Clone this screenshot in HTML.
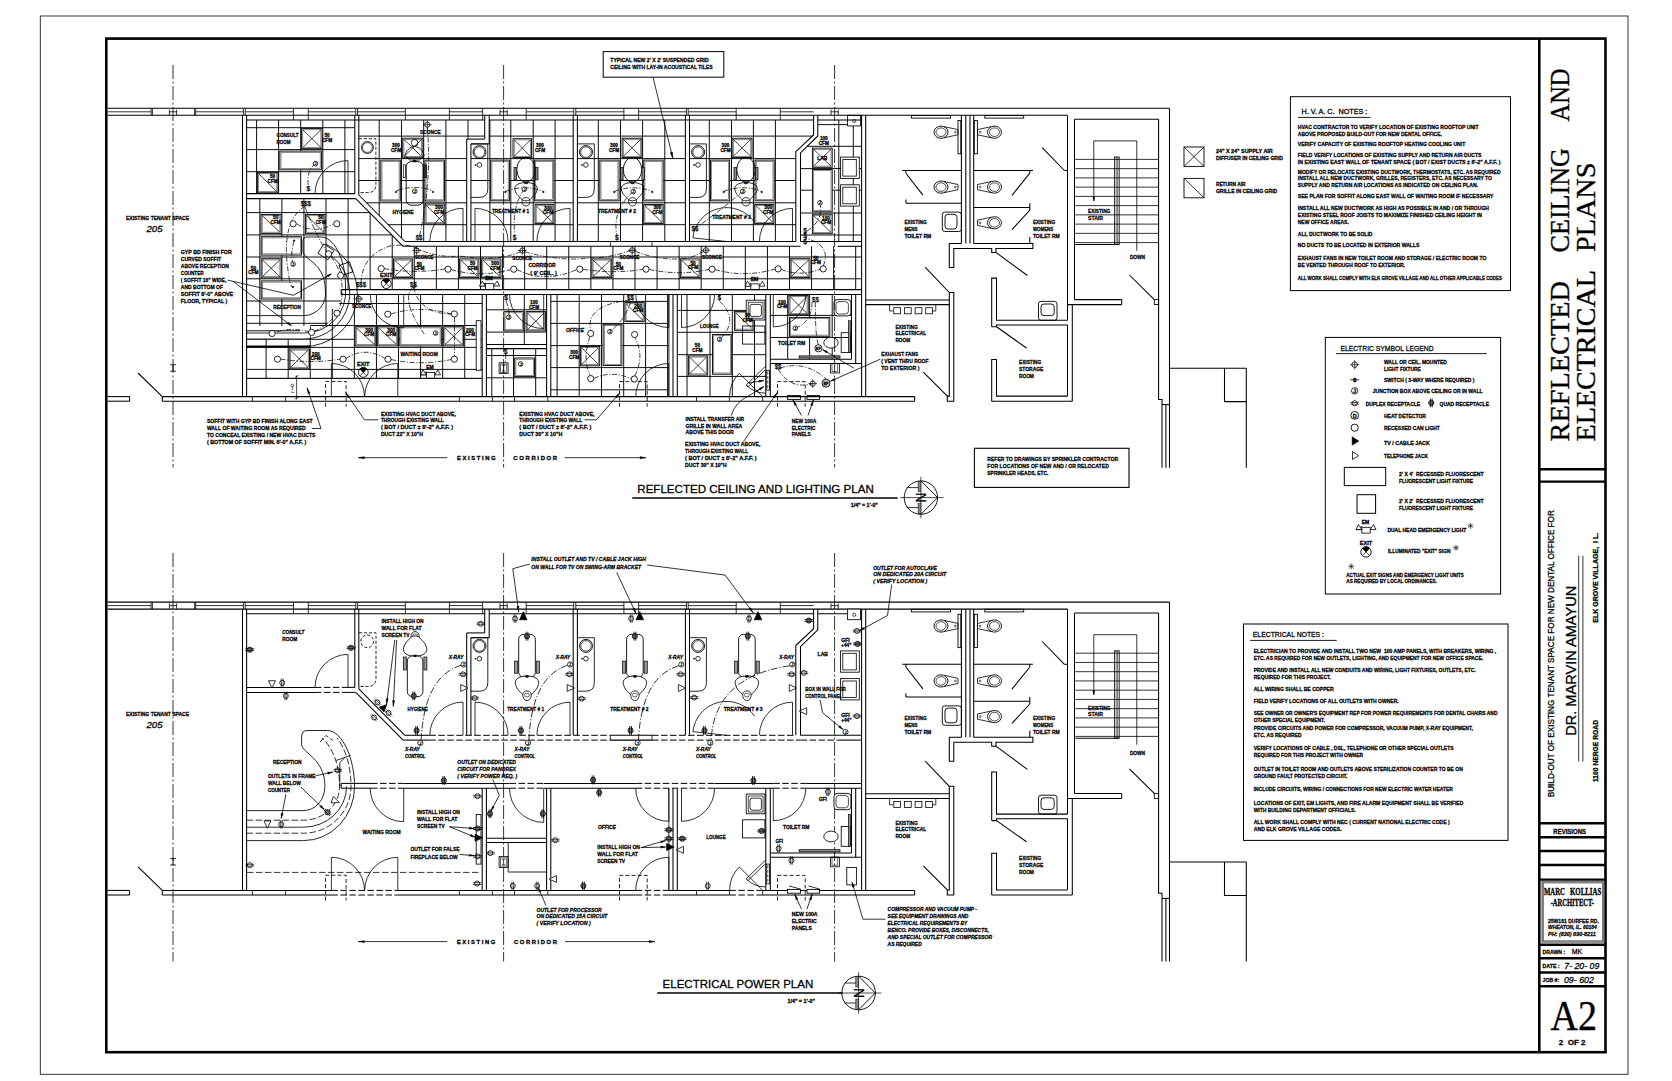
<!DOCTYPE html>
<html><head><meta charset="utf-8"><title>A2 Reflected Ceiling and Electrical Plans</title>
<style>
html,body{margin:0;padding:0;background:#fff;}
svg{display:block}
text{font-family:"Liberation Sans",sans-serif;font-weight:bold;fill:#000;stroke:#000;stroke-width:.28px}
text.r{font-family:"Liberation Serif",serif;font-weight:normal;stroke-width:.35px}
text.n{font-weight:normal}
text.b{font-weight:bold}
</style></head><body>
<svg width="1672" height="1081" viewBox="0 0 1672 1081">
<rect x="0" y="0" width="1672" height="1081" fill="#fff"/>
<rect x="40.3" y="16" width="1587.7" height="1058.3" fill="none" stroke="#222" stroke-width="0.9"/>
<rect x="106.3" y="38.6" width="1499.2" height="1013.6" fill="none" stroke="#000" stroke-width="2.6"/>
<line x1="1539.3" y1="38.6" x2="1539.3" y2="1052.2" stroke="#000" stroke-width="2.6"/>
<line x1="1539.3" y1="469.2" x2="1605.5" y2="469.2" stroke="#000" stroke-width="2.4"/>
<line x1="1539.3" y1="481.6" x2="1605.5" y2="481.6" stroke="#000" stroke-width="2.4"/>
<line x1="1539.3" y1="823.2" x2="1605.5" y2="823.2" stroke="#000" stroke-width="2.4"/>
<line x1="1539.3" y1="837.2" x2="1605.5" y2="837.2" stroke="#000" stroke-width="2.4"/>
<line x1="1539.3" y1="851" x2="1605.5" y2="851" stroke="#000" stroke-width="2.4"/>
<line x1="1539.3" y1="865" x2="1605.5" y2="865" stroke="#000" stroke-width="2.4"/>
<line x1="1539.3" y1="879.6" x2="1605.5" y2="879.6" stroke="#000" stroke-width="2.4"/>
<line x1="1539.3" y1="944.8" x2="1605.5" y2="944.8" stroke="#000" stroke-width="2.4"/>
<line x1="1539.3" y1="958.3" x2="1605.5" y2="958.3" stroke="#000" stroke-width="2.4"/>
<line x1="1539.3" y1="972.5" x2="1605.5" y2="972.5" stroke="#000" stroke-width="2.4"/>
<line x1="1539.3" y1="986.3" x2="1605.5" y2="986.3" stroke="#000" stroke-width="2.4"/>
<rect x="1542.2" y="881.8" width="61.4" height="60.2" fill="none" stroke="#777" stroke-width="1.6"/>
<rect x="1543.4" y="883" width="59" height="57.8" fill="none" stroke="#333" stroke-width="0.6"/>
<text class="r" x="1569" y="441.5" font-size="28.3" textLength="160.5" lengthAdjust="spacingAndGlyphs" transform="rotate(-90 1569 441.5)" xml:space="preserve">REFLECTED</text>
<text class="r" x="1569" y="252.5" font-size="28.3" textLength="104.5" lengthAdjust="spacingAndGlyphs" transform="rotate(-90 1569 252.5)" xml:space="preserve">CEILING</text>
<text class="r" x="1569" y="121.5" font-size="28.3" textLength="53" lengthAdjust="spacingAndGlyphs" transform="rotate(-90 1569 121.5)" xml:space="preserve">AND</text>
<text class="r" x="1595.2" y="441.5" font-size="28.3" textLength="171.5" lengthAdjust="spacingAndGlyphs" transform="rotate(-90 1595.2 441.5)" xml:space="preserve">ELECTRICAL</text>
<text class="r" x="1595.2" y="252" font-size="28.3" textLength="89.5" lengthAdjust="spacingAndGlyphs" transform="rotate(-90 1595.2 252)" xml:space="preserve">PLANS</text>
<text class="n" x="1553.8" y="797.2" font-size="8.2" textLength="287" lengthAdjust="spacingAndGlyphs" transform="rotate(-90 1553.8 797.2)" xml:space="preserve">BUILD-OUT OF EXISTING TENANT SPACE FOR NEW DENTAL OFFICE FOR</text>
<text class="n" x="1576.4" y="735.8" font-size="14.2" textLength="150" lengthAdjust="spacingAndGlyphs" transform="rotate(-90 1576.4 735.8)" xml:space="preserve">DR. MARVIN AMAYUN</text>
<line x1="1578.7" y1="761.5" x2="1578.7" y2="555.7" stroke="#000" stroke-width="0.8"/>
<line x1="1582.9" y1="761.5" x2="1582.9" y2="555.7" stroke="#000" stroke-width="0.8"/>
<text x="1597.7" y="782" font-size="7.4" textLength="62" lengthAdjust="spacingAndGlyphs" transform="rotate(-90 1597.7 782)" xml:space="preserve">1100 NERGE ROAD</text>
<text x="1597.7" y="622.8" font-size="7.4" textLength="90" lengthAdjust="spacingAndGlyphs" transform="rotate(-90 1597.7 622.8)" xml:space="preserve">ELK GROVE VILLAGE,  I L.</text>
<text x="1553.3" y="833.9" font-size="7.4" textLength="32.7" lengthAdjust="spacingAndGlyphs" xml:space="preserve">REVISIONS</text>
<text class="r b" x="1543.9" y="895.2" font-size="11" textLength="21" lengthAdjust="spacingAndGlyphs" xml:space="preserve">MARC</text>
<text class="r b" x="1570" y="895.2" font-size="11" textLength="31.3" lengthAdjust="spacingAndGlyphs" xml:space="preserve">KOLLIAS</text>
<text class="r b" x="1550.7" y="906.3" font-size="9.6" textLength="43.2" lengthAdjust="spacingAndGlyphs" xml:space="preserve">-ARCHITECT-</text>
<text x="1548" y="922.6" font-size="6.2" textLength="50.9" lengthAdjust="spacingAndGlyphs" xml:space="preserve">25W181 DURFEE RD.</text>
<text x="1548" y="929.4" font-size="6.2" font-style="italic" textLength="48.7" lengthAdjust="spacingAndGlyphs" xml:space="preserve">WHEATON, IL. 60184</text>
<text x="1548" y="936.3" font-size="6.2" font-style="italic" textLength="47.7" lengthAdjust="spacingAndGlyphs" xml:space="preserve">PH: (630) 690-8211</text>
<text x="1542.6" y="953.9" font-size="6.2" textLength="22.6" lengthAdjust="spacingAndGlyphs" xml:space="preserve">DRAWN :</text>
<text class="n" x="1571.7" y="954.4" font-size="8" textLength="10.5" lengthAdjust="spacingAndGlyphs" xml:space="preserve">MK</text>
<text x="1542.6" y="968" font-size="6.2" textLength="17" lengthAdjust="spacingAndGlyphs" xml:space="preserve">DATE :</text>
<text class="n" x="1564.3" y="968.6" font-size="9" font-style="italic" textLength="35" lengthAdjust="spacingAndGlyphs" xml:space="preserve">7- 20- 09</text>
<text x="1542.6" y="982.2" font-size="6.2" textLength="16.6" lengthAdjust="spacingAndGlyphs" xml:space="preserve">JOB #:</text>
<text class="n" x="1563.9" y="982.8" font-size="9" font-style="italic" textLength="30" lengthAdjust="spacingAndGlyphs" xml:space="preserve">09- 602</text>
<text class="r" x="1550.5" y="1030.4" font-size="42" textLength="46.5" lengthAdjust="spacingAndGlyphs" fill="#444" xml:space="preserve">A2</text>
<text x="1558.7" y="1045.2" font-size="8" textLength="26.9" lengthAdjust="spacingAndGlyphs" xml:space="preserve">2  OF 2</text>
<clipPath id="c1"><polygon points="246.6,119.9 354.8,119.9 354.8,193.6 246.6,193.6"/></clipPath><g clip-path="url(#c1)">
<line x1="256.6" y1="119.9" x2="256.6" y2="193.6" stroke="#000" stroke-width="0.95"/>
<line x1="278.6" y1="119.9" x2="278.6" y2="193.6" stroke="#000" stroke-width="0.95"/>
<line x1="300.7" y1="119.9" x2="300.7" y2="193.6" stroke="#000" stroke-width="0.95"/>
<line x1="322.8" y1="119.9" x2="322.8" y2="193.6" stroke="#000" stroke-width="0.95"/>
<line x1="344.9" y1="119.9" x2="344.9" y2="193.6" stroke="#000" stroke-width="0.95"/>
<line x1="246.6" y1="127.7" x2="354.8" y2="127.7" stroke="#000" stroke-width="0.95"/>
<line x1="246.6" y1="149.6" x2="354.8" y2="149.6" stroke="#000" stroke-width="0.95"/>
<line x1="246.6" y1="171.7" x2="354.8" y2="171.7" stroke="#000" stroke-width="0.95"/>
</g>
<clipPath id="c2"><polygon points="246.6,198.6 355.8,198.6 403.1,246.3 861.6,246.3 861.6,289.6 341.2,289.6 341.2,302 326,326 246.6,326"/></clipPath><g clip-path="url(#c2)">
<line x1="259.8" y1="198.6" x2="259.8" y2="326" stroke="#000" stroke-width="0.95"/>
<line x1="281.87" y1="198.6" x2="281.87" y2="326" stroke="#000" stroke-width="0.95"/>
<line x1="303.94" y1="198.6" x2="303.94" y2="326" stroke="#000" stroke-width="0.95"/>
<line x1="326.01" y1="198.6" x2="326.01" y2="326" stroke="#000" stroke-width="0.95"/>
<line x1="348.08" y1="198.6" x2="348.08" y2="326" stroke="#000" stroke-width="0.95"/>
<line x1="370.15" y1="198.6" x2="370.15" y2="326" stroke="#000" stroke-width="0.95"/>
<line x1="392.22" y1="198.6" x2="392.22" y2="326" stroke="#000" stroke-width="0.95"/>
<line x1="414.29" y1="198.6" x2="414.29" y2="326" stroke="#000" stroke-width="0.95"/>
<line x1="436.36" y1="198.6" x2="436.36" y2="326" stroke="#000" stroke-width="0.95"/>
<line x1="458.43" y1="198.6" x2="458.43" y2="326" stroke="#000" stroke-width="0.95"/>
<line x1="480.5" y1="198.6" x2="480.5" y2="326" stroke="#000" stroke-width="0.95"/>
<line x1="502.57" y1="198.6" x2="502.57" y2="326" stroke="#000" stroke-width="0.95"/>
<line x1="524.64" y1="198.6" x2="524.64" y2="326" stroke="#000" stroke-width="0.95"/>
<line x1="546.71" y1="198.6" x2="546.71" y2="326" stroke="#000" stroke-width="0.95"/>
<line x1="568.78" y1="198.6" x2="568.78" y2="326" stroke="#000" stroke-width="0.95"/>
<line x1="590.85" y1="198.6" x2="590.85" y2="326" stroke="#000" stroke-width="0.95"/>
<line x1="612.92" y1="198.6" x2="612.92" y2="326" stroke="#000" stroke-width="0.95"/>
<line x1="634.99" y1="198.6" x2="634.99" y2="326" stroke="#000" stroke-width="0.95"/>
<line x1="657.06" y1="198.6" x2="657.06" y2="326" stroke="#000" stroke-width="0.95"/>
<line x1="679.13" y1="198.6" x2="679.13" y2="326" stroke="#000" stroke-width="0.95"/>
<line x1="701.2" y1="198.6" x2="701.2" y2="326" stroke="#000" stroke-width="0.95"/>
<line x1="723.27" y1="198.6" x2="723.27" y2="326" stroke="#000" stroke-width="0.95"/>
<line x1="745.34" y1="198.6" x2="745.34" y2="326" stroke="#000" stroke-width="0.95"/>
<line x1="767.41" y1="198.6" x2="767.41" y2="326" stroke="#000" stroke-width="0.95"/>
<line x1="789.48" y1="198.6" x2="789.48" y2="326" stroke="#000" stroke-width="0.95"/>
<line x1="811.55" y1="198.6" x2="811.55" y2="326" stroke="#000" stroke-width="0.95"/>
<line x1="833.62" y1="198.6" x2="833.62" y2="326" stroke="#000" stroke-width="0.95"/>
<line x1="855.69" y1="198.6" x2="855.69" y2="326" stroke="#000" stroke-width="0.95"/>
<line x1="246.6" y1="212.6" x2="861.6" y2="212.6" stroke="#000" stroke-width="0.95"/>
<line x1="246.6" y1="234.9" x2="861.6" y2="234.9" stroke="#000" stroke-width="0.95"/>
<line x1="246.6" y1="257" x2="861.6" y2="257" stroke="#000" stroke-width="0.95"/>
<line x1="246.6" y1="278.8" x2="861.6" y2="278.8" stroke="#000" stroke-width="0.95"/>
<line x1="246.6" y1="301" x2="861.6" y2="301" stroke="#000" stroke-width="0.95"/>
<line x1="246.6" y1="323.3" x2="861.6" y2="323.3" stroke="#000" stroke-width="0.95"/>
</g>
<clipPath id="c3"><polygon points="246.6,339.3 310,339.3 310,326 341.2,302 341.2,294.4 482.2,294.4 482.2,378.4 246.6,378.4"/></clipPath><g clip-path="url(#c3)">
<line x1="266.1" y1="294.4" x2="266.1" y2="378.4" stroke="#000" stroke-width="0.95"/>
<line x1="288.17" y1="294.4" x2="288.17" y2="378.4" stroke="#000" stroke-width="0.95"/>
<line x1="310.24" y1="294.4" x2="310.24" y2="378.4" stroke="#000" stroke-width="0.95"/>
<line x1="332.31" y1="294.4" x2="332.31" y2="378.4" stroke="#000" stroke-width="0.95"/>
<line x1="354.38" y1="294.4" x2="354.38" y2="378.4" stroke="#000" stroke-width="0.95"/>
<line x1="376.45" y1="294.4" x2="376.45" y2="378.4" stroke="#000" stroke-width="0.95"/>
<line x1="398.52" y1="294.4" x2="398.52" y2="378.4" stroke="#000" stroke-width="0.95"/>
<line x1="420.59" y1="294.4" x2="420.59" y2="378.4" stroke="#000" stroke-width="0.95"/>
<line x1="442.66" y1="294.4" x2="442.66" y2="378.4" stroke="#000" stroke-width="0.95"/>
<line x1="464.73" y1="294.4" x2="464.73" y2="378.4" stroke="#000" stroke-width="0.95"/>
<line x1="246.6" y1="303.5" x2="482.2" y2="303.5" stroke="#000" stroke-width="0.95"/>
<line x1="246.6" y1="325.5" x2="482.2" y2="325.5" stroke="#000" stroke-width="0.95"/>
<line x1="246.6" y1="339.3" x2="482.2" y2="339.3" stroke="#000" stroke-width="0.95"/>
<line x1="246.6" y1="347.4" x2="482.2" y2="347.4" stroke="#000" stroke-width="0.95"/>
<line x1="246.6" y1="369.4" x2="482.2" y2="369.4" stroke="#000" stroke-width="0.95"/>
<line x1="246.6" y1="378.4" x2="482.2" y2="378.4" stroke="#000" stroke-width="0.95"/>
</g>
<line x1="246.6" y1="378.4" x2="482.2" y2="378.4" stroke="#000" stroke-width="0.95"/>
<line x1="246.6" y1="346.5" x2="310" y2="346.5" stroke="#000" stroke-width="1.8"/>
<clipPath id="c4"><polygon points="358.8,119.9 484.7,119.9 484.7,139.1 466.7,139.1 466.7,241.5 404.9,241.5 358.8,195"/></clipPath><g clip-path="url(#c4)">
<line x1="379.2" y1="119.9" x2="379.2" y2="241.5" stroke="#000" stroke-width="0.95"/>
<line x1="401.5" y1="119.9" x2="401.5" y2="241.5" stroke="#000" stroke-width="0.95"/>
<line x1="423.7" y1="119.9" x2="423.7" y2="241.5" stroke="#000" stroke-width="0.95"/>
<line x1="445.9" y1="119.9" x2="445.9" y2="241.5" stroke="#000" stroke-width="0.95"/>
<line x1="468" y1="119.9" x2="468" y2="241.5" stroke="#000" stroke-width="0.95"/>
<line x1="358.8" y1="136.1" x2="484.7" y2="136.1" stroke="#000" stroke-width="0.95"/>
<line x1="358.8" y1="158.6" x2="484.7" y2="158.6" stroke="#000" stroke-width="0.95"/>
<line x1="358.8" y1="180.5" x2="484.7" y2="180.5" stroke="#000" stroke-width="0.95"/>
<line x1="358.8" y1="202.8" x2="484.7" y2="202.8" stroke="#000" stroke-width="0.95"/>
<line x1="358.8" y1="224.7" x2="484.7" y2="224.7" stroke="#000" stroke-width="0.95"/>
</g>
<clipPath id="c5"><polygon points="489.2,119.9 573.2,119.9 573.2,241.5 470.9,241.5 470.9,143.9 489.2,143.9"/></clipPath><g clip-path="url(#c5)">
<line x1="489.9" y1="119.9" x2="489.9" y2="241.5" stroke="#000" stroke-width="0.95"/>
<line x1="510.8" y1="119.9" x2="510.8" y2="241.5" stroke="#000" stroke-width="0.95"/>
<line x1="533.2" y1="119.9" x2="533.2" y2="241.5" stroke="#000" stroke-width="0.95"/>
<line x1="555.1" y1="119.9" x2="555.1" y2="241.5" stroke="#000" stroke-width="0.95"/>
<line x1="470.9" y1="136.1" x2="573.2" y2="136.1" stroke="#000" stroke-width="0.95"/>
<line x1="470.9" y1="158.6" x2="573.2" y2="158.6" stroke="#000" stroke-width="0.95"/>
<line x1="470.9" y1="180.5" x2="573.2" y2="180.5" stroke="#000" stroke-width="0.95"/>
<line x1="470.9" y1="202.8" x2="573.2" y2="202.8" stroke="#000" stroke-width="0.95"/>
<line x1="470.9" y1="224.7" x2="573.2" y2="224.7" stroke="#000" stroke-width="0.95"/>
</g>
<clipPath id="c6"><polygon points="577.4,119.9 685.4,119.9 685.4,241.5 577.4,241.5"/></clipPath><g clip-path="url(#c6)">
<line x1="598.3" y1="119.9" x2="598.3" y2="241.5" stroke="#000" stroke-width="0.95"/>
<line x1="620.5" y1="119.9" x2="620.5" y2="241.5" stroke="#000" stroke-width="0.95"/>
<line x1="642.6" y1="119.9" x2="642.6" y2="241.5" stroke="#000" stroke-width="0.95"/>
<line x1="664.8" y1="119.9" x2="664.8" y2="241.5" stroke="#000" stroke-width="0.95"/>
<line x1="577.4" y1="136.1" x2="685.4" y2="136.1" stroke="#000" stroke-width="0.95"/>
<line x1="577.4" y1="158.6" x2="685.4" y2="158.6" stroke="#000" stroke-width="0.95"/>
<line x1="577.4" y1="180.5" x2="685.4" y2="180.5" stroke="#000" stroke-width="0.95"/>
<line x1="577.4" y1="202.8" x2="685.4" y2="202.8" stroke="#000" stroke-width="0.95"/>
<line x1="577.4" y1="224.7" x2="685.4" y2="224.7" stroke="#000" stroke-width="0.95"/>
</g>
<clipPath id="c7"><polygon points="689.5,119.9 813.6,119.9 813.6,134.9 795.8,151.7 795.8,241.5 689.5,241.5"/></clipPath><g clip-path="url(#c7)">
<line x1="709.3" y1="119.9" x2="709.3" y2="241.5" stroke="#000" stroke-width="0.95"/>
<line x1="731.5" y1="119.9" x2="731.5" y2="241.5" stroke="#000" stroke-width="0.95"/>
<line x1="753.4" y1="119.9" x2="753.4" y2="241.5" stroke="#000" stroke-width="0.95"/>
<line x1="775.4" y1="119.9" x2="775.4" y2="241.5" stroke="#000" stroke-width="0.95"/>
<line x1="689.5" y1="136.1" x2="813.6" y2="136.1" stroke="#000" stroke-width="0.95"/>
<line x1="689.5" y1="158.6" x2="813.6" y2="158.6" stroke="#000" stroke-width="0.95"/>
<line x1="689.5" y1="180.5" x2="813.6" y2="180.5" stroke="#000" stroke-width="0.95"/>
<line x1="689.5" y1="202.8" x2="813.6" y2="202.8" stroke="#000" stroke-width="0.95"/>
<line x1="689.5" y1="224.7" x2="813.6" y2="224.7" stroke="#000" stroke-width="0.95"/>
</g>
<clipPath id="c8"><polygon points="817.8,119.9 861.6,119.9 861.6,241.5 800.5,241.5 800.5,152.9 817.8,136"/></clipPath><g clip-path="url(#c8)">
<line x1="838.8" y1="119.9" x2="838.8" y2="241.5" stroke="#000" stroke-width="0.95"/>
<line x1="853.3" y1="119.9" x2="853.3" y2="241.5" stroke="#000" stroke-width="0.95"/>
<line x1="800.5" y1="124.6" x2="861.6" y2="124.6" stroke="#000" stroke-width="0.95"/>
<line x1="800.5" y1="146.3" x2="861.6" y2="146.3" stroke="#000" stroke-width="0.95"/>
<line x1="800.5" y1="168.6" x2="861.6" y2="168.6" stroke="#000" stroke-width="0.95"/>
<line x1="800.5" y1="190.2" x2="861.6" y2="190.2" stroke="#000" stroke-width="0.95"/>
<line x1="800.5" y1="213" x2="861.6" y2="213" stroke="#000" stroke-width="0.95"/>
<line x1="800.5" y1="235" x2="861.6" y2="235" stroke="#000" stroke-width="0.95"/>
</g>
<clipPath id="c9"><polygon points="486.4,294.4 546.6,294.4 546.6,344.4 486.4,344.4"/></clipPath><g clip-path="url(#c9)">
<line x1="524.3" y1="294.4" x2="524.3" y2="344.4" stroke="#000" stroke-width="0.95"/>
<line x1="486.4" y1="309.8" x2="546.6" y2="309.8" stroke="#000" stroke-width="0.95"/>
<line x1="486.4" y1="332.1" x2="546.6" y2="332.1" stroke="#000" stroke-width="0.95"/>
</g>
<clipPath id="c10"><polygon points="486.4,348.6 546.6,348.6 546.6,396.6 486.4,396.6"/></clipPath><g clip-path="url(#c10)">
<line x1="491.8" y1="348.6" x2="491.8" y2="396.6" stroke="#000" stroke-width="0.95"/>
<line x1="513.5" y1="348.6" x2="513.5" y2="396.6" stroke="#000" stroke-width="0.95"/>
<line x1="535.7" y1="348.6" x2="535.7" y2="396.6" stroke="#000" stroke-width="0.95"/>
<line x1="486.4" y1="355.5" x2="546.6" y2="355.5" stroke="#000" stroke-width="0.95"/>
<line x1="486.4" y1="377.8" x2="546.6" y2="377.8" stroke="#000" stroke-width="0.95"/>
</g>
<clipPath id="c11"><polygon points="550.8,294.4 668.9,294.4 668.9,396.6 550.8,396.6"/></clipPath><g clip-path="url(#c11)">
<line x1="557.1" y1="294.4" x2="557.1" y2="396.6" stroke="#000" stroke-width="0.95"/>
<line x1="579.2" y1="294.4" x2="579.2" y2="396.6" stroke="#000" stroke-width="0.95"/>
<line x1="601.5" y1="294.4" x2="601.5" y2="396.6" stroke="#000" stroke-width="0.95"/>
<line x1="623.7" y1="294.4" x2="623.7" y2="396.6" stroke="#000" stroke-width="0.95"/>
<line x1="645.6" y1="294.4" x2="645.6" y2="396.6" stroke="#000" stroke-width="0.95"/>
<line x1="667.6" y1="294.4" x2="667.6" y2="396.6" stroke="#000" stroke-width="0.95"/>
<line x1="550.8" y1="301.4" x2="668.9" y2="301.4" stroke="#000" stroke-width="0.95"/>
<line x1="550.8" y1="323.4" x2="668.9" y2="323.4" stroke="#000" stroke-width="0.95"/>
<line x1="550.8" y1="345.6" x2="668.9" y2="345.6" stroke="#000" stroke-width="0.95"/>
<line x1="550.8" y1="367.6" x2="668.9" y2="367.6" stroke="#000" stroke-width="0.95"/>
<line x1="550.8" y1="389.8" x2="668.9" y2="389.8" stroke="#000" stroke-width="0.95"/>
</g>
<clipPath id="c12"><polygon points="677.3,294.4 765.8,294.4 765.8,396.6 677.3,396.6"/></clipPath><g clip-path="url(#c12)">
<line x1="687" y1="294.4" x2="687" y2="396.6" stroke="#000" stroke-width="0.95"/>
<line x1="710" y1="294.4" x2="710" y2="396.6" stroke="#000" stroke-width="0.95"/>
<line x1="732.3" y1="294.4" x2="732.3" y2="396.6" stroke="#000" stroke-width="0.95"/>
<line x1="754.5" y1="294.4" x2="754.5" y2="396.6" stroke="#000" stroke-width="0.95"/>
<line x1="677.3" y1="310.4" x2="765.8" y2="310.4" stroke="#000" stroke-width="0.95"/>
<line x1="677.3" y1="332.3" x2="765.8" y2="332.3" stroke="#000" stroke-width="0.95"/>
<line x1="677.3" y1="354.7" x2="765.8" y2="354.7" stroke="#000" stroke-width="0.95"/>
<line x1="677.3" y1="376.4" x2="765.8" y2="376.4" stroke="#000" stroke-width="0.95"/>
</g>
<clipPath id="c13"><polygon points="770.3,294.4 851.5,294.4 851.5,359.2 770.3,359.2"/></clipPath><g clip-path="url(#c13)">
<line x1="787.7" y1="294.4" x2="787.7" y2="359.2" stroke="#000" stroke-width="0.95"/>
<line x1="809.6" y1="294.4" x2="809.6" y2="359.2" stroke="#000" stroke-width="0.95"/>
<line x1="832.2" y1="294.4" x2="832.2" y2="359.2" stroke="#000" stroke-width="0.95"/>
<line x1="770.3" y1="315.4" x2="851.5" y2="315.4" stroke="#000" stroke-width="0.95"/>
<line x1="770.3" y1="337.5" x2="851.5" y2="337.5" stroke="#000" stroke-width="0.95"/>
</g>
<path d="M 306 237 H 323 C 336 240 346 262 345.5 288 A 41 41 0 0 1 303.8 333 H246.6" fill="none" stroke="#000" stroke-width="0.85"/>
<path d="M 306 237 Q 303.2 237 303 241 V 251 C 303 260 325 262 325.3 290 A 22 22 0 0 1 304 315.6 H 246.6" fill="none" stroke="#000" stroke-width="0.85"/>
<path d="M325.4 252.38 A46 46 0 0 1 303.8 339 L246.6 339" fill="none" stroke="#000" stroke-width="0.85"/>
<path d="M325.6 244.03 A53.6 53.6 0 0 1 303.8 346.6 L246.6 346.6" fill="none" stroke="#000" stroke-width="0.85"/>
<g transform="rotate(33 327 252)">
<rect x="320" y="247" width="12" height="11" fill="none" stroke="#000" stroke-width="0.8"/>
</g>
<g transform="rotate(-20 346 270)">
<rect x="341" y="263.5" width="11" height="10.5" fill="none" stroke="#000" stroke-width="0.8"/>
</g>
<line x1="246.6" y1="330.8" x2="300" y2="330.8" stroke="#000" stroke-width="0.95"/>
<rect x="301.6" y="128.6" width="20.5" height="20.1" fill="#fff" stroke="#000" stroke-width="0.9"/>
<rect x="302.8" y="129.8" width="18.1" height="17.7" fill="none" stroke="#444" stroke-width="0.6"/>
<line x1="302.8" y1="129.8" x2="320.9" y2="147.5" stroke="#000" stroke-width="0.75"/>
<line x1="320.9" y1="129.8" x2="302.8" y2="147.5" stroke="#000" stroke-width="0.75"/>
<rect x="279.8" y="151.1" width="41.6" height="18.7" fill="#fff" stroke="#000" stroke-width="0.9"/>
<rect x="281" y="152.3" width="39.2" height="16.3" fill="none" stroke="#444" stroke-width="0.6"/>
<rect x="257.4" y="172.4" width="20.6" height="20.4" fill="#fff" stroke="#000" stroke-width="0.9"/>
<rect x="258.6" y="173.6" width="18.2" height="18" fill="none" stroke="#444" stroke-width="0.6"/>
<line x1="258.6" y1="173.6" x2="276.8" y2="191.6" stroke="#000" stroke-width="0.75"/>
<rect x="261" y="214.4" width="20.1" height="19" fill="#fff" stroke="#000" stroke-width="0.9"/>
<rect x="262.2" y="215.6" width="17.7" height="16.6" fill="none" stroke="#444" stroke-width="0.6"/>
<line x1="262.2" y1="215.6" x2="279.9" y2="232.2" stroke="#000" stroke-width="0.75"/>
<rect x="305.5" y="214.4" width="19.5" height="19" fill="#fff" stroke="#000" stroke-width="0.9"/>
<rect x="306.7" y="215.6" width="17.1" height="16.6" fill="none" stroke="#444" stroke-width="0.6"/>
<line x1="306.7" y1="215.6" x2="323.8" y2="232.2" stroke="#000" stroke-width="0.75"/>
<rect x="261.2" y="236.7" width="40.3" height="18.4" fill="#fff" stroke="#000" stroke-width="0.9"/>
<rect x="262.4" y="237.9" width="37.9" height="16" fill="none" stroke="#444" stroke-width="0.6"/>
<rect x="261.2" y="258.7" width="19.9" height="19.2" fill="#fff" stroke="#000" stroke-width="0.9"/>
<rect x="262.4" y="259.9" width="17.5" height="16.8" fill="none" stroke="#444" stroke-width="0.6"/>
<line x1="262.4" y1="259.9" x2="279.9" y2="276.7" stroke="#000" stroke-width="0.75"/>
<line x1="279.9" y1="259.9" x2="262.4" y2="276.7" stroke="#000" stroke-width="0.75"/>
<rect x="261.2" y="280.9" width="40.3" height="18.1" fill="#fff" stroke="#000" stroke-width="0.9"/>
<rect x="262.4" y="282.1" width="37.9" height="15.7" fill="none" stroke="#444" stroke-width="0.6"/>
<rect x="402.7" y="138.2" width="20.2" height="19.5" fill="#fff" stroke="#000" stroke-width="0.9"/>
<rect x="403.9" y="139.4" width="17.8" height="17.1" fill="none" stroke="#444" stroke-width="0.6"/>
<line x1="403.9" y1="139.4" x2="421.7" y2="156.5" stroke="#000" stroke-width="0.75"/>
<line x1="421.7" y1="139.4" x2="403.9" y2="156.5" stroke="#000" stroke-width="0.75"/>
<rect x="380.8" y="160.1" width="19.5" height="40.9" fill="#fff" stroke="#000" stroke-width="0.9"/>
<rect x="382" y="161.3" width="17.1" height="38.5" fill="none" stroke="#444" stroke-width="0.6"/>
<rect x="424.9" y="160.1" width="19.6" height="40.9" fill="#fff" stroke="#000" stroke-width="0.9"/>
<rect x="426.1" y="161.3" width="17.2" height="38.5" fill="none" stroke="#444" stroke-width="0.6"/>
<rect x="424.9" y="204" width="19.9" height="19.9" fill="#fff" stroke="#000" stroke-width="0.9"/>
<rect x="426.1" y="205.2" width="17.5" height="17.5" fill="none" stroke="#444" stroke-width="0.6"/>
<line x1="426.1" y1="205.2" x2="443.6" y2="222.7" stroke="#000" stroke-width="0.75"/>
<rect x="513" y="138.7" width="18.6" height="18.8" fill="#fff" stroke="#000" stroke-width="0.9"/>
<rect x="514.2" y="139.9" width="16.2" height="16.4" fill="none" stroke="#444" stroke-width="0.6"/>
<line x1="514.2" y1="139.9" x2="530.4" y2="156.3" stroke="#000" stroke-width="0.75"/>
<line x1="530.4" y1="139.9" x2="514.2" y2="156.3" stroke="#000" stroke-width="0.75"/>
<rect x="490.7" y="160.1" width="18.7" height="40.7" fill="#fff" stroke="#000" stroke-width="0.9"/>
<rect x="491.9" y="161.3" width="16.3" height="38.3" fill="none" stroke="#444" stroke-width="0.6"/>
<rect x="534.4" y="160.1" width="19.5" height="40.7" fill="#fff" stroke="#000" stroke-width="0.9"/>
<rect x="535.6" y="161.3" width="17.1" height="38.3" fill="none" stroke="#444" stroke-width="0.6"/>
<rect x="535" y="204.6" width="18.9" height="19" fill="#fff" stroke="#000" stroke-width="0.9"/>
<rect x="536.2" y="205.8" width="16.5" height="16.6" fill="none" stroke="#444" stroke-width="0.6"/>
<line x1="536.2" y1="205.8" x2="552.7" y2="222.4" stroke="#000" stroke-width="0.75"/>
<rect x="622.1" y="138.2" width="19.8" height="19.3" fill="#fff" stroke="#000" stroke-width="0.9"/>
<rect x="623.3" y="139.4" width="17.4" height="16.9" fill="none" stroke="#444" stroke-width="0.6"/>
<line x1="623.3" y1="139.4" x2="640.7" y2="156.3" stroke="#000" stroke-width="0.75"/>
<line x1="640.7" y1="139.4" x2="623.3" y2="156.3" stroke="#000" stroke-width="0.75"/>
<rect x="599.8" y="160.1" width="19.3" height="40.7" fill="#fff" stroke="#000" stroke-width="0.9"/>
<rect x="601" y="161.3" width="16.9" height="38.3" fill="none" stroke="#444" stroke-width="0.6"/>
<rect x="643.7" y="160.1" width="19.5" height="40.7" fill="#fff" stroke="#000" stroke-width="0.9"/>
<rect x="644.9" y="161.3" width="17.1" height="38.3" fill="none" stroke="#444" stroke-width="0.6"/>
<rect x="643.7" y="204.4" width="19.5" height="19.2" fill="#fff" stroke="#000" stroke-width="0.9"/>
<rect x="644.9" y="205.6" width="17.1" height="16.8" fill="none" stroke="#444" stroke-width="0.6"/>
<line x1="644.9" y1="205.6" x2="662" y2="222.4" stroke="#000" stroke-width="0.75"/>
<rect x="732.1" y="138.2" width="19.9" height="19.3" fill="#fff" stroke="#000" stroke-width="0.9"/>
<rect x="733.3" y="139.4" width="17.5" height="16.9" fill="none" stroke="#444" stroke-width="0.6"/>
<line x1="733.3" y1="139.4" x2="750.8" y2="156.3" stroke="#000" stroke-width="0.75"/>
<line x1="750.8" y1="139.4" x2="733.3" y2="156.3" stroke="#000" stroke-width="0.75"/>
<rect x="710.5" y="160.1" width="19.2" height="40.7" fill="#fff" stroke="#000" stroke-width="0.9"/>
<rect x="711.7" y="161.3" width="16.8" height="38.3" fill="none" stroke="#444" stroke-width="0.6"/>
<rect x="755" y="160.1" width="19.2" height="40.7" fill="#fff" stroke="#000" stroke-width="0.9"/>
<rect x="756.2" y="161.3" width="16.8" height="38.3" fill="none" stroke="#444" stroke-width="0.6"/>
<rect x="754.7" y="204.4" width="19.2" height="19.2" fill="#fff" stroke="#000" stroke-width="0.9"/>
<rect x="755.9" y="205.6" width="16.8" height="16.8" fill="none" stroke="#444" stroke-width="0.6"/>
<line x1="755.9" y1="205.6" x2="772.7" y2="222.4" stroke="#000" stroke-width="0.75"/>
<rect x="812.4" y="148.1" width="19.8" height="19.2" fill="#fff" stroke="#000" stroke-width="0.9"/>
<rect x="813.6" y="149.3" width="17.4" height="16.8" fill="none" stroke="#444" stroke-width="0.6"/>
<line x1="813.6" y1="149.3" x2="831" y2="166.1" stroke="#000" stroke-width="0.75"/>
<line x1="831" y1="149.3" x2="813.6" y2="166.1" stroke="#000" stroke-width="0.75"/>
<rect x="812.4" y="169.5" width="19.8" height="42.3" fill="#fff" stroke="#000" stroke-width="0.9"/>
<rect x="813.6" y="170.7" width="17.4" height="39.9" fill="none" stroke="#444" stroke-width="0.6"/>
<rect x="812.4" y="214.2" width="19.8" height="19.5" fill="#fff" stroke="#000" stroke-width="0.9"/>
<rect x="813.6" y="215.4" width="17.4" height="17.1" fill="none" stroke="#444" stroke-width="0.6"/>
<line x1="813.6" y1="215.4" x2="831" y2="232.5" stroke="#000" stroke-width="0.75"/>
<rect x="840.6" y="157.1" width="18.7" height="21.3" fill="#fff" stroke="#000" stroke-width="0.85"/>
<rect x="842.8" y="159.5" width="13.5" height="16.6" fill="none" stroke="#000" stroke-width="0.8"/>
<rect x="840.6" y="184.8" width="18.7" height="21.3" fill="#fff" stroke="#000" stroke-width="0.85"/>
<rect x="842.8" y="187.2" width="13.5" height="16.6" fill="none" stroke="#000" stroke-width="0.8"/>
<rect x="847.6" y="115.3" width="12.9" height="10.6" fill="#fff" stroke="#000" stroke-width="0.85"/>
<circle cx="854.2" cy="121" r="1.6" fill="none" stroke="#000" stroke-width="0.7"/>
<rect x="393.5" y="258.9" width="19.2" height="18.7" fill="#fff" stroke="#000" stroke-width="0.9"/>
<rect x="394.7" y="260.1" width="16.8" height="16.3" fill="none" stroke="#444" stroke-width="0.6"/>
<line x1="394.7" y1="260.1" x2="411.5" y2="276.4" stroke="#000" stroke-width="0.75"/>
<line x1="411.5" y1="260.1" x2="394.7" y2="276.4" stroke="#000" stroke-width="0.75"/>
<rect x="459.6" y="258.9" width="19.3" height="18.7" fill="#fff" stroke="#000" stroke-width="0.9"/>
<rect x="460.8" y="260.1" width="16.9" height="16.3" fill="none" stroke="#444" stroke-width="0.6"/>
<line x1="460.8" y1="260.1" x2="477.7" y2="276.4" stroke="#000" stroke-width="0.75"/>
<rect x="481.6" y="258.9" width="19.3" height="18.7" fill="#fff" stroke="#000" stroke-width="0.9"/>
<rect x="482.8" y="260.1" width="16.9" height="16.3" fill="none" stroke="#444" stroke-width="0.6"/>
<line x1="482.8" y1="260.1" x2="499.7" y2="276.4" stroke="#000" stroke-width="0.75"/>
<rect x="591.9" y="258.9" width="19.8" height="18.7" fill="#fff" stroke="#000" stroke-width="0.9"/>
<rect x="593.1" y="260.1" width="17.4" height="16.3" fill="none" stroke="#444" stroke-width="0.6"/>
<line x1="593.1" y1="260.1" x2="610.5" y2="276.4" stroke="#000" stroke-width="0.75"/>
<line x1="610.5" y1="260.1" x2="593.1" y2="276.4" stroke="#000" stroke-width="0.75"/>
<rect x="680.3" y="258.9" width="19.8" height="18.7" fill="#fff" stroke="#000" stroke-width="0.9"/>
<rect x="681.5" y="260.1" width="17.4" height="16.3" fill="none" stroke="#444" stroke-width="0.6"/>
<line x1="681.5" y1="260.1" x2="698.9" y2="276.4" stroke="#000" stroke-width="0.75"/>
<rect x="790.1" y="258.7" width="19.9" height="18.9" fill="#fff" stroke="#000" stroke-width="0.9"/>
<rect x="791.3" y="259.9" width="17.5" height="16.5" fill="none" stroke="#444" stroke-width="0.6"/>
<line x1="791.3" y1="259.9" x2="808.8" y2="276.4" stroke="#000" stroke-width="0.75"/>
<line x1="808.8" y1="259.9" x2="791.3" y2="276.4" stroke="#000" stroke-width="0.75"/>
<rect x="289.2" y="348.9" width="20.2" height="19.9" fill="#fff" stroke="#000" stroke-width="0.9"/>
<rect x="290.4" y="350.1" width="17.8" height="17.5" fill="none" stroke="#444" stroke-width="0.6"/>
<line x1="290.4" y1="350.1" x2="308.2" y2="367.6" stroke="#000" stroke-width="0.75"/>
<line x1="308.2" y1="350.1" x2="290.4" y2="367.6" stroke="#000" stroke-width="0.75"/>
<rect x="355.1" y="326.7" width="20.7" height="19.2" fill="#fff" stroke="#000" stroke-width="0.9"/>
<rect x="356.3" y="327.9" width="18.3" height="16.8" fill="none" stroke="#444" stroke-width="0.6"/>
<line x1="356.3" y1="327.9" x2="374.6" y2="344.7" stroke="#000" stroke-width="0.75"/>
<rect x="377.3" y="326.7" width="20.5" height="19.2" fill="#fff" stroke="#000" stroke-width="0.9"/>
<rect x="378.5" y="327.9" width="18.1" height="16.8" fill="none" stroke="#444" stroke-width="0.6"/>
<line x1="378.5" y1="327.9" x2="396.6" y2="344.7" stroke="#000" stroke-width="0.75"/>
<rect x="399.8" y="326.7" width="41.5" height="19.2" fill="#fff" stroke="#000" stroke-width="0.9"/>
<rect x="401" y="327.9" width="39.1" height="16.8" fill="none" stroke="#444" stroke-width="0.6"/>
<rect x="443.7" y="326.7" width="19.9" height="19.2" fill="#fff" stroke="#000" stroke-width="0.9"/>
<rect x="444.9" y="327.9" width="17.5" height="16.8" fill="none" stroke="#444" stroke-width="0.6"/>
<line x1="444.9" y1="327.9" x2="462.4" y2="344.7" stroke="#000" stroke-width="0.75"/>
<line x1="462.4" y1="327.9" x2="444.9" y2="344.7" stroke="#000" stroke-width="0.75"/>
<rect x="503.9" y="311.6" width="19.8" height="19.3" fill="#fff" stroke="#000" stroke-width="0.9"/>
<rect x="505.1" y="312.8" width="17.4" height="16.9" fill="none" stroke="#444" stroke-width="0.6"/>
<rect x="526.1" y="311.6" width="19.3" height="19.3" fill="#fff" stroke="#000" stroke-width="0.9"/>
<rect x="527.3" y="312.8" width="16.9" height="16.9" fill="none" stroke="#444" stroke-width="0.6"/>
<line x1="527.3" y1="312.8" x2="544.2" y2="329.7" stroke="#000" stroke-width="0.75"/>
<line x1="544.2" y1="312.8" x2="527.3" y2="329.7" stroke="#000" stroke-width="0.75"/>
<rect x="514.7" y="358" width="19.8" height="18.6" fill="#fff" stroke="#000" stroke-width="0.9"/>
<rect x="515.9" y="359.2" width="17.4" height="16.2" fill="none" stroke="#444" stroke-width="0.6"/>
<rect x="499.1" y="362.8" width="9" height="10.8" fill="#fff" stroke="#000" stroke-width="0.8"/>
<rect x="500.4" y="364.1" width="6.4" height="8.2" fill="none" stroke="#000" stroke-width="0.6"/>
<line x1="503.6" y1="365.5" x2="503.6" y2="371" stroke="#000" stroke-width="0.7"/>
<line x1="502" y1="365.5" x2="505.2" y2="365.5" stroke="#000" stroke-width="0.7"/>
<line x1="502" y1="371" x2="505.2" y2="371" stroke="#000" stroke-width="0.7"/>
<rect x="624.9" y="302.6" width="19.3" height="18.9" fill="#fff" stroke="#000" stroke-width="0.9"/>
<rect x="626.1" y="303.8" width="16.9" height="16.5" fill="none" stroke="#444" stroke-width="0.6"/>
<line x1="626.1" y1="303.8" x2="643" y2="320.3" stroke="#000" stroke-width="0.75"/>
<rect x="580.4" y="346.5" width="19.3" height="19.3" fill="#fff" stroke="#000" stroke-width="0.9"/>
<rect x="581.6" y="347.7" width="16.9" height="16.9" fill="none" stroke="#444" stroke-width="0.6"/>
<line x1="581.6" y1="347.7" x2="598.5" y2="364.6" stroke="#000" stroke-width="0.75"/>
<line x1="598.5" y1="347.7" x2="581.6" y2="364.6" stroke="#000" stroke-width="0.75"/>
<rect x="603.1" y="324.3" width="18.8" height="41.2" fill="#fff" stroke="#000" stroke-width="0.9"/>
<rect x="604.3" y="325.5" width="16.4" height="38.8" fill="none" stroke="#444" stroke-width="0.6"/>
<rect x="688.4" y="355.9" width="19.3" height="19.2" fill="#fff" stroke="#000" stroke-width="0.9"/>
<rect x="689.6" y="357.1" width="16.9" height="16.8" fill="none" stroke="#444" stroke-width="0.6"/>
<line x1="689.6" y1="357.1" x2="706.5" y2="373.9" stroke="#000" stroke-width="0.75"/>
<line x1="706.5" y1="357.1" x2="689.6" y2="373.9" stroke="#000" stroke-width="0.75"/>
<rect x="712.5" y="334.5" width="19.2" height="39.7" fill="#fff" stroke="#000" stroke-width="0.9"/>
<rect x="713.7" y="335.7" width="16.8" height="37.3" fill="none" stroke="#444" stroke-width="0.6"/>
<rect x="734.4" y="311.6" width="19.5" height="18.7" fill="#fff" stroke="#000" stroke-width="0.9"/>
<rect x="735.6" y="312.8" width="17.1" height="16.3" fill="none" stroke="#444" stroke-width="0.6"/>
<line x1="735.6" y1="312.8" x2="752.7" y2="329.1" stroke="#000" stroke-width="0.75"/>
<rect x="746.2" y="300.2" width="18.7" height="19.8" fill="#fff" stroke="#000" stroke-width="0.85"/>
<rect x="748.2" y="302.2" width="14.8" height="16" fill="none" stroke="#000" stroke-width="0.7"/>
<rect x="750" y="304.4" width="11.4" height="12" fill="none" stroke="#000" stroke-width="0.8" rx="2"/>
<rect x="742.6" y="326" width="22.3" height="18.1" fill="none" stroke="#000" stroke-width="0.85"/>
<rect x="788.9" y="295.4" width="19.3" height="19.3" fill="#fff" stroke="#000" stroke-width="0.9"/>
<rect x="790.1" y="296.6" width="16.9" height="16.9" fill="none" stroke="#444" stroke-width="0.6"/>
<line x1="790.1" y1="296.6" x2="807" y2="313.5" stroke="#000" stroke-width="0.75"/>
<line x1="807" y1="296.6" x2="790.1" y2="313.5" stroke="#000" stroke-width="0.75"/>
<rect x="789.5" y="317.4" width="40.3" height="18.9" fill="#fff" stroke="#000" stroke-width="0.9"/>
<rect x="790.7" y="318.6" width="37.9" height="16.5" fill="none" stroke="#444" stroke-width="0.6"/>
<rect x="476.2" y="320.7" width="4.8" height="49.6" fill="#fff" stroke="#000" stroke-width="0.85"/>
<path d="M358.8 138.7 H375.9 V184.5 Q375.9 192.6 367.5 192.6 H358.8" fill="none" stroke="#000" stroke-width="0.85" stroke-dasharray="3.2 1.8"/>
<circle cx="367.4" cy="147.5" r="6" fill="none" stroke="#000" stroke-width="0.85"/>
<circle cx="367.4" cy="147.5" r="4.9" fill="none" stroke="#000" stroke-width="0.7"/>
<path d="M470.9 143.9 H487.8 V189 Q487.8 197.4 479.4 197.4 H470.9" fill="none" stroke="#000" stroke-width="0.85"/>
<circle cx="479.5" cy="152.1" r="6.5" fill="none" stroke="#000" stroke-width="0.9"/>
<circle cx="479.5" cy="152.1" r="5.3" fill="none" stroke="#000" stroke-width="0.7"/>
<circle cx="479.4" cy="164.9" r="2.3" fill="none" stroke="#000" stroke-width="0.8"/>
<circle cx="475.5" cy="164.9" r="0.6" fill="#000" stroke="#000" stroke-width="0.5"/>
<path d="M577.4 143.9 H594.3 V189 Q594.3 197.4 585.9 197.4 H577.4" fill="none" stroke="#000" stroke-width="0.85"/>
<circle cx="586" cy="152.1" r="6.5" fill="none" stroke="#000" stroke-width="0.9"/>
<circle cx="586" cy="152.1" r="5.3" fill="none" stroke="#000" stroke-width="0.7"/>
<circle cx="585.9" cy="164.9" r="2.3" fill="none" stroke="#000" stroke-width="0.8"/>
<circle cx="582" cy="164.9" r="0.6" fill="#000" stroke="#000" stroke-width="0.5"/>
<path d="M689.5 143.9 H706.4 V189 Q706.4 197.4 698 197.4 H689.5" fill="none" stroke="#000" stroke-width="0.85"/>
<circle cx="698.1" cy="152.1" r="6.5" fill="none" stroke="#000" stroke-width="0.9"/>
<circle cx="698.1" cy="152.1" r="5.3" fill="none" stroke="#000" stroke-width="0.7"/>
<circle cx="698" cy="164.9" r="2.3" fill="none" stroke="#000" stroke-width="0.8"/>
<circle cx="694.1" cy="164.9" r="0.6" fill="#000" stroke="#000" stroke-width="0.5"/>
<ellipse cx="831" cy="342.7" rx="7.2" ry="5.4" fill="#fff" stroke="#000" stroke-width="0.85"/>
<rect x="841.2" y="332.7" width="9.1" height="19.8" fill="none" stroke="#000" stroke-width="0.85"/>
<rect x="834" y="299.6" width="16.9" height="16.3" fill="#fff" stroke="#000" stroke-width="0.9" rx="3"/>
<rect x="836" y="301.6" width="12.4" height="12.4" fill="none" stroke="#000" stroke-width="0.7" rx="3"/>
<rect x="799.2" y="355.9" width="40.8" height="2.1" fill="#999" stroke="#000" stroke-width="0.8"/>
<rect x="848.5" y="320.7" width="1.8" height="31.8" fill="#999" stroke="#000" stroke-width="0.7"/>
<circle cx="818.4" cy="348.3" r="3.6" fill="#fff" stroke="#000" stroke-width="0.85"/>
<text x="818.4" y="350" font-size="4" text-anchor="middle" xml:space="preserve">EF</text>
<rect x="766.2" y="370.3" width="3.3" height="19.8" fill="none" stroke="#000" stroke-width="0.8"/>
<line x1="767.8" y1="371.5" x2="767.8" y2="389.5" stroke="#000" stroke-width="0.7" stroke-dasharray="3 1.5"/>
<path d="M777.5 406.7 L777.5 381.6 L805.2 381.6 L805.2 406.7" fill="none" stroke="#000" stroke-width="0.85" stroke-dasharray="4 2.2"/>
<rect x="787.5" y="395.6" width="12.9" height="3.8" fill="#fff" stroke="#000" stroke-width="0.9"/>
<rect x="807" y="395.6" width="12.6" height="3.8" fill="#fff" stroke="#000" stroke-width="0.9"/>
<rect x="830.4" y="363.4" width="9" height="9.6" fill="none" stroke="#000" stroke-width="0.8"/>
<rect x="832" y="363.4" width="5.8" height="8" fill="none" stroke="#000" stroke-width="0.6"/>
<circle cx="826" cy="383.2" r="4" fill="#ccc" stroke="#000" stroke-width="0.85"/>
<text x="826" y="384.9" font-size="4" text-anchor="middle" xml:space="preserve">EF</text>
<circle cx="812.7" cy="383.6" r="2.6" fill="none" stroke="#000" stroke-width="0.8"/>
<line x1="808.4" y1="383.6" x2="817" y2="383.6" stroke="#000" stroke-width="0.7"/>
<line x1="812.7" y1="379.3" x2="812.7" y2="387.9" stroke="#000" stroke-width="0.7"/>
<path d="M325.6 406.7 L325.6 381.4 L346.1 381.4 L346.1 406.7" fill="none" stroke="#000" stroke-width="0.85" stroke-dasharray="4 2.2"/>
<path d="M619.5 406.7 L619.5 381.6 L647.2 381.6 L647.2 406.7" fill="none" stroke="#000" stroke-width="0.85" stroke-dasharray="4 2.2"/>
<line x1="296.6" y1="375.5" x2="296.6" y2="399.5" stroke="#000" stroke-width="0.7"/>
<line x1="294.6" y1="377.5" x2="298.6" y2="375.5" stroke="#000" stroke-width="0.6"/>
<line x1="294.6" y1="399" x2="298.6" y2="397" stroke="#000" stroke-width="0.6"/>
<circle cx="292.3" cy="385.5" r="1.3" fill="none" stroke="#000" stroke-width="0.6"/>
<line x1="292.3" y1="386.8" x2="292.3" y2="390.5" stroke="#000" stroke-width="0.6"/>
<line x1="290.8" y1="392" x2="294" y2="392.6" stroke="#000" stroke-width="0.6"/>
<line x1="107.6" y1="108.3" x2="1169.5" y2="108.3" stroke="#000" stroke-width="1.05"/>
<line x1="107.6" y1="115.3" x2="1067.5" y2="115.3" stroke="#000" stroke-width="1.05"/>
<line x1="107.6" y1="111.8" x2="151.1" y2="111.8" stroke="#000" stroke-width="0.8"/>
<line x1="195.7" y1="111.8" x2="243.4" y2="111.8" stroke="#000" stroke-width="0.8"/>
<line x1="245.2" y1="111.8" x2="293.5" y2="111.8" stroke="#000" stroke-width="0.8"/>
<line x1="308.3" y1="111.8" x2="355.8" y2="111.8" stroke="#000" stroke-width="0.8"/>
<line x1="357.6" y1="111.8" x2="405.4" y2="111.8" stroke="#000" stroke-width="0.8"/>
<line x1="449.4" y1="111.8" x2="482.6" y2="111.8" stroke="#000" stroke-width="0.8"/>
<line x1="526.2" y1="111.8" x2="573.7" y2="111.8" stroke="#000" stroke-width="0.8"/>
<line x1="575.8" y1="111.8" x2="623.9" y2="111.8" stroke="#000" stroke-width="0.8"/>
<line x1="638.6" y1="111.8" x2="686.4" y2="111.8" stroke="#000" stroke-width="0.8"/>
<line x1="688.2" y1="111.8" x2="736.2" y2="111.8" stroke="#000" stroke-width="0.8"/>
<line x1="780.3" y1="111.8" x2="813.6" y2="111.8" stroke="#000" stroke-width="0.8"/>
<line x1="151.1" y1="108.3" x2="151.1" y2="115.3" stroke="#000" stroke-width="0.8"/>
<line x1="152.4" y1="108.3" x2="152.4" y2="115.3" stroke="#000" stroke-width="0.8"/>
<line x1="195.7" y1="108.3" x2="195.7" y2="115.3" stroke="#000" stroke-width="0.8"/>
<line x1="194.6" y1="108.3" x2="194.6" y2="115.3" stroke="#000" stroke-width="0.8"/>
<line x1="243.4" y1="108.3" x2="243.4" y2="115.3" stroke="#000" stroke-width="0.8"/>
<line x1="245.2" y1="108.3" x2="245.2" y2="115.3" stroke="#000" stroke-width="0.8"/>
<line x1="355.8" y1="108.3" x2="355.8" y2="115.3" stroke="#000" stroke-width="0.8"/>
<line x1="357.6" y1="108.3" x2="357.6" y2="115.3" stroke="#000" stroke-width="0.8"/>
<line x1="573.7" y1="108.3" x2="573.7" y2="115.3" stroke="#000" stroke-width="0.8"/>
<line x1="575.8" y1="108.3" x2="575.8" y2="115.3" stroke="#000" stroke-width="0.8"/>
<line x1="686.4" y1="108.3" x2="686.4" y2="115.3" stroke="#000" stroke-width="0.8"/>
<line x1="688.2" y1="108.3" x2="688.2" y2="115.3" stroke="#000" stroke-width="0.8"/>
<line x1="293.5" y1="108.3" x2="293.5" y2="119.9" stroke="#000" stroke-width="0.8"/>
<line x1="308.3" y1="108.3" x2="308.3" y2="119.9" stroke="#000" stroke-width="0.8"/>
<line x1="405.4" y1="108.3" x2="405.4" y2="119.9" stroke="#000" stroke-width="0.8"/>
<line x1="449.4" y1="108.3" x2="449.4" y2="119.9" stroke="#000" stroke-width="0.8"/>
<line x1="482.6" y1="108.3" x2="482.6" y2="119.9" stroke="#000" stroke-width="0.8"/>
<line x1="526.2" y1="108.3" x2="526.2" y2="119.9" stroke="#000" stroke-width="0.8"/>
<line x1="623.9" y1="108.3" x2="623.9" y2="119.9" stroke="#000" stroke-width="0.8"/>
<line x1="638.6" y1="108.3" x2="638.6" y2="119.9" stroke="#000" stroke-width="0.8"/>
<line x1="736.2" y1="108.3" x2="736.2" y2="119.9" stroke="#000" stroke-width="0.8"/>
<line x1="780.3" y1="108.3" x2="780.3" y2="119.9" stroke="#000" stroke-width="0.8"/>
<line x1="169.4" y1="109.6" x2="169.4" y2="115" stroke="#000" stroke-width="0.8"/>
<line x1="176.6" y1="109.6" x2="176.6" y2="115" stroke="#000" stroke-width="0.8"/>
<line x1="169.4" y1="111.8" x2="176.6" y2="111.8" stroke="#000" stroke-width="0.8"/>
<line x1="500" y1="109.6" x2="500" y2="115" stroke="#000" stroke-width="0.8"/>
<line x1="507.2" y1="109.6" x2="507.2" y2="115" stroke="#000" stroke-width="0.8"/>
<line x1="500" y1="111.8" x2="507.2" y2="111.8" stroke="#000" stroke-width="0.8"/>
<line x1="831" y1="109.6" x2="831" y2="115" stroke="#000" stroke-width="0.8"/>
<line x1="838.2" y1="109.6" x2="838.2" y2="115" stroke="#000" stroke-width="0.8"/>
<line x1="831" y1="111.8" x2="838.2" y2="111.8" stroke="#000" stroke-width="0.8"/>
<line x1="246.6" y1="119.9" x2="484.7" y2="119.9" stroke="#000" stroke-width="1.05"/>
<line x1="489.2" y1="119.9" x2="813.6" y2="119.9" stroke="#000" stroke-width="1.05"/>
<line x1="817.8" y1="119.9" x2="861.6" y2="119.9" stroke="#000" stroke-width="1.05"/>
<line x1="242.5" y1="115.3" x2="242.5" y2="396.6" stroke="#000" stroke-width="1.05"/>
<line x1="246.6" y1="115.3" x2="246.6" y2="396.6" stroke="#000" stroke-width="1.05"/>
<line x1="354.8" y1="115.3" x2="354.8" y2="193.6" stroke="#000" stroke-width="1.05"/>
<line x1="358.8" y1="115.3" x2="358.8" y2="195" stroke="#000" stroke-width="1.05"/>
<line x1="246.6" y1="193.6" x2="354.8" y2="193.6" stroke="#000" stroke-width="1.05"/>
<line x1="246.6" y1="198.6" x2="355.8" y2="198.6" stroke="#000" stroke-width="1.05"/>
<line x1="358.8" y1="195" x2="404.9" y2="241.5" stroke="#000" stroke-width="1.05"/>
<line x1="355.8" y1="198.6" x2="403.1" y2="246.3" stroke="#000" stroke-width="1.05"/>
<line x1="404.9" y1="241.5" x2="795.8" y2="241.5" stroke="#000" stroke-width="1.05"/>
<line x1="403.1" y1="246.3" x2="800.5" y2="246.3" stroke="#000" stroke-width="1.05"/>
<line x1="800.5" y1="241.5" x2="861.6" y2="241.5" stroke="#000" stroke-width="1.05"/>
<line x1="837.6" y1="246.3" x2="861.6" y2="246.3" stroke="#000" stroke-width="1.05"/>
<line x1="610.4" y1="241.5" x2="610.4" y2="246.3" stroke="#000" stroke-width="0.8"/>
<line x1="652" y1="241.5" x2="652" y2="246.3" stroke="#000" stroke-width="0.8"/>
<line x1="466.7" y1="139.1" x2="466.7" y2="241.5" stroke="#000" stroke-width="1.05"/>
<line x1="470.9" y1="143.9" x2="470.9" y2="241.5" stroke="#000" stroke-width="1.05"/>
<line x1="484.7" y1="115.3" x2="484.7" y2="139.1" stroke="#000" stroke-width="1.05"/>
<line x1="489.2" y1="115.3" x2="489.2" y2="143.9" stroke="#000" stroke-width="1.05"/>
<line x1="466.7" y1="139.1" x2="484.7" y2="139.1" stroke="#000" stroke-width="1.05"/>
<line x1="470.9" y1="143.9" x2="489.2" y2="143.9" stroke="#000" stroke-width="1.05"/>
<line x1="573.2" y1="115.3" x2="573.2" y2="241.5" stroke="#000" stroke-width="1.05"/>
<line x1="577.4" y1="115.3" x2="577.4" y2="241.5" stroke="#000" stroke-width="1.05"/>
<line x1="685.4" y1="115.3" x2="685.4" y2="241.5" stroke="#000" stroke-width="1.05"/>
<line x1="689.5" y1="115.3" x2="689.5" y2="241.5" stroke="#000" stroke-width="1.05"/>
<path d="M813.6 115.3 L813.6 134.9 L795.8 151.7 L795.8 241.5" fill="none" stroke="#000" stroke-width="1.05"/>
<path d="M817.8 115.3 L817.8 136 L800.5 152.9 L800.5 241.5" fill="none" stroke="#000" stroke-width="1.05"/>
<line x1="861.6" y1="115.3" x2="861.6" y2="396.6" stroke="#000" stroke-width="1.05"/>
<line x1="865.7" y1="115.3" x2="865.7" y2="396.6" stroke="#000" stroke-width="1.05"/>
<line x1="341.2" y1="289.6" x2="861.6" y2="289.6" stroke="#000" stroke-width="1.05"/>
<line x1="341.2" y1="294.4" x2="861.6" y2="294.4" stroke="#000" stroke-width="1.05"/>
<line x1="341.2" y1="289.6" x2="341.2" y2="294.4" stroke="#000" stroke-width="1.05"/>
<line x1="482.2" y1="294.4" x2="482.2" y2="396.6" stroke="#000" stroke-width="1.05"/>
<line x1="486.4" y1="294.4" x2="486.4" y2="396.6" stroke="#000" stroke-width="1.05"/>
<line x1="546.6" y1="294.4" x2="546.6" y2="396.6" stroke="#000" stroke-width="1.05"/>
<line x1="550.8" y1="294.4" x2="550.8" y2="396.6" stroke="#000" stroke-width="1.05"/>
<line x1="673" y1="294.4" x2="673" y2="396.6" stroke="#000" stroke-width="1.05"/>
<line x1="677.3" y1="294.4" x2="677.3" y2="396.6" stroke="#000" stroke-width="1.05"/>
<line x1="765.8" y1="294.4" x2="765.8" y2="396.6" stroke="#000" stroke-width="1.05"/>
<line x1="770.3" y1="294.4" x2="770.3" y2="396.6" stroke="#000" stroke-width="1.05"/>
<line x1="668.9" y1="294.4" x2="668.9" y2="396.6" stroke="#000" stroke-width="0.8"/>
<line x1="486.4" y1="344.4" x2="546.6" y2="344.4" stroke="#000" stroke-width="1.05"/>
<line x1="486.4" y1="348.6" x2="546.6" y2="348.6" stroke="#000" stroke-width="1.05"/>
<line x1="770.3" y1="359.2" x2="851.5" y2="359.2" stroke="#000" stroke-width="1.05"/>
<line x1="770.3" y1="363.4" x2="861.6" y2="363.4" stroke="#000" stroke-width="1.05"/>
<line x1="851.5" y1="294.4" x2="851.5" y2="359.2" stroke="#000" stroke-width="1.05"/>
<line x1="855.7" y1="294.4" x2="855.7" y2="363.4" stroke="#000" stroke-width="1.05"/>
<line x1="107.6" y1="396.6" x2="129.6" y2="396.6" stroke="#000" stroke-width="1.05"/>
<line x1="107.6" y1="401.2" x2="129.6" y2="401.2" stroke="#000" stroke-width="1.05"/>
<line x1="129.6" y1="396.6" x2="129.6" y2="401.2" stroke="#000" stroke-width="1.05"/>
<line x1="162.3" y1="396.6" x2="914.6" y2="396.6" stroke="#000" stroke-width="1.05"/>
<line x1="162.3" y1="401.2" x2="914.6" y2="401.2" stroke="#000" stroke-width="1.05"/>
<line x1="162.3" y1="396.6" x2="162.3" y2="401.2" stroke="#000" stroke-width="1.05"/>
<line x1="914.6" y1="396.6" x2="914.6" y2="401.2" stroke="#000" stroke-width="1.05"/>
<line x1="252.4" y1="396.6" x2="252.4" y2="401.2" stroke="#000" stroke-width="0.8"/>
<line x1="285.6" y1="396.6" x2="285.6" y2="401.2" stroke="#000" stroke-width="0.8"/>
<line x1="459.4" y1="396.6" x2="459.4" y2="401.2" stroke="#000" stroke-width="0.8"/>
<line x1="492.4" y1="396.6" x2="492.4" y2="401.2" stroke="#000" stroke-width="0.8"/>
<line x1="514.5" y1="396.6" x2="514.5" y2="401.2" stroke="#000" stroke-width="0.8"/>
<line x1="547.8" y1="396.6" x2="547.8" y2="401.2" stroke="#000" stroke-width="0.8"/>
<line x1="696.5" y1="396.6" x2="696.5" y2="401.2" stroke="#000" stroke-width="0.8"/>
<line x1="138" y1="373" x2="162.3" y2="396.6" stroke="#000" stroke-width="1.05"/>
<line x1="170.2" y1="364.7" x2="176" y2="364.7" stroke="#000" stroke-width="0.8"/>
<line x1="170.2" y1="371.2" x2="176" y2="371.2" stroke="#000" stroke-width="0.8"/>
<line x1="173" y1="364.7" x2="173" y2="371.2" stroke="#000" stroke-width="0.9"/>
<line x1="348" y1="193.6" x2="348" y2="160.6" stroke="#000" stroke-width="0.8"/>
<path d="M348 160.6 A33 33 0 0 0 315 193.6" fill="none" stroke="#000" stroke-width="0.8"/>
<line x1="463" y1="241.5" x2="463" y2="208.3" stroke="#000" stroke-width="0.8"/>
<path d="M463 208.3 A33.2 33.2 0 0 0 429.8 241.5" fill="none" stroke="#000" stroke-width="0.8"/>
<line x1="475" y1="241.5" x2="475" y2="208.4" stroke="#000" stroke-width="0.8"/>
<path d="M475 208.4 A33.1 33.1 0 0 1 508.1 241.5" fill="none" stroke="#000" stroke-width="0.8"/>
<line x1="570" y1="241.5" x2="570" y2="208.4" stroke="#000" stroke-width="0.8"/>
<path d="M570 208.4 A33.1 33.1 0 0 0 536.9 241.5" fill="none" stroke="#000" stroke-width="0.8"/>
<line x1="792.5" y1="241.5" x2="792.5" y2="208.4" stroke="#000" stroke-width="0.8"/>
<path d="M792.5 208.4 A33.1 33.1 0 0 0 759.4 241.5" fill="none" stroke="#000" stroke-width="0.8"/>
<line x1="726.6" y1="241.5" x2="692.9" y2="237.9" stroke="#000" stroke-width="0.8"/>
<path d="M692.89 237.96 A33.9 33.9 0 0 1 754.7 222.54" fill="none" stroke="#000" stroke-width="0.8"/>
<line x1="403.7" y1="294.4" x2="403.7" y2="327.9" stroke="#000" stroke-width="0.8"/>
<path d="M403.7 327.9 A33.5 33.5 0 0 1 370.2 294.4" fill="none" stroke="#000" stroke-width="0.8"/>
<line x1="543.7" y1="294.4" x2="543.7" y2="328.6" stroke="#000" stroke-width="0.8"/>
<path d="M543.7 328.6 A34.2 34.2 0 0 1 509.5 294.4" fill="none" stroke="#000" stroke-width="0.8"/>
<line x1="668.8" y1="294.4" x2="668.8" y2="327.5" stroke="#000" stroke-width="0.8"/>
<path d="M668.8 327.5 A33.1 33.1 0 0 1 635.7 294.4" fill="none" stroke="#000" stroke-width="0.8"/>
<line x1="681.5" y1="294.4" x2="681.5" y2="327.5" stroke="#000" stroke-width="0.8"/>
<path d="M681.5 327.5 A33.1 33.1 0 0 0 714.6 294.4" fill="none" stroke="#000" stroke-width="0.8"/>
<line x1="773.3" y1="294.4" x2="773.3" y2="326.9" stroke="#000" stroke-width="0.8"/>
<path d="M773.3 326.9 A32.5 32.5 0 0 0 805.8 294.4" fill="none" stroke="#000" stroke-width="0.8"/>
<line x1="331.4" y1="396.6" x2="331.4" y2="363.5" stroke="#000" stroke-width="0.8"/>
<path d="M331.4 363.5 A33.1 33.1 0 0 1 364.5 396.6" fill="none" stroke="#000" stroke-width="0.8"/>
<line x1="397.8" y1="396.6" x2="397.8" y2="363.5" stroke="#000" stroke-width="0.8"/>
<path d="M397.8 363.5 A33.1 33.1 0 0 0 364.7 396.6" fill="none" stroke="#000" stroke-width="0.8"/>
<line x1="668.8" y1="396.6" x2="668.8" y2="363.5" stroke="#000" stroke-width="0.8"/>
<path d="M668.8 363.5 A33.1 33.1 0 0 0 635.7 396.6" fill="none" stroke="#000" stroke-width="0.8"/>
<line x1="762.7" y1="396.6" x2="739.3" y2="373.2" stroke="#000" stroke-width="0.8"/>
<path d="M729.6 396.6 A33.1 33.1 0 0 1 739.29 373.19" fill="none" stroke="#000" stroke-width="0.8"/>
<line x1="729.4" y1="396.6" x2="729.4" y2="401.2" stroke="#000" stroke-width="0.8"/>
<line x1="762.7" y1="396.6" x2="762.7" y2="401.2" stroke="#000" stroke-width="0.8"/>
<path d="M765.3 366.5 L746.2 385 L748 386.8 L765.3 369.8" fill="none" stroke="#000" stroke-width="0.8"/>
<path d="M746.49 385.31 A26.6 26.6 0 0 0 765.3 393.1" fill="none" stroke="#000" stroke-width="0.8"/>
<line x1="961.4" y1="115.3" x2="961.4" y2="243.5" stroke="#000" stroke-width="1.05"/>
<line x1="965.8" y1="115.3" x2="965.8" y2="243.5" stroke="#000" stroke-width="1.05"/>
<line x1="970" y1="115.3" x2="970" y2="243.5" stroke="#000" stroke-width="1.05"/>
<line x1="973.7" y1="115.3" x2="973.7" y2="243.5" stroke="#000" stroke-width="1.05"/>
<rect x="911.4" y="115.5" width="39.2" height="2.6" fill="none" stroke="#000" stroke-width="0.9"/>
<rect x="984.8" y="115.5" width="38.9" height="2.6" fill="none" stroke="#000" stroke-width="0.9"/>
<rect x="958" y="120.5" width="2.8" height="33.3" fill="none" stroke="#000" stroke-width="0.9"/>
<rect x="974.3" y="120.5" width="3.1" height="33.3" fill="none" stroke="#000" stroke-width="0.9"/>
<ellipse cx="941" cy="132.2" rx="7" ry="6.1" fill="none" stroke="#000" stroke-width="0.9"/>
<ellipse cx="941" cy="132.2" rx="5" ry="4.3" fill="none" stroke="#000" stroke-width="0.7"/>
<path d="M944 126.6 L958 129.6 L958 134.8 L944 137.8" fill="none" stroke="#000" stroke-width="0.8"/>
<circle cx="955.4" cy="132.2" r="0.9" fill="none" stroke="#000" stroke-width="0.6"/>
<ellipse cx="994.5" cy="132.2" rx="7" ry="6.1" fill="none" stroke="#000" stroke-width="0.9"/>
<ellipse cx="994.5" cy="132.2" rx="5" ry="4.3" fill="none" stroke="#000" stroke-width="0.7"/>
<path d="M991.5 126.6 L977.5 129.6 L977.5 134.8 L991.5 137.8" fill="none" stroke="#000" stroke-width="0.8"/>
<circle cx="980.1" cy="132.2" r="0.9" fill="none" stroke="#000" stroke-width="0.6"/>
<ellipse cx="941" cy="187.1" rx="7" ry="6.1" fill="none" stroke="#000" stroke-width="0.9"/>
<ellipse cx="941" cy="187.1" rx="5" ry="4.3" fill="none" stroke="#000" stroke-width="0.7"/>
<path d="M944 181.5 L958 184.5 L958 189.7 L944 192.7" fill="none" stroke="#000" stroke-width="0.8"/>
<circle cx="955.4" cy="187.1" r="0.9" fill="none" stroke="#000" stroke-width="0.6"/>
<ellipse cx="994.5" cy="187.1" rx="7" ry="6.1" fill="none" stroke="#000" stroke-width="0.9"/>
<ellipse cx="994.5" cy="187.1" rx="5" ry="4.3" fill="none" stroke="#000" stroke-width="0.7"/>
<path d="M991.5 181.5 L977.5 184.5 L977.5 189.7 L991.5 192.7" fill="none" stroke="#000" stroke-width="0.8"/>
<circle cx="980.1" cy="187.1" r="0.9" fill="none" stroke="#000" stroke-width="0.6"/>
<ellipse cx="994.5" cy="222.8" rx="7" ry="6.1" fill="none" stroke="#000" stroke-width="0.9"/>
<ellipse cx="994.5" cy="222.8" rx="5" ry="4.3" fill="none" stroke="#000" stroke-width="0.7"/>
<path d="M991.5 217.2 L977.5 220.2 L977.5 225.4 L991.5 228.4" fill="none" stroke="#000" stroke-width="0.8"/>
<circle cx="980.1" cy="222.8" r="0.9" fill="none" stroke="#000" stroke-width="0.6"/>
<line x1="902.2" y1="170.5" x2="961.4" y2="170.5" stroke="#000" stroke-width="1.05"/>
<line x1="905.9" y1="170.5" x2="905.9" y2="173.2" stroke="#000" stroke-width="1.05"/>
<line x1="905.9" y1="173.2" x2="922.9" y2="195.1" stroke="#000" stroke-width="1.05"/>
<line x1="905.9" y1="199.5" x2="905.9" y2="203.2" stroke="#000" stroke-width="1.05"/>
<line x1="905.9" y1="203.2" x2="961.4" y2="203.2" stroke="#000" stroke-width="1.05"/>
<line x1="973.7" y1="170.5" x2="1032.9" y2="170.5" stroke="#000" stroke-width="1.05"/>
<line x1="1029.8" y1="170.5" x2="1029.8" y2="173.2" stroke="#000" stroke-width="1.05"/>
<line x1="1029.8" y1="173.2" x2="1012" y2="195.4" stroke="#000" stroke-width="1.05"/>
<line x1="973.7" y1="207.4" x2="1029.8" y2="207.4" stroke="#000" stroke-width="1.05"/>
<line x1="1029.8" y1="203.2" x2="1029.8" y2="210.2" stroke="#000" stroke-width="1.05"/>
<line x1="1029.8" y1="210.2" x2="1012" y2="229.6" stroke="#000" stroke-width="1.05"/>
<line x1="1029.8" y1="237" x2="1029.8" y2="243.5" stroke="#000" stroke-width="1.05"/>
<rect x="942.3" y="212.1" width="19.1" height="19.4" fill="none" stroke="#000" stroke-width="0.9" rx="2.5"/>
<rect x="945" y="214.3" width="12" height="14.7" fill="none" stroke="#000" stroke-width="0.9" rx="3"/>
<path d="M961.4 243.5 L949.3 243.5 L949.3 267.5 L953.8 267.5 L953.8 248.5 L991.7 248.5 L991.7 252.4 L995.9 252.4 L995.9 248.5 L1032.9 248.5 L1032.9 243.5 L973.7 243.5" fill="none" stroke="#000" stroke-width="1.05"/>
<line x1="995.9" y1="252.4" x2="1027.4" y2="275.5" stroke="#000" stroke-width="1.05"/>
<line x1="1042.2" y1="147.7" x2="1064.4" y2="170.5" stroke="#000" stroke-width="1.05"/>
<line x1="1064.4" y1="170.5" x2="1067.5" y2="170.5" stroke="#000" stroke-width="1.05"/>
<line x1="925.1" y1="267.2" x2="949.3" y2="292.5" stroke="#000" stroke-width="1.05"/>
<line x1="865.7" y1="299.9" x2="949.3" y2="299.9" stroke="#000" stroke-width="1.05"/>
<line x1="865.7" y1="304.6" x2="949.3" y2="304.6" stroke="#000" stroke-width="1.05"/>
<path d="M949.3 292.5 L953.8 292.5 L953.8 401.2 L947.3 401.2 L947.3 396.1 L949.3 396.1 L949.3 292.5" fill="none" stroke="#000" stroke-width="1.05"/>
<line x1="923.3" y1="372.1" x2="947.3" y2="396.1" stroke="#000" stroke-width="1.05"/>
<path d="M889.6 304.6 L889.6 311 L893 311" fill="none" stroke="#000" stroke-width="0.8"/>
<path d="M935.8 304.6 L935.8 311 L932.6 311" fill="none" stroke="#000" stroke-width="0.8"/>
<rect x="893.8" y="307.7" width="6.8" height="6.1" fill="none" stroke="#000" stroke-width="0.8"/>
<rect x="904.4" y="307.7" width="6.8" height="6.1" fill="none" stroke="#000" stroke-width="0.8"/>
<rect x="915.1" y="307.7" width="6.8" height="6.1" fill="none" stroke="#000" stroke-width="0.8"/>
<rect x="925.7" y="307.7" width="6.8" height="6.1" fill="none" stroke="#000" stroke-width="0.8"/>
<path d="M991.7 326.8 L991.7 278.1 L996.5 278.1 L996.5 320.3 L1067.5 320.3" fill="none" stroke="#000" stroke-width="1.05"/>
<path d="M991.7 326.8 L996.5 326.8 L996.5 324.9 L1067.5 324.9" fill="none" stroke="#000" stroke-width="1.05"/>
<path d="M991.7 401.2 L991.7 359.5 L996.5 359.5 L996.5 396.1 L1067.5 396.1" fill="none" stroke="#000" stroke-width="1.05"/>
<line x1="991.7" y1="401.2" x2="1072.3" y2="401.2" stroke="#000" stroke-width="1.05"/>
<line x1="996.5" y1="326.8" x2="1026.5" y2="348" stroke="#000" stroke-width="1.05"/>
<rect x="1038.5" y="301.4" width="18.5" height="18.9" fill="none" stroke="#000" stroke-width="0.9" rx="2.5"/>
<rect x="1041" y="304" width="13.2" height="11.6" fill="none" stroke="#000" stroke-width="0.9" rx="3"/>
<line x1="1067.5" y1="115.3" x2="1067.5" y2="320.3" stroke="#000" stroke-width="1.05"/>
<line x1="1067.5" y1="324.9" x2="1067.5" y2="396.1" stroke="#000" stroke-width="1.05"/>
<line x1="1072.3" y1="304.6" x2="1072.3" y2="401.2" stroke="#000" stroke-width="1.05"/>
<line x1="1074.5" y1="119.2" x2="1074.5" y2="299.6" stroke="#000" stroke-width="1.05"/>
<line x1="1074.5" y1="119.2" x2="1158.6" y2="119.2" stroke="#000" stroke-width="1.05"/>
<line x1="1074.5" y1="299.6" x2="1121.7" y2="299.6" stroke="#000" stroke-width="1.05"/>
<line x1="1067.5" y1="304.6" x2="1121.7" y2="304.6" stroke="#000" stroke-width="1.05"/>
<line x1="1121.7" y1="299.6" x2="1121.7" y2="304.6" stroke="#000" stroke-width="1.05"/>
<path d="M1158.6 119.2 L1158.6 399.5 L1162 399.5 L1162 404.6" fill="none" stroke="#000" stroke-width="1.05"/>
<line x1="1169.5" y1="108.3" x2="1169.5" y2="467.8" stroke="#000" stroke-width="1.05"/>
<line x1="1162" y1="404.6" x2="1162" y2="467.8" stroke="#000" stroke-width="1.05"/>
<line x1="1165.9" y1="404.6" x2="1165.9" y2="467.8" stroke="#000" stroke-width="1.05"/>
<line x1="1162" y1="404.6" x2="1169.5" y2="404.6" stroke="#000" stroke-width="1.05"/>
<rect x="1154.3" y="299.6" width="4.3" height="5" fill="none" stroke="#000" stroke-width="0.9"/>
<line x1="1129.4" y1="275" x2="1154.3" y2="299.6" stroke="#000" stroke-width="1.05"/>
<line x1="1169.5" y1="368.2" x2="1246.3" y2="368.2" stroke="#000" stroke-width="1.05"/>
<line x1="1246.3" y1="368.2" x2="1246.3" y2="467.8" stroke="#000" stroke-width="1.05"/>
<path d="M1224.5 368.2 L1224.5 401.6 L1246.3 401.6" fill="none" stroke="#000" stroke-width="1.05"/>
<line x1="1075.2" y1="159.4" x2="1158.6" y2="159.4" stroke="#000" stroke-width="0.8"/>
<line x1="1075.2" y1="168.65" x2="1158.6" y2="168.65" stroke="#000" stroke-width="0.8"/>
<line x1="1075.2" y1="177.89" x2="1158.6" y2="177.89" stroke="#000" stroke-width="0.8"/>
<line x1="1075.2" y1="187.13" x2="1158.6" y2="187.13" stroke="#000" stroke-width="0.8"/>
<line x1="1075.2" y1="196.38" x2="1158.6" y2="196.38" stroke="#000" stroke-width="0.8"/>
<line x1="1075.2" y1="205.62" x2="1158.6" y2="205.62" stroke="#000" stroke-width="0.8"/>
<line x1="1075.2" y1="214.87" x2="1158.6" y2="214.87" stroke="#000" stroke-width="0.8"/>
<line x1="1075.2" y1="224.12" x2="1158.6" y2="224.12" stroke="#000" stroke-width="0.8"/>
<line x1="1075.2" y1="233.36" x2="1158.6" y2="233.36" stroke="#000" stroke-width="0.8"/>
<line x1="1075.2" y1="242.61" x2="1158.6" y2="242.61" stroke="#000" stroke-width="0.8"/>
<line x1="1075.2" y1="244.4" x2="1119.2" y2="244.4" stroke="#000" stroke-width="1.05"/>
<rect x="1114.6" y="157" width="4.6" height="87.4" fill="none" stroke="#000" stroke-width="0.8"/>
<line x1="1116.2" y1="157" x2="1116.2" y2="244.4" stroke="#000" stroke-width="0.6"/>
<line x1="1117.7" y1="157" x2="1117.7" y2="244.4" stroke="#000" stroke-width="0.6"/>
<path d="M1093.8 201 L1093.8 140.9 L1136.8 140.9 L1136.8 250.9" fill="none" stroke="#000" stroke-width="0.8"/>
<path d="M1093.8 201 L1092.9 197 L1094.7 197 Z" fill="#000" stroke="#000" stroke-width="0.5"/>
<line x1="107.6" y1="602.1" x2="1169.5" y2="602.1" stroke="#000" stroke-width="1.05"/>
<line x1="107.6" y1="609.1" x2="1067.5" y2="609.1" stroke="#000" stroke-width="1.05"/>
<line x1="107.6" y1="605.6" x2="151.1" y2="605.6" stroke="#000" stroke-width="0.8"/>
<line x1="195.7" y1="605.6" x2="243.4" y2="605.6" stroke="#000" stroke-width="0.8"/>
<line x1="245.2" y1="605.6" x2="293.5" y2="605.6" stroke="#000" stroke-width="0.8"/>
<line x1="308.3" y1="605.6" x2="355.8" y2="605.6" stroke="#000" stroke-width="0.8"/>
<line x1="357.6" y1="605.6" x2="405.4" y2="605.6" stroke="#000" stroke-width="0.8"/>
<line x1="449.4" y1="605.6" x2="482.6" y2="605.6" stroke="#000" stroke-width="0.8"/>
<line x1="526.2" y1="605.6" x2="573.7" y2="605.6" stroke="#000" stroke-width="0.8"/>
<line x1="575.8" y1="605.6" x2="623.9" y2="605.6" stroke="#000" stroke-width="0.8"/>
<line x1="638.6" y1="605.6" x2="686.4" y2="605.6" stroke="#000" stroke-width="0.8"/>
<line x1="688.2" y1="605.6" x2="736.2" y2="605.6" stroke="#000" stroke-width="0.8"/>
<line x1="780.3" y1="605.6" x2="813.6" y2="605.6" stroke="#000" stroke-width="0.8"/>
<line x1="151.1" y1="602.1" x2="151.1" y2="609.1" stroke="#000" stroke-width="0.8"/>
<line x1="152.4" y1="602.1" x2="152.4" y2="609.1" stroke="#000" stroke-width="0.8"/>
<line x1="195.7" y1="602.1" x2="195.7" y2="609.1" stroke="#000" stroke-width="0.8"/>
<line x1="194.6" y1="602.1" x2="194.6" y2="609.1" stroke="#000" stroke-width="0.8"/>
<line x1="243.4" y1="602.1" x2="243.4" y2="609.1" stroke="#000" stroke-width="0.8"/>
<line x1="245.2" y1="602.1" x2="245.2" y2="609.1" stroke="#000" stroke-width="0.8"/>
<line x1="355.8" y1="602.1" x2="355.8" y2="609.1" stroke="#000" stroke-width="0.8"/>
<line x1="357.6" y1="602.1" x2="357.6" y2="609.1" stroke="#000" stroke-width="0.8"/>
<line x1="573.7" y1="602.1" x2="573.7" y2="609.1" stroke="#000" stroke-width="0.8"/>
<line x1="575.8" y1="602.1" x2="575.8" y2="609.1" stroke="#000" stroke-width="0.8"/>
<line x1="686.4" y1="602.1" x2="686.4" y2="609.1" stroke="#000" stroke-width="0.8"/>
<line x1="688.2" y1="602.1" x2="688.2" y2="609.1" stroke="#000" stroke-width="0.8"/>
<line x1="293.5" y1="602.1" x2="293.5" y2="613.7" stroke="#000" stroke-width="0.8"/>
<line x1="308.3" y1="602.1" x2="308.3" y2="613.7" stroke="#000" stroke-width="0.8"/>
<line x1="405.4" y1="602.1" x2="405.4" y2="613.7" stroke="#000" stroke-width="0.8"/>
<line x1="449.4" y1="602.1" x2="449.4" y2="613.7" stroke="#000" stroke-width="0.8"/>
<line x1="482.6" y1="602.1" x2="482.6" y2="613.7" stroke="#000" stroke-width="0.8"/>
<line x1="526.2" y1="602.1" x2="526.2" y2="613.7" stroke="#000" stroke-width="0.8"/>
<line x1="623.9" y1="602.1" x2="623.9" y2="613.7" stroke="#000" stroke-width="0.8"/>
<line x1="638.6" y1="602.1" x2="638.6" y2="613.7" stroke="#000" stroke-width="0.8"/>
<line x1="736.2" y1="602.1" x2="736.2" y2="613.7" stroke="#000" stroke-width="0.8"/>
<line x1="780.3" y1="602.1" x2="780.3" y2="613.7" stroke="#000" stroke-width="0.8"/>
<line x1="169.4" y1="603.4" x2="169.4" y2="608.8" stroke="#000" stroke-width="0.8"/>
<line x1="176.6" y1="603.4" x2="176.6" y2="608.8" stroke="#000" stroke-width="0.8"/>
<line x1="169.4" y1="605.6" x2="176.6" y2="605.6" stroke="#000" stroke-width="0.8"/>
<line x1="500" y1="603.4" x2="500" y2="608.8" stroke="#000" stroke-width="0.8"/>
<line x1="507.2" y1="603.4" x2="507.2" y2="608.8" stroke="#000" stroke-width="0.8"/>
<line x1="500" y1="605.6" x2="507.2" y2="605.6" stroke="#000" stroke-width="0.8"/>
<line x1="831" y1="603.4" x2="831" y2="608.8" stroke="#000" stroke-width="0.8"/>
<line x1="838.2" y1="603.4" x2="838.2" y2="608.8" stroke="#000" stroke-width="0.8"/>
<line x1="831" y1="605.6" x2="838.2" y2="605.6" stroke="#000" stroke-width="0.8"/>
<line x1="246.6" y1="613.7" x2="484.7" y2="613.7" stroke="#000" stroke-width="1.05"/>
<line x1="489.2" y1="613.7" x2="813.6" y2="613.7" stroke="#000" stroke-width="1.05"/>
<line x1="817.8" y1="613.7" x2="861.6" y2="613.7" stroke="#000" stroke-width="1.05"/>
<line x1="242.5" y1="609.1" x2="242.5" y2="890.4" stroke="#000" stroke-width="1.05"/>
<line x1="246.6" y1="609.1" x2="246.6" y2="890.4" stroke="#000" stroke-width="1.05"/>
<line x1="354.8" y1="609.1" x2="354.8" y2="687.4" stroke="#000" stroke-width="1.05"/>
<line x1="358.8" y1="609.1" x2="358.8" y2="688.8" stroke="#000" stroke-width="1.05"/>
<line x1="246.6" y1="687.4" x2="314.9" y2="687.4" stroke="#000" stroke-width="1.05"/>
<line x1="314.9" y1="687.4" x2="348" y2="687.4" stroke="#000" stroke-width="1" stroke-dasharray="6.5 2.5"/>
<line x1="348" y1="687.4" x2="354.8" y2="687.4" stroke="#000" stroke-width="1.05"/>
<line x1="246.6" y1="692.4" x2="314.9" y2="692.4" stroke="#000" stroke-width="1.05"/>
<line x1="314.9" y1="692.4" x2="348" y2="692.4" stroke="#000" stroke-width="1" stroke-dasharray="6.5 2.5"/>
<line x1="348" y1="692.4" x2="355.8" y2="692.4" stroke="#000" stroke-width="1.05"/>
<line x1="358.8" y1="688.8" x2="404.9" y2="735.3" stroke="#000" stroke-width="1.05"/>
<line x1="355.8" y1="692.4" x2="403.1" y2="740.1" stroke="#000" stroke-width="1.05"/>
<line x1="404.9" y1="735.3" x2="429.3" y2="735.3" stroke="#000" stroke-width="1.05"/>
<line x1="429.3" y1="735.3" x2="610.4" y2="735.3" stroke="#000" stroke-width="1" stroke-dasharray="6.5 2.5"/>
<line x1="610.4" y1="735.3" x2="652" y2="735.3" stroke="#000" stroke-width="1.05"/>
<line x1="652" y1="735.3" x2="795.8" y2="735.3" stroke="#000" stroke-width="1" stroke-dasharray="6.5 2.5"/>
<line x1="403.1" y1="740.1" x2="429.3" y2="740.1" stroke="#000" stroke-width="1.05"/>
<line x1="429.3" y1="740.1" x2="610.4" y2="740.1" stroke="#000" stroke-width="1" stroke-dasharray="6.5 2.5"/>
<line x1="610.4" y1="740.1" x2="652" y2="740.1" stroke="#000" stroke-width="1.05"/>
<line x1="652" y1="740.1" x2="800.5" y2="740.1" stroke="#000" stroke-width="1" stroke-dasharray="6.5 2.5"/>
<line x1="800.5" y1="735.3" x2="861.6" y2="735.3" stroke="#000" stroke-width="1.05"/>
<line x1="837.6" y1="740.1" x2="861.6" y2="740.1" stroke="#000" stroke-width="1.05"/>
<line x1="800.5" y1="740.1" x2="837.6" y2="740.1" stroke="#000" stroke-width="1" stroke-dasharray="6.5 2.5"/>
<line x1="610.4" y1="735.3" x2="610.4" y2="740.1" stroke="#000" stroke-width="0.8"/>
<line x1="652" y1="735.3" x2="652" y2="740.1" stroke="#000" stroke-width="0.8"/>
<line x1="466.7" y1="632.9" x2="466.7" y2="735.3" stroke="#000" stroke-width="1.05"/>
<line x1="470.9" y1="637.7" x2="470.9" y2="735.3" stroke="#000" stroke-width="1.05"/>
<line x1="484.7" y1="609.1" x2="484.7" y2="632.9" stroke="#000" stroke-width="1.05"/>
<line x1="489.2" y1="609.1" x2="489.2" y2="637.7" stroke="#000" stroke-width="1.05"/>
<line x1="466.7" y1="632.9" x2="484.7" y2="632.9" stroke="#000" stroke-width="1.05"/>
<line x1="470.9" y1="637.7" x2="489.2" y2="637.7" stroke="#000" stroke-width="1.05"/>
<line x1="573.2" y1="609.1" x2="573.2" y2="735.3" stroke="#000" stroke-width="1.05"/>
<line x1="577.4" y1="609.1" x2="577.4" y2="735.3" stroke="#000" stroke-width="1.05"/>
<line x1="685.4" y1="609.1" x2="685.4" y2="735.3" stroke="#000" stroke-width="1.05"/>
<line x1="689.5" y1="609.1" x2="689.5" y2="735.3" stroke="#000" stroke-width="1.05"/>
<path d="M813.6 609.1 L813.6 628.7 L795.8 645.5 L795.8 735.3" fill="none" stroke="#000" stroke-width="1.05"/>
<path d="M817.8 609.1 L817.8 629.8 L800.5 646.7 L800.5 735.3" fill="none" stroke="#000" stroke-width="1.05"/>
<line x1="861.6" y1="609.1" x2="861.6" y2="890.4" stroke="#000" stroke-width="1.05"/>
<line x1="865.7" y1="609.1" x2="865.7" y2="890.4" stroke="#000" stroke-width="1.05"/>
<line x1="341.2" y1="783.4" x2="371" y2="783.4" stroke="#000" stroke-width="1.05"/>
<line x1="371" y1="783.4" x2="403.7" y2="783.4" stroke="#000" stroke-width="1" stroke-dasharray="6.5 2.5"/>
<line x1="403.7" y1="783.4" x2="509.5" y2="783.4" stroke="#000" stroke-width="1.05"/>
<line x1="509.5" y1="783.4" x2="543.7" y2="783.4" stroke="#000" stroke-width="1" stroke-dasharray="6.5 2.5"/>
<line x1="543.7" y1="783.4" x2="635.8" y2="783.4" stroke="#000" stroke-width="1.05"/>
<line x1="635.8" y1="783.4" x2="714.5" y2="783.4" stroke="#000" stroke-width="1" stroke-dasharray="6.5 2.5"/>
<line x1="714.5" y1="783.4" x2="773.3" y2="783.4" stroke="#000" stroke-width="1.05"/>
<line x1="773.3" y1="783.4" x2="807" y2="783.4" stroke="#000" stroke-width="1" stroke-dasharray="6.5 2.5"/>
<line x1="807" y1="783.4" x2="861.6" y2="783.4" stroke="#000" stroke-width="1.05"/>
<line x1="341.2" y1="788.2" x2="371" y2="788.2" stroke="#000" stroke-width="1.05"/>
<line x1="371" y1="788.2" x2="403.7" y2="788.2" stroke="#000" stroke-width="1" stroke-dasharray="6.5 2.5"/>
<line x1="403.7" y1="788.2" x2="509.5" y2="788.2" stroke="#000" stroke-width="1.05"/>
<line x1="509.5" y1="788.2" x2="543.7" y2="788.2" stroke="#000" stroke-width="1" stroke-dasharray="6.5 2.5"/>
<line x1="543.7" y1="788.2" x2="635.8" y2="788.2" stroke="#000" stroke-width="1.05"/>
<line x1="635.8" y1="788.2" x2="714.5" y2="788.2" stroke="#000" stroke-width="1" stroke-dasharray="6.5 2.5"/>
<line x1="714.5" y1="788.2" x2="773.3" y2="788.2" stroke="#000" stroke-width="1.05"/>
<line x1="773.3" y1="788.2" x2="807" y2="788.2" stroke="#000" stroke-width="1" stroke-dasharray="6.5 2.5"/>
<line x1="807" y1="788.2" x2="861.6" y2="788.2" stroke="#000" stroke-width="1.05"/>
<line x1="341.2" y1="783.4" x2="341.2" y2="788.2" stroke="#000" stroke-width="1.05"/>
<line x1="482.2" y1="788.2" x2="482.2" y2="890.4" stroke="#000" stroke-width="1.05"/>
<line x1="486.4" y1="788.2" x2="486.4" y2="890.4" stroke="#000" stroke-width="1.05"/>
<line x1="546.6" y1="788.2" x2="546.6" y2="890.4" stroke="#000" stroke-width="1.05"/>
<line x1="550.8" y1="788.2" x2="550.8" y2="890.4" stroke="#000" stroke-width="1.05"/>
<line x1="673" y1="788.2" x2="673" y2="890.4" stroke="#000" stroke-width="1.05"/>
<line x1="677.3" y1="788.2" x2="677.3" y2="890.4" stroke="#000" stroke-width="1.05"/>
<line x1="765.8" y1="788.2" x2="765.8" y2="890.4" stroke="#000" stroke-width="1.05"/>
<line x1="770.3" y1="788.2" x2="770.3" y2="890.4" stroke="#000" stroke-width="1.05"/>
<line x1="668.9" y1="788.2" x2="668.9" y2="890.4" stroke="#000" stroke-width="0.8"/>
<line x1="486.4" y1="838.2" x2="546.6" y2="838.2" stroke="#000" stroke-width="1.05"/>
<line x1="486.4" y1="842.4" x2="546.6" y2="842.4" stroke="#000" stroke-width="1.05"/>
<line x1="770.3" y1="853" x2="851.5" y2="853" stroke="#000" stroke-width="1.05"/>
<line x1="770.3" y1="857.2" x2="861.6" y2="857.2" stroke="#000" stroke-width="1.05"/>
<line x1="851.5" y1="788.2" x2="851.5" y2="853" stroke="#000" stroke-width="1.05"/>
<line x1="855.7" y1="788.2" x2="855.7" y2="857.2" stroke="#000" stroke-width="1.05"/>
<line x1="107.6" y1="890.4" x2="129.6" y2="890.4" stroke="#000" stroke-width="1.05"/>
<line x1="107.6" y1="895" x2="129.6" y2="895" stroke="#000" stroke-width="1.05"/>
<line x1="129.6" y1="890.4" x2="129.6" y2="895" stroke="#000" stroke-width="1.05"/>
<line x1="162.3" y1="890.4" x2="331.4" y2="890.4" stroke="#000" stroke-width="1.05"/>
<line x1="331.4" y1="890.4" x2="397.8" y2="890.4" stroke="#000" stroke-width="1" stroke-dasharray="6.5 2.5"/>
<line x1="397.8" y1="890.4" x2="635.8" y2="890.4" stroke="#000" stroke-width="1.05"/>
<line x1="635.8" y1="890.4" x2="668.8" y2="890.4" stroke="#000" stroke-width="1" stroke-dasharray="6.5 2.5"/>
<line x1="668.8" y1="890.4" x2="729.4" y2="890.4" stroke="#000" stroke-width="1.05"/>
<line x1="729.4" y1="890.4" x2="762.7" y2="890.4" stroke="#000" stroke-width="1" stroke-dasharray="6.5 2.5"/>
<line x1="762.7" y1="890.4" x2="914.6" y2="890.4" stroke="#000" stroke-width="1.05"/>
<line x1="162.3" y1="895" x2="331.4" y2="895" stroke="#000" stroke-width="1.05"/>
<line x1="331.4" y1="895" x2="397.8" y2="895" stroke="#000" stroke-width="1" stroke-dasharray="6.5 2.5"/>
<line x1="397.8" y1="895" x2="635.8" y2="895" stroke="#000" stroke-width="1.05"/>
<line x1="635.8" y1="895" x2="668.8" y2="895" stroke="#000" stroke-width="1" stroke-dasharray="6.5 2.5"/>
<line x1="668.8" y1="895" x2="729.4" y2="895" stroke="#000" stroke-width="1.05"/>
<line x1="729.4" y1="895" x2="762.7" y2="895" stroke="#000" stroke-width="1" stroke-dasharray="6.5 2.5"/>
<line x1="762.7" y1="895" x2="914.6" y2="895" stroke="#000" stroke-width="1.05"/>
<line x1="162.3" y1="890.4" x2="162.3" y2="895" stroke="#000" stroke-width="1.05"/>
<line x1="914.6" y1="890.4" x2="914.6" y2="895" stroke="#000" stroke-width="1.05"/>
<line x1="252.4" y1="890.4" x2="252.4" y2="895" stroke="#000" stroke-width="0.8"/>
<line x1="285.6" y1="890.4" x2="285.6" y2="895" stroke="#000" stroke-width="0.8"/>
<line x1="459.4" y1="890.4" x2="459.4" y2="895" stroke="#000" stroke-width="0.8"/>
<line x1="492.4" y1="890.4" x2="492.4" y2="895" stroke="#000" stroke-width="0.8"/>
<line x1="514.5" y1="890.4" x2="514.5" y2="895" stroke="#000" stroke-width="0.8"/>
<line x1="547.8" y1="890.4" x2="547.8" y2="895" stroke="#000" stroke-width="0.8"/>
<line x1="696.5" y1="890.4" x2="696.5" y2="895" stroke="#000" stroke-width="0.8"/>
<line x1="138" y1="866.8" x2="162.3" y2="890.4" stroke="#000" stroke-width="1.05"/>
<line x1="170.2" y1="858.5" x2="176" y2="858.5" stroke="#000" stroke-width="0.8"/>
<line x1="170.2" y1="865" x2="176" y2="865" stroke="#000" stroke-width="0.8"/>
<line x1="173" y1="858.5" x2="173" y2="865" stroke="#000" stroke-width="0.9"/>
<line x1="348" y1="687.4" x2="348" y2="654.4" stroke="#000" stroke-width="0.8"/>
<path d="M348 654.4 A33 33 0 0 0 315 687.4" fill="none" stroke="#000" stroke-width="0.8"/>
<line x1="463" y1="735.3" x2="463" y2="702.1" stroke="#000" stroke-width="0.8"/>
<path d="M463 702.1 A33.2 33.2 0 0 0 429.8 735.3" fill="none" stroke="#000" stroke-width="0.8"/>
<line x1="475" y1="735.3" x2="475" y2="702.2" stroke="#000" stroke-width="0.8"/>
<path d="M475 702.2 A33.1 33.1 0 0 1 508.1 735.3" fill="none" stroke="#000" stroke-width="0.8"/>
<line x1="570" y1="735.3" x2="570" y2="702.2" stroke="#000" stroke-width="0.8"/>
<path d="M570 702.2 A33.1 33.1 0 0 0 536.9 735.3" fill="none" stroke="#000" stroke-width="0.8"/>
<line x1="792.5" y1="735.3" x2="792.5" y2="702.2" stroke="#000" stroke-width="0.8"/>
<path d="M792.5 702.2 A33.1 33.1 0 0 0 759.4 735.3" fill="none" stroke="#000" stroke-width="0.8"/>
<line x1="726.6" y1="735.3" x2="692.9" y2="731.7" stroke="#000" stroke-width="0.8"/>
<path d="M692.89 731.76 A33.9 33.9 0 0 1 754.7 716.34" fill="none" stroke="#000" stroke-width="0.8"/>
<line x1="403.7" y1="788.2" x2="403.7" y2="821.7" stroke="#000" stroke-width="0.8"/>
<path d="M403.7 821.7 A33.5 33.5 0 0 1 370.2 788.2" fill="none" stroke="#000" stroke-width="0.8"/>
<line x1="543.7" y1="788.2" x2="543.7" y2="822.4" stroke="#000" stroke-width="0.8"/>
<path d="M543.7 822.4 A34.2 34.2 0 0 1 509.5 788.2" fill="none" stroke="#000" stroke-width="0.8"/>
<line x1="668.8" y1="788.2" x2="668.8" y2="821.3" stroke="#000" stroke-width="0.8"/>
<path d="M668.8 821.3 A33.1 33.1 0 0 1 635.7 788.2" fill="none" stroke="#000" stroke-width="0.8"/>
<line x1="681.5" y1="788.2" x2="681.5" y2="821.3" stroke="#000" stroke-width="0.8"/>
<path d="M681.5 821.3 A33.1 33.1 0 0 0 714.6 788.2" fill="none" stroke="#000" stroke-width="0.8"/>
<line x1="773.3" y1="788.2" x2="773.3" y2="820.7" stroke="#000" stroke-width="0.8"/>
<path d="M773.3 820.7 A32.5 32.5 0 0 0 805.8 788.2" fill="none" stroke="#000" stroke-width="0.8"/>
<line x1="331.4" y1="890.4" x2="331.4" y2="857.3" stroke="#000" stroke-width="0.8"/>
<path d="M331.4 857.3 A33.1 33.1 0 0 1 364.5 890.4" fill="none" stroke="#000" stroke-width="0.8"/>
<line x1="397.8" y1="890.4" x2="397.8" y2="857.3" stroke="#000" stroke-width="0.8"/>
<path d="M397.8 857.3 A33.1 33.1 0 0 0 364.7 890.4" fill="none" stroke="#000" stroke-width="0.8"/>
<line x1="668.8" y1="890.4" x2="668.8" y2="857.3" stroke="#000" stroke-width="0.8"/>
<path d="M668.8 857.3 A33.1 33.1 0 0 0 635.7 890.4" fill="none" stroke="#000" stroke-width="0.8"/>
<line x1="762.7" y1="890.4" x2="739.3" y2="867" stroke="#000" stroke-width="0.8"/>
<path d="M729.6 890.4 A33.1 33.1 0 0 1 739.29 866.99" fill="none" stroke="#000" stroke-width="0.8"/>
<line x1="729.4" y1="890.4" x2="729.4" y2="895" stroke="#000" stroke-width="0.8"/>
<line x1="762.7" y1="890.4" x2="762.7" y2="895" stroke="#000" stroke-width="0.8"/>
<path d="M765.3 860.3 L746.2 878.8 L748 880.6 L765.3 863.6" fill="none" stroke="#000" stroke-width="0.8"/>
<path d="M746.49 879.11 A26.6 26.6 0 0 0 765.3 886.9" fill="none" stroke="#000" stroke-width="0.8"/>
<line x1="961.4" y1="609.1" x2="961.4" y2="737.3" stroke="#000" stroke-width="1.05"/>
<line x1="965.8" y1="609.1" x2="965.8" y2="737.3" stroke="#000" stroke-width="1.05"/>
<line x1="970" y1="609.1" x2="970" y2="737.3" stroke="#000" stroke-width="1.05"/>
<line x1="973.7" y1="609.1" x2="973.7" y2="737.3" stroke="#000" stroke-width="1.05"/>
<rect x="911.4" y="609.3" width="39.2" height="2.6" fill="none" stroke="#000" stroke-width="0.9"/>
<rect x="984.8" y="609.3" width="38.9" height="2.6" fill="none" stroke="#000" stroke-width="0.9"/>
<rect x="958" y="614.3" width="2.8" height="33.3" fill="none" stroke="#000" stroke-width="0.9"/>
<rect x="974.3" y="614.3" width="3.1" height="33.3" fill="none" stroke="#000" stroke-width="0.9"/>
<ellipse cx="941" cy="626" rx="7" ry="6.1" fill="none" stroke="#000" stroke-width="0.9"/>
<ellipse cx="941" cy="626" rx="5" ry="4.3" fill="none" stroke="#000" stroke-width="0.7"/>
<path d="M944 620.4 L958 623.4 L958 628.6 L944 631.6" fill="none" stroke="#000" stroke-width="0.8"/>
<circle cx="955.4" cy="626" r="0.9" fill="none" stroke="#000" stroke-width="0.6"/>
<ellipse cx="994.5" cy="626" rx="7" ry="6.1" fill="none" stroke="#000" stroke-width="0.9"/>
<ellipse cx="994.5" cy="626" rx="5" ry="4.3" fill="none" stroke="#000" stroke-width="0.7"/>
<path d="M991.5 620.4 L977.5 623.4 L977.5 628.6 L991.5 631.6" fill="none" stroke="#000" stroke-width="0.8"/>
<circle cx="980.1" cy="626" r="0.9" fill="none" stroke="#000" stroke-width="0.6"/>
<ellipse cx="941" cy="680.9" rx="7" ry="6.1" fill="none" stroke="#000" stroke-width="0.9"/>
<ellipse cx="941" cy="680.9" rx="5" ry="4.3" fill="none" stroke="#000" stroke-width="0.7"/>
<path d="M944 675.3 L958 678.3 L958 683.5 L944 686.5" fill="none" stroke="#000" stroke-width="0.8"/>
<circle cx="955.4" cy="680.9" r="0.9" fill="none" stroke="#000" stroke-width="0.6"/>
<ellipse cx="994.5" cy="680.9" rx="7" ry="6.1" fill="none" stroke="#000" stroke-width="0.9"/>
<ellipse cx="994.5" cy="680.9" rx="5" ry="4.3" fill="none" stroke="#000" stroke-width="0.7"/>
<path d="M991.5 675.3 L977.5 678.3 L977.5 683.5 L991.5 686.5" fill="none" stroke="#000" stroke-width="0.8"/>
<circle cx="980.1" cy="680.9" r="0.9" fill="none" stroke="#000" stroke-width="0.6"/>
<ellipse cx="994.5" cy="716.6" rx="7" ry="6.1" fill="none" stroke="#000" stroke-width="0.9"/>
<ellipse cx="994.5" cy="716.6" rx="5" ry="4.3" fill="none" stroke="#000" stroke-width="0.7"/>
<path d="M991.5 711 L977.5 714 L977.5 719.2 L991.5 722.2" fill="none" stroke="#000" stroke-width="0.8"/>
<circle cx="980.1" cy="716.6" r="0.9" fill="none" stroke="#000" stroke-width="0.6"/>
<line x1="902.2" y1="664.3" x2="961.4" y2="664.3" stroke="#000" stroke-width="1.05"/>
<line x1="905.9" y1="664.3" x2="905.9" y2="667" stroke="#000" stroke-width="1.05"/>
<line x1="905.9" y1="667" x2="922.9" y2="688.9" stroke="#000" stroke-width="1.05"/>
<line x1="905.9" y1="693.3" x2="905.9" y2="697" stroke="#000" stroke-width="1.05"/>
<line x1="905.9" y1="697" x2="961.4" y2="697" stroke="#000" stroke-width="1.05"/>
<line x1="973.7" y1="664.3" x2="1032.9" y2="664.3" stroke="#000" stroke-width="1.05"/>
<line x1="1029.8" y1="664.3" x2="1029.8" y2="667" stroke="#000" stroke-width="1.05"/>
<line x1="1029.8" y1="667" x2="1012" y2="689.2" stroke="#000" stroke-width="1.05"/>
<line x1="973.7" y1="701.2" x2="1029.8" y2="701.2" stroke="#000" stroke-width="1.05"/>
<line x1="1029.8" y1="697" x2="1029.8" y2="704" stroke="#000" stroke-width="1.05"/>
<line x1="1029.8" y1="704" x2="1012" y2="723.4" stroke="#000" stroke-width="1.05"/>
<line x1="1029.8" y1="730.8" x2="1029.8" y2="737.3" stroke="#000" stroke-width="1.05"/>
<rect x="942.3" y="705.9" width="19.1" height="19.4" fill="none" stroke="#000" stroke-width="0.9" rx="2.5"/>
<rect x="945" y="708.1" width="12" height="14.7" fill="none" stroke="#000" stroke-width="0.9" rx="3"/>
<path d="M961.4 737.3 L949.3 737.3 L949.3 761.3 L953.8 761.3 L953.8 742.3 L991.7 742.3 L991.7 746.2 L995.9 746.2 L995.9 742.3 L1032.9 742.3 L1032.9 737.3 L973.7 737.3" fill="none" stroke="#000" stroke-width="1.05"/>
<line x1="995.9" y1="746.2" x2="1027.4" y2="769.3" stroke="#000" stroke-width="1.05"/>
<line x1="1042.2" y1="641.5" x2="1064.4" y2="664.3" stroke="#000" stroke-width="1.05"/>
<line x1="1064.4" y1="664.3" x2="1067.5" y2="664.3" stroke="#000" stroke-width="1.05"/>
<line x1="925.1" y1="761" x2="949.3" y2="786.3" stroke="#000" stroke-width="1.05"/>
<line x1="865.7" y1="793.7" x2="949.3" y2="793.7" stroke="#000" stroke-width="1.05"/>
<line x1="865.7" y1="798.4" x2="949.3" y2="798.4" stroke="#000" stroke-width="1.05"/>
<path d="M949.3 786.3 L953.8 786.3 L953.8 895 L947.3 895 L947.3 889.9 L949.3 889.9 L949.3 786.3" fill="none" stroke="#000" stroke-width="1.05"/>
<line x1="923.3" y1="865.9" x2="947.3" y2="889.9" stroke="#000" stroke-width="1.05"/>
<path d="M889.6 798.4 L889.6 804.8 L893 804.8" fill="none" stroke="#000" stroke-width="0.8"/>
<path d="M935.8 798.4 L935.8 804.8 L932.6 804.8" fill="none" stroke="#000" stroke-width="0.8"/>
<rect x="893.8" y="801.5" width="6.8" height="6.1" fill="none" stroke="#000" stroke-width="0.8"/>
<rect x="904.4" y="801.5" width="6.8" height="6.1" fill="none" stroke="#000" stroke-width="0.8"/>
<rect x="915.1" y="801.5" width="6.8" height="6.1" fill="none" stroke="#000" stroke-width="0.8"/>
<rect x="925.7" y="801.5" width="6.8" height="6.1" fill="none" stroke="#000" stroke-width="0.8"/>
<path d="M991.7 820.6 L991.7 771.9 L996.5 771.9 L996.5 814.1 L1067.5 814.1" fill="none" stroke="#000" stroke-width="1.05"/>
<path d="M991.7 820.6 L996.5 820.6 L996.5 818.7 L1067.5 818.7" fill="none" stroke="#000" stroke-width="1.05"/>
<path d="M991.7 895 L991.7 853.3 L996.5 853.3 L996.5 889.9 L1067.5 889.9" fill="none" stroke="#000" stroke-width="1.05"/>
<line x1="991.7" y1="895" x2="1072.3" y2="895" stroke="#000" stroke-width="1.05"/>
<line x1="996.5" y1="820.6" x2="1026.5" y2="841.8" stroke="#000" stroke-width="1.05"/>
<rect x="1038.5" y="795.2" width="18.5" height="18.9" fill="none" stroke="#000" stroke-width="0.9" rx="2.5"/>
<rect x="1041" y="797.8" width="13.2" height="11.6" fill="none" stroke="#000" stroke-width="0.9" rx="3"/>
<line x1="1067.5" y1="609.1" x2="1067.5" y2="814.1" stroke="#000" stroke-width="1.05"/>
<line x1="1067.5" y1="818.7" x2="1067.5" y2="889.9" stroke="#000" stroke-width="1.05"/>
<line x1="1072.3" y1="798.4" x2="1072.3" y2="895" stroke="#000" stroke-width="1.05"/>
<line x1="1074.5" y1="613" x2="1074.5" y2="793.4" stroke="#000" stroke-width="1.05"/>
<line x1="1074.5" y1="613" x2="1158.6" y2="613" stroke="#000" stroke-width="1.05"/>
<line x1="1074.5" y1="793.4" x2="1121.7" y2="793.4" stroke="#000" stroke-width="1.05"/>
<line x1="1067.5" y1="798.4" x2="1121.7" y2="798.4" stroke="#000" stroke-width="1.05"/>
<line x1="1121.7" y1="793.4" x2="1121.7" y2="798.4" stroke="#000" stroke-width="1.05"/>
<path d="M1158.6 613 L1158.6 893.3 L1162 893.3 L1162 898.4" fill="none" stroke="#000" stroke-width="1.05"/>
<line x1="1169.5" y1="602.1" x2="1169.5" y2="961.6" stroke="#000" stroke-width="1.05"/>
<line x1="1162" y1="898.4" x2="1162" y2="961.6" stroke="#000" stroke-width="1.05"/>
<line x1="1165.9" y1="898.4" x2="1165.9" y2="961.6" stroke="#000" stroke-width="1.05"/>
<line x1="1162" y1="898.4" x2="1169.5" y2="898.4" stroke="#000" stroke-width="1.05"/>
<rect x="1154.3" y="793.4" width="4.3" height="5" fill="none" stroke="#000" stroke-width="0.9"/>
<line x1="1129.4" y1="768.8" x2="1154.3" y2="793.4" stroke="#000" stroke-width="1.05"/>
<line x1="1169.5" y1="862" x2="1246.3" y2="862" stroke="#000" stroke-width="1.05"/>
<line x1="1246.3" y1="862" x2="1246.3" y2="961.6" stroke="#000" stroke-width="1.05"/>
<path d="M1224.5 862 L1224.5 895.4 L1246.3 895.4" fill="none" stroke="#000" stroke-width="1.05"/>
<line x1="1075.2" y1="653.2" x2="1158.6" y2="653.2" stroke="#000" stroke-width="0.8"/>
<line x1="1075.2" y1="662.45" x2="1158.6" y2="662.45" stroke="#000" stroke-width="0.8"/>
<line x1="1075.2" y1="671.69" x2="1158.6" y2="671.69" stroke="#000" stroke-width="0.8"/>
<line x1="1075.2" y1="680.93" x2="1158.6" y2="680.93" stroke="#000" stroke-width="0.8"/>
<line x1="1075.2" y1="690.18" x2="1158.6" y2="690.18" stroke="#000" stroke-width="0.8"/>
<line x1="1075.2" y1="699.42" x2="1158.6" y2="699.42" stroke="#000" stroke-width="0.8"/>
<line x1="1075.2" y1="708.67" x2="1158.6" y2="708.67" stroke="#000" stroke-width="0.8"/>
<line x1="1075.2" y1="717.91" x2="1158.6" y2="717.91" stroke="#000" stroke-width="0.8"/>
<line x1="1075.2" y1="727.16" x2="1158.6" y2="727.16" stroke="#000" stroke-width="0.8"/>
<line x1="1075.2" y1="736.4" x2="1158.6" y2="736.4" stroke="#000" stroke-width="0.8"/>
<line x1="1075.2" y1="738.2" x2="1119.2" y2="738.2" stroke="#000" stroke-width="1.05"/>
<rect x="1114.6" y="650.8" width="4.6" height="87.4" fill="none" stroke="#000" stroke-width="0.8"/>
<line x1="1116.2" y1="650.8" x2="1116.2" y2="738.2" stroke="#000" stroke-width="0.6"/>
<line x1="1117.7" y1="650.8" x2="1117.7" y2="738.2" stroke="#000" stroke-width="0.6"/>
<path d="M1093.8 694.8 L1093.8 634.7 L1136.8 634.7 L1136.8 744.7" fill="none" stroke="#000" stroke-width="0.8"/>
<path d="M1093.8 694.8 L1092.9 690.8 L1094.7 690.8 Z" fill="#000" stroke="#000" stroke-width="0.5"/>
<line x1="173" y1="65" x2="173" y2="467.5" stroke="#000" stroke-width="0.8" stroke-dasharray="14 2.5 2 2.5"/>
<line x1="173" y1="553" x2="173" y2="961.5" stroke="#000" stroke-width="0.8" stroke-dasharray="14 2.5 2 2.5"/>
<line x1="503.6" y1="65" x2="503.6" y2="467.5" stroke="#000" stroke-width="0.8" stroke-dasharray="14 2.5 2 2.5"/>
<line x1="503.6" y1="553" x2="503.6" y2="961.5" stroke="#000" stroke-width="0.8" stroke-dasharray="14 2.5 2 2.5"/>
<line x1="834.6" y1="65" x2="834.6" y2="467.5" stroke="#000" stroke-width="0.8" stroke-dasharray="14 2.5 2 2.5"/>
<line x1="834.6" y1="553" x2="834.6" y2="961.5" stroke="#000" stroke-width="0.8" stroke-dasharray="14 2.5 2 2.5"/>
<text x="126" y="220.2" font-size="5.9" textLength="63" lengthAdjust="spacingAndGlyphs" xml:space="preserve">EXISTING TENANT SPACE</text>
<text class="n" x="146.5" y="232.2" font-size="8.2" font-style="italic" textLength="16" lengthAdjust="spacingAndGlyphs" xml:space="preserve">205</text>
<text x="904.4" y="224.1" font-size="5.9" textLength="22.2" lengthAdjust="spacingAndGlyphs" xml:space="preserve">EXISTING</text>
<text x="904.4" y="230.9" font-size="5.9" textLength="13" lengthAdjust="spacingAndGlyphs" xml:space="preserve">MENS</text>
<text x="904.4" y="237.6" font-size="5.9" textLength="26.8" lengthAdjust="spacingAndGlyphs" xml:space="preserve">TOILET RM</text>
<text x="1032.9" y="224.1" font-size="5.9" textLength="22.2" lengthAdjust="spacingAndGlyphs" xml:space="preserve">EXISTING</text>
<text x="1032.9" y="230.9" font-size="5.9" textLength="20.3" lengthAdjust="spacingAndGlyphs" xml:space="preserve">WOMENS</text>
<text x="1032.9" y="237.6" font-size="5.9" textLength="26.8" lengthAdjust="spacingAndGlyphs" xml:space="preserve">TOILET RM</text>
<text x="1088.1" y="213.4" font-size="5.9" textLength="22.2" lengthAdjust="spacingAndGlyphs" xml:space="preserve">EXISTING</text>
<text x="1088.1" y="220" font-size="5.9" textLength="14.8" lengthAdjust="spacingAndGlyphs" xml:space="preserve">STAIR</text>
<text x="1129.9" y="259.2" font-size="5.9" textLength="15.2" lengthAdjust="spacingAndGlyphs" xml:space="preserve">DOWN</text>
<text x="895.4" y="328.5" font-size="5.9" textLength="22.2" lengthAdjust="spacingAndGlyphs" xml:space="preserve">EXISTING</text>
<text x="895.4" y="335.1" font-size="5.9" textLength="30.8" lengthAdjust="spacingAndGlyphs" xml:space="preserve">ELECTRICAL</text>
<text x="895.4" y="341.7" font-size="5.9" textLength="14.8" lengthAdjust="spacingAndGlyphs" xml:space="preserve">ROOM</text>
<text x="1019" y="363.7" font-size="5.9" textLength="22.2" lengthAdjust="spacingAndGlyphs" xml:space="preserve">EXISTING</text>
<text x="1019" y="370.6" font-size="5.9" textLength="24.4" lengthAdjust="spacingAndGlyphs" xml:space="preserve">STORAGE</text>
<text x="1019" y="377.6" font-size="5.9" textLength="14.8" lengthAdjust="spacingAndGlyphs" xml:space="preserve">ROOM</text>
<text x="126" y="716.4" font-size="5.9" textLength="63" lengthAdjust="spacingAndGlyphs" xml:space="preserve">EXISTING TENANT SPACE</text>
<text class="n" x="146.5" y="728.4" font-size="8.2" font-style="italic" textLength="16" lengthAdjust="spacingAndGlyphs" xml:space="preserve">205</text>
<text x="904.4" y="720.3" font-size="5.9" textLength="22.2" lengthAdjust="spacingAndGlyphs" xml:space="preserve">EXISTING</text>
<text x="904.4" y="727.1" font-size="5.9" textLength="13" lengthAdjust="spacingAndGlyphs" xml:space="preserve">MENS</text>
<text x="904.4" y="733.8" font-size="5.9" textLength="26.8" lengthAdjust="spacingAndGlyphs" xml:space="preserve">TOILET RM</text>
<text x="1032.9" y="720.3" font-size="5.9" textLength="22.2" lengthAdjust="spacingAndGlyphs" xml:space="preserve">EXISTING</text>
<text x="1032.9" y="727.1" font-size="5.9" textLength="20.3" lengthAdjust="spacingAndGlyphs" xml:space="preserve">WOMENS</text>
<text x="1032.9" y="733.8" font-size="5.9" textLength="26.8" lengthAdjust="spacingAndGlyphs" xml:space="preserve">TOILET RM</text>
<text x="1088.1" y="709.6" font-size="5.9" textLength="22.2" lengthAdjust="spacingAndGlyphs" xml:space="preserve">EXISTING</text>
<text x="1088.1" y="716.2" font-size="5.9" textLength="14.8" lengthAdjust="spacingAndGlyphs" xml:space="preserve">STAIR</text>
<text x="1129.9" y="755.4" font-size="5.9" textLength="15.2" lengthAdjust="spacingAndGlyphs" xml:space="preserve">DOWN</text>
<text x="895.4" y="824.7" font-size="5.9" textLength="22.2" lengthAdjust="spacingAndGlyphs" xml:space="preserve">EXISTING</text>
<text x="895.4" y="831.3" font-size="5.9" textLength="30.8" lengthAdjust="spacingAndGlyphs" xml:space="preserve">ELECTRICAL</text>
<text x="895.4" y="837.9" font-size="5.9" textLength="14.8" lengthAdjust="spacingAndGlyphs" xml:space="preserve">ROOM</text>
<text x="1019" y="859.9" font-size="5.9" textLength="22.2" lengthAdjust="spacingAndGlyphs" xml:space="preserve">EXISTING</text>
<text x="1019" y="866.8" font-size="5.9" textLength="24.4" lengthAdjust="spacingAndGlyphs" xml:space="preserve">STORAGE</text>
<text x="1019" y="873.8" font-size="5.9" textLength="14.8" lengthAdjust="spacingAndGlyphs" xml:space="preserve">ROOM</text>
<circle cx="414.6" cy="142.8" r="3.4" fill="none" stroke="#000" stroke-width="0.8"/>
<path d="M414.6 146.5 c-5 0.5 -8.5 4 -9.5 9 l4.5 4.5 h10 l4.5 -4.5 c-1 -5 -4.5 -8.5 -9.5 -9 z" fill="none" stroke="#000" stroke-width="0.85"/>
<rect x="406.2" y="161.6" width="16.8" height="43.6" fill="none" stroke="#000" stroke-width="0.9" rx="5"/>
<rect x="403.3" y="164.8" width="2.2" height="12.9" fill="none" stroke="#000" stroke-width="0.7"/>
<rect x="423.8" y="164.8" width="2.6" height="12.9" fill="#333" stroke="#000" stroke-width="0.7"/>
<ellipse cx="414.6" cy="161" rx="1.8" ry="1" fill="#000" stroke="#000" stroke-width="0.5"/>
<ellipse cx="526" cy="169.7" rx="9.2" ry="12.4" fill="none" stroke="#000" stroke-width="0.9"/>
<rect x="514" y="167.5" width="2.6" height="12.4" fill="#888" stroke="#000" stroke-width="0.7"/>
<rect x="535.4" y="167.5" width="2.6" height="12.4" fill="#888" stroke="#000" stroke-width="0.7"/>
<path d="M526 182.6 c-7 0 -12.5 2.5 -11 7.5 c1 5 5 6.5 6 8.5 c2 3 8 3 10 0 c1 -2 5 -3.5 6 -8.5 c1.5 -5 -4 -7.5 -11 -7.5 z" fill="none" stroke="#000" stroke-width="0.85"/>
<ellipse cx="526" cy="182.9" rx="1.8" ry="0.9" fill="#000" stroke="#000" stroke-width="0.5"/>
<path d="M526 197.7 c-4 0 -4.5 3 -3.5 6 c1 3 6 3 7 0 c1 -3 0.5 -6 -3.5 -6 z" fill="none" stroke="#000" stroke-width="0.8"/>
<ellipse cx="632.5" cy="169.7" rx="9.2" ry="12.4" fill="none" stroke="#000" stroke-width="0.9"/>
<rect x="620.5" y="167.5" width="2.6" height="12.4" fill="#888" stroke="#000" stroke-width="0.7"/>
<rect x="641.9" y="167.5" width="2.6" height="12.4" fill="#888" stroke="#000" stroke-width="0.7"/>
<path d="M632.5 182.6 c-7 0 -12.5 2.5 -11 7.5 c1 5 5 6.5 6 8.5 c2 3 8 3 10 0 c1 -2 5 -3.5 6 -8.5 c1.5 -5 -4 -7.5 -11 -7.5 z" fill="none" stroke="#000" stroke-width="0.85"/>
<ellipse cx="632.5" cy="182.9" rx="1.8" ry="0.9" fill="#000" stroke="#000" stroke-width="0.5"/>
<path d="M632.5 197.7 c-4 0 -4.5 3 -3.5 6 c1 3 6 3 7 0 c1 -3 0.5 -6 -3.5 -6 z" fill="none" stroke="#000" stroke-width="0.8"/>
<ellipse cx="746" cy="169.7" rx="9.2" ry="12.4" fill="none" stroke="#000" stroke-width="0.9"/>
<rect x="734" y="167.5" width="2.6" height="12.4" fill="#888" stroke="#000" stroke-width="0.7"/>
<rect x="755.4" y="167.5" width="2.6" height="12.4" fill="#888" stroke="#000" stroke-width="0.7"/>
<path d="M746 182.6 c-7 0 -12.5 2.5 -11 7.5 c1 5 5 6.5 6 8.5 c2 3 8 3 10 0 c1 -2 5 -3.5 6 -8.5 c1.5 -5 -4 -7.5 -11 -7.5 z" fill="none" stroke="#000" stroke-width="0.85"/>
<ellipse cx="746" cy="182.9" rx="1.8" ry="0.9" fill="#000" stroke="#000" stroke-width="0.5"/>
<path d="M746 197.7 c-4 0 -4.5 3 -3.5 6 c1 3 6 3 7 0 c1 -3 0.5 -6 -3.5 -6 z" fill="none" stroke="#000" stroke-width="0.8"/>
<path d="M315.5 163.6 Q306 170 308.4 187" fill="none" stroke="#000" stroke-width="0.75" stroke-dasharray="5 1.6 1.2 1.6"/>
<path d="M305 206 Q283 220 287 262 Q290 290 293 287" fill="none" stroke="#000" stroke-width="0.75" stroke-dasharray="5 1.6 1.2 1.6"/>
<path d="M294 241 Q290 255 293 264" fill="none" stroke="#000" stroke-width="0.75" stroke-dasharray="5 1.6 1.2 1.6"/>
<path d="M296.5 223.8 Q315 235 333.5 223.8" fill="none" stroke="#000" stroke-width="0.75" stroke-dasharray="5 1.6 1.2 1.6"/>
<path d="M305 207 Q318 240 328.6 253.9 Q338 265 340.6 275.5 Q345 300 337 313 Q328 326 311.6 332.4 Q290 326 272 333.5" fill="none" stroke="#000" stroke-width="0.75" stroke-dasharray="5 1.6 1.2 1.6"/>
<path d="M361 283 Q362 255 390 246 Q410 243 420 250 Q440 258 459 256 Q500 262 522 251 Q560 262 590 258 Q610 258 632 250 Q660 262 690 258 L705.9 250.3" fill="none" stroke="#000" stroke-width="0.75" stroke-dasharray="5 1.6 1.2 1.6"/>
<path d="M384 268.6 Q415 274 445 269 M451 269.5 Q480 278 510.5 269.6 M516.8 269.5 Q545 284 576.7 269.5 M583 269.3 Q615 274 643 269.3 M649 269.4 Q680 276 709 269.4 M715 269.6 Q745 278 775 269 M781 269.3 Q800 277 820 269.3" fill="none" stroke="#000" stroke-width="0.75" stroke-dasharray="5 1.6 1.2 1.6"/>
<path d="M823.2 266 Q832 245 805 238" fill="none" stroke="#000" stroke-width="0.75" stroke-dasharray="5 1.6 1.2 1.6"/>
<path d="M413.4 287 Q420 315 454.3 314 M413 287 Q400 300 425 335" fill="none" stroke="#000" stroke-width="0.75" stroke-dasharray="5 1.6 1.2 1.6"/>
<path d="M390.9 314 Q420 305 451.2 314 M454.6 317 L454.4 356 M280.6 359 Q310 364 340 359.2 M346 358.5 Q365 346 385 358.5 M391 359.5 Q420 366 451.2 359.5" fill="none" stroke="#000" stroke-width="0.75" stroke-dasharray="5 1.6 1.2 1.6"/>
<path d="M396 191 Q414.7 184 433 191" fill="none" stroke="#000" stroke-width="0.75" stroke-dasharray="5 1.6 1.2 1.6"/>
<path d="M427.3 128 Q432 180 419.5 236" fill="none" stroke="#000" stroke-width="0.75" stroke-dasharray="5 1.6 1.2 1.6"/>
<path d="M505.4 191.5 Q524.4 184 543.4 191.5" fill="none" stroke="#000" stroke-width="0.75" stroke-dasharray="5 1.6 1.2 1.6"/>
<circle cx="505.4" cy="192" r="0.8" fill="#000" stroke="#000" stroke-width="0.5"/>
<circle cx="543.4" cy="192" r="0.8" fill="#000" stroke="#000" stroke-width="0.5"/>
<path d="M614.3 191.5 Q633.3 184 652.3 191.5" fill="none" stroke="#000" stroke-width="0.75" stroke-dasharray="5 1.6 1.2 1.6"/>
<circle cx="614.3" cy="192" r="0.8" fill="#000" stroke="#000" stroke-width="0.5"/>
<circle cx="652.3" cy="192" r="0.8" fill="#000" stroke="#000" stroke-width="0.5"/>
<path d="M723.7 191.5 Q742.7 184 761.7 191.5" fill="none" stroke="#000" stroke-width="0.75" stroke-dasharray="5 1.6 1.2 1.6"/>
<circle cx="723.7" cy="192" r="0.8" fill="#000" stroke="#000" stroke-width="0.5"/>
<circle cx="761.7" cy="192" r="0.8" fill="#000" stroke="#000" stroke-width="0.5"/>
<circle cx="396" cy="192" r="0.8" fill="#000" stroke="#000" stroke-width="0.5"/>
<circle cx="433" cy="192" r="0.8" fill="#000" stroke="#000" stroke-width="0.5"/>
<path d="M524.4 189.2 Q512 205 514.7 235" fill="none" stroke="#000" stroke-width="0.75" stroke-dasharray="5 1.6 1.2 1.6"/>
<path d="M633.3 191.6 Q612 210 616.8 235" fill="none" stroke="#000" stroke-width="0.75" stroke-dasharray="5 1.6 1.2 1.6"/>
<path d="M742.7 191.4 Q715 215 694 229" fill="none" stroke="#000" stroke-width="0.75" stroke-dasharray="5 1.6 1.2 1.6"/>
<path d="M820 202.8 Q824 220 807 231" fill="none" stroke="#000" stroke-width="0.75" stroke-dasharray="5 1.6 1.2 1.6"/>
<path d="M630.4 300 Q585 305 590.7 330.5 M590 336.6 Q582 360 590.3 375.6 M593.8 378.4 Q612 370 631.2 378.8 M634.8 376 Q645 355 634.8 337.6 M631 301 Q625 320 609.9 331.7" fill="none" stroke="#000" stroke-width="0.75" stroke-dasharray="5 1.6 1.2 1.6"/>
<path d="M719.4 301 Q740 320 719.6 339.3" fill="none" stroke="#000" stroke-width="0.75" stroke-dasharray="5 1.6 1.2 1.6"/>
<path d="M506 301 Q510 312 508.7 317.3" fill="none" stroke="#000" stroke-width="0.75" stroke-dasharray="5 1.6 1.2 1.6"/>
<path d="M505.7 354 L505.7 362" fill="none" stroke="#000" stroke-width="0.75" stroke-dasharray="5 1.6 1.2 1.6"/>
<path d="M815.4 302 Q815 335 818.4 345 M812 302 Q812 322 795.3 328.2" fill="none" stroke="#000" stroke-width="0.75" stroke-dasharray="5 1.6 1.2 1.6"/>
<path d="M778.1 369 Q790 390 812.7 383.6 M780 368 Q805 360 826 379" fill="none" stroke="#000" stroke-width="0.75" stroke-dasharray="5 1.6 1.2 1.6"/>
<circle cx="293.1" cy="223.8" r="3.1" fill="#fff" stroke="#000" stroke-width="0.85"/>
<circle cx="336.8" cy="223.8" r="3.1" fill="#fff" stroke="#000" stroke-width="0.85"/>
<circle cx="328.6" cy="253.9" r="3.1" fill="#fff" stroke="#000" stroke-width="0.85"/>
<circle cx="340.6" cy="275.5" r="3.1" fill="#fff" stroke="#000" stroke-width="0.85"/>
<circle cx="337" cy="313.2" r="3.1" fill="#fff" stroke="#000" stroke-width="0.85"/>
<circle cx="311.6" cy="332.4" r="3.1" fill="#fff" stroke="#000" stroke-width="0.85"/>
<circle cx="272.1" cy="333.5" r="3.1" fill="#fff" stroke="#000" stroke-width="0.85"/>
<circle cx="381.2" cy="268.6" r="3.1" fill="#fff" stroke="#000" stroke-width="0.85"/>
<circle cx="448" cy="269.2" r="3.1" fill="#fff" stroke="#000" stroke-width="0.85"/>
<circle cx="513.7" cy="269.2" r="3.1" fill="#fff" stroke="#000" stroke-width="0.85"/>
<circle cx="579.8" cy="269.2" r="3.1" fill="#fff" stroke="#000" stroke-width="0.85"/>
<circle cx="646" cy="269.2" r="3.1" fill="#fff" stroke="#000" stroke-width="0.85"/>
<circle cx="712.1" cy="269.2" r="3.1" fill="#fff" stroke="#000" stroke-width="0.85"/>
<circle cx="778.1" cy="268.9" r="3.1" fill="#fff" stroke="#000" stroke-width="0.85"/>
<circle cx="823.2" cy="268.9" r="3.1" fill="#fff" stroke="#000" stroke-width="0.85"/>
<circle cx="387.8" cy="314.2" r="3.1" fill="#fff" stroke="#000" stroke-width="0.85"/>
<circle cx="454.3" cy="314" r="3.1" fill="#fff" stroke="#000" stroke-width="0.85"/>
<circle cx="277.5" cy="359.2" r="3.1" fill="#fff" stroke="#000" stroke-width="0.85"/>
<circle cx="343" cy="359.2" r="3.1" fill="#fff" stroke="#000" stroke-width="0.85"/>
<circle cx="388" cy="359.2" r="3.1" fill="#fff" stroke="#000" stroke-width="0.85"/>
<circle cx="454.3" cy="359.2" r="3.1" fill="#fff" stroke="#000" stroke-width="0.85"/>
<circle cx="590.7" cy="333.5" r="3.1" fill="#fff" stroke="#000" stroke-width="0.85"/>
<circle cx="634.6" cy="334.5" r="3.1" fill="#fff" stroke="#000" stroke-width="0.85"/>
<circle cx="590.7" cy="378.6" r="3.1" fill="#fff" stroke="#000" stroke-width="0.85"/>
<circle cx="634.3" cy="379" r="3.1" fill="#fff" stroke="#000" stroke-width="0.85"/>
<circle cx="315.5" cy="163.6" r="2.3" fill="#fff" stroke="#000" stroke-width="0.8"/>
<text class="n" x="315.5" y="165.2" font-size="4" text-anchor="middle" xml:space="preserve">J</text>
<circle cx="293.1" cy="264.1" r="2.3" fill="#fff" stroke="#000" stroke-width="0.8"/>
<text class="n" x="293.1" y="265.7" font-size="4" text-anchor="middle" xml:space="preserve">J</text>
<circle cx="435.6" cy="333" r="2.3" fill="#fff" stroke="#000" stroke-width="0.8"/>
<text class="n" x="435.6" y="334.6" font-size="4" text-anchor="middle" xml:space="preserve">J</text>
<circle cx="508.7" cy="317.3" r="2.3" fill="#fff" stroke="#000" stroke-width="0.8"/>
<text class="n" x="508.7" y="318.9" font-size="4" text-anchor="middle" xml:space="preserve">J</text>
<circle cx="520.7" cy="364" r="2.3" fill="#fff" stroke="#000" stroke-width="0.8"/>
<text class="n" x="520.7" y="365.6" font-size="4" text-anchor="middle" xml:space="preserve">J</text>
<circle cx="609.9" cy="331.7" r="2.3" fill="#fff" stroke="#000" stroke-width="0.8"/>
<text class="n" x="609.9" y="333.3" font-size="4" text-anchor="middle" xml:space="preserve">J</text>
<circle cx="719.6" cy="339.3" r="2.3" fill="#fff" stroke="#000" stroke-width="0.8"/>
<text class="n" x="719.6" y="340.9" font-size="4" text-anchor="middle" xml:space="preserve">J</text>
<circle cx="795.3" cy="328.2" r="2.3" fill="#fff" stroke="#000" stroke-width="0.8"/>
<text class="n" x="795.3" y="329.8" font-size="4" text-anchor="middle" xml:space="preserve">J</text>
<circle cx="820" cy="202.8" r="2.3" fill="#fff" stroke="#000" stroke-width="0.8"/>
<text class="n" x="820" y="204.4" font-size="4" text-anchor="middle" xml:space="preserve">J</text>
<circle cx="414.7" cy="191.2" r="2.3" fill="#fff" stroke="#000" stroke-width="0.8"/>
<text class="n" x="414.7" y="192.8" font-size="4" text-anchor="middle" xml:space="preserve">J</text>
<circle cx="524.4" cy="189.2" r="2.3" fill="#fff" stroke="#000" stroke-width="0.8"/>
<text class="n" x="524.4" y="190.8" font-size="4" text-anchor="middle" xml:space="preserve">J</text>
<circle cx="633.3" cy="191.6" r="2.3" fill="#fff" stroke="#000" stroke-width="0.8"/>
<text class="n" x="633.3" y="193.2" font-size="4" text-anchor="middle" xml:space="preserve">J</text>
<circle cx="742.7" cy="191.4" r="2.3" fill="#fff" stroke="#000" stroke-width="0.8"/>
<text class="n" x="742.7" y="193" font-size="4" text-anchor="middle" xml:space="preserve">J</text>
<circle cx="294.1" cy="240.6" r="0.8" fill="#000" stroke="#000" stroke-width="0.5"/>
<circle cx="293.1" cy="287" r="0.8" fill="#000" stroke="#000" stroke-width="0.5"/>
<circle cx="427.3" cy="124.7" r="2.6" fill="none" stroke="#000" stroke-width="0.8"/>
<line x1="423" y1="124.7" x2="431.6" y2="124.7" stroke="#000" stroke-width="0.7"/>
<line x1="427.3" y1="120.4" x2="427.3" y2="129" stroke="#000" stroke-width="0.7"/>
<circle cx="416.7" cy="250.5" r="2.6" fill="none" stroke="#000" stroke-width="0.8"/>
<line x1="412.4" y1="250.5" x2="421" y2="250.5" stroke="#000" stroke-width="0.7"/>
<line x1="416.7" y1="246.2" x2="416.7" y2="254.8" stroke="#000" stroke-width="0.7"/>
<circle cx="522.3" cy="250.5" r="2.6" fill="none" stroke="#000" stroke-width="0.8"/>
<line x1="518" y1="250.5" x2="526.6" y2="250.5" stroke="#000" stroke-width="0.7"/>
<line x1="522.3" y1="246.2" x2="522.3" y2="254.8" stroke="#000" stroke-width="0.7"/>
<circle cx="632.2" cy="250.3" r="2.6" fill="none" stroke="#000" stroke-width="0.8"/>
<line x1="627.9" y1="250.3" x2="636.5" y2="250.3" stroke="#000" stroke-width="0.7"/>
<line x1="632.2" y1="246" x2="632.2" y2="254.6" stroke="#000" stroke-width="0.7"/>
<circle cx="705.9" cy="250.3" r="2.6" fill="none" stroke="#000" stroke-width="0.8"/>
<line x1="701.6" y1="250.3" x2="710.2" y2="250.3" stroke="#000" stroke-width="0.7"/>
<line x1="705.9" y1="246" x2="705.9" y2="254.6" stroke="#000" stroke-width="0.7"/>
<circle cx="358.8" cy="298.8" r="2.6" fill="none" stroke="#000" stroke-width="0.8"/>
<line x1="354.5" y1="298.8" x2="363.1" y2="298.8" stroke="#000" stroke-width="0.7"/>
<line x1="358.8" y1="294.5" x2="358.8" y2="303.1" stroke="#000" stroke-width="0.7"/>
<text x="420.1" y="133.7" font-size="5.4" textLength="20.5" lengthAdjust="spacingAndGlyphs" xml:space="preserve">SCONCE</text>
<text x="414.9" y="258.6" font-size="5.4" textLength="18.6" lengthAdjust="spacingAndGlyphs" xml:space="preserve">SCONCE</text>
<text x="512.3" y="259.5" font-size="5.4" textLength="19.8" lengthAdjust="spacingAndGlyphs" xml:space="preserve">SCONCE</text>
<text x="619.5" y="259.2" font-size="5.4" textLength="19.9" lengthAdjust="spacingAndGlyphs" xml:space="preserve">SCONCE</text>
<text x="701.9" y="259.2" font-size="5.4" textLength="19.9" lengthAdjust="spacingAndGlyphs" xml:space="preserve">SCONCE</text>
<text x="352" y="307.8" font-size="5.4" textLength="19.3" lengthAdjust="spacingAndGlyphs" xml:space="preserve">SCONCE</text>
<text x="386.3" y="276.9" font-size="5.6" text-anchor="middle" xml:space="preserve">EXIT</text>
<circle cx="386.3" cy="283.6" r="4.9" fill="none" stroke="#000" stroke-width="0.9"/>
<line x1="382.84" y1="280.14" x2="389.76" y2="287.06" stroke="#000" stroke-width="0.7"/>
<line x1="389.76" y1="280.14" x2="382.84" y2="287.06" stroke="#000" stroke-width="0.7"/>
<path d="M386.3 283.6 L382.84 280.14 A4.9 4.9 0 0 1 389.76 280.14 Z" fill="#000" stroke="#000" stroke-width="0.3"/>
<text x="363.3" y="365.7" font-size="5.6" text-anchor="middle" xml:space="preserve">EXIT</text>
<circle cx="363.3" cy="372.4" r="4.9" fill="none" stroke="#000" stroke-width="0.9"/>
<line x1="359.84" y1="368.94" x2="366.76" y2="375.86" stroke="#000" stroke-width="0.7"/>
<line x1="366.76" y1="368.94" x2="359.84" y2="375.86" stroke="#000" stroke-width="0.7"/>
<path d="M363.3 372.4 L359.84 368.94 A4.9 4.9 0 0 1 366.76 368.94 Z" fill="#000" stroke="#000" stroke-width="0.3"/>
<rect x="485.4" y="283.7" width="8.4" height="5.8" fill="none" stroke="#000" stroke-width="0.8"/>
<path d="M485.4 283 L479.6 286 L485.4 286 Z" fill="#fff" stroke="#000" stroke-width="0.8"/>
<path d="M479.6 286 L482.1 281 L485.4 286 Z" fill="#fff" stroke="#000" stroke-width="0.8"/>
<path d="M499.6 286 L497.1 281 L493.8 286 Z" fill="#fff" stroke="#000" stroke-width="0.8"/>
<text x="489" y="280.3" font-size="5" text-anchor="middle" xml:space="preserve">EM</text>
<rect x="750.8" y="283.9" width="8.4" height="5.8" fill="none" stroke="#000" stroke-width="0.8"/>
<path d="M750.8 283.2 L745 286.2 L750.8 286.2 Z" fill="#fff" stroke="#000" stroke-width="0.8"/>
<path d="M745 286.2 L747.5 281.2 L750.8 286.2 Z" fill="#fff" stroke="#000" stroke-width="0.8"/>
<path d="M765 286.2 L762.5 281.2 L759.2 286.2 Z" fill="#fff" stroke="#000" stroke-width="0.8"/>
<text x="754.4" y="280.5" font-size="5" text-anchor="middle" xml:space="preserve">EM</text>
<rect x="426.3" y="372.5" width="8.4" height="5.8" fill="none" stroke="#000" stroke-width="0.8"/>
<path d="M426.3 371.8 L420.5 374.8 L426.3 374.8 Z" fill="#fff" stroke="#000" stroke-width="0.8"/>
<path d="M420.5 374.8 L423 369.8 L426.3 374.8 Z" fill="#fff" stroke="#000" stroke-width="0.8"/>
<path d="M440.5 374.8 L438 369.8 L434.7 374.8 Z" fill="#fff" stroke="#000" stroke-width="0.8"/>
<text x="429.9" y="369.1" font-size="5" text-anchor="middle" xml:space="preserve">EM</text>
<text class="n" x="308.4" y="191.3" font-size="6.6" text-anchor="middle" xml:space="preserve">$</text>
<text class="n" x="419.1" y="239.6" font-size="6.6" text-anchor="middle" textLength="6.8" lengthAdjust="spacingAndGlyphs" xml:space="preserve">$$</text>
<text class="n" x="514.7" y="239.6" font-size="6.6" text-anchor="middle" xml:space="preserve">$</text>
<text class="n" x="616.8" y="239.6" font-size="6.6" text-anchor="middle" xml:space="preserve">$</text>
<text class="n" x="695" y="231.3" font-size="6.6" text-anchor="middle" textLength="6.8" lengthAdjust="spacingAndGlyphs" xml:space="preserve">$$</text>
<text class="n" x="805.2" y="233.1" font-size="6.6" text-anchor="middle" xml:space="preserve">$</text>
<text class="n" x="805.2" y="238.3" font-size="6.6" text-anchor="middle" xml:space="preserve">$</text>
<text class="n" x="805.2" y="243.5" font-size="6.6" text-anchor="middle" xml:space="preserve">$</text>
<text class="n" x="305.8" y="205.9" font-size="6.6" text-anchor="middle" textLength="10.2" lengthAdjust="spacingAndGlyphs" xml:space="preserve">$$$</text>
<text class="n" x="361" y="286.8" font-size="6.6" text-anchor="middle" textLength="10.2" lengthAdjust="spacingAndGlyphs" xml:space="preserve">$$$</text>
<text class="n" x="413.4" y="287.1" font-size="6.6" text-anchor="middle" textLength="6.8" lengthAdjust="spacingAndGlyphs" xml:space="preserve">$$</text>
<text class="n" x="506" y="300.3" font-size="6.6" text-anchor="middle" xml:space="preserve">$</text>
<text class="n" x="505.7" y="354.3" font-size="6.6" text-anchor="middle" xml:space="preserve">$</text>
<text class="n" x="630.4" y="300.3" font-size="6.6" text-anchor="middle" textLength="6.8" lengthAdjust="spacingAndGlyphs" xml:space="preserve">$$</text>
<text class="n" x="719.4" y="300.3" font-size="6.6" text-anchor="middle" xml:space="preserve">$</text>
<text class="n" x="815.4" y="301.8" font-size="8" text-anchor="middle" textLength="6.8" lengthAdjust="spacingAndGlyphs" xml:space="preserve">$$</text>
<text class="n" x="778.1" y="369.3" font-size="6.6" text-anchor="middle" textLength="6.8" lengthAdjust="spacingAndGlyphs" xml:space="preserve">$$</text>
<text x="327" y="137" font-size="4.7" text-anchor="middle" xml:space="preserve">50</text>
<text x="327" y="141.7" font-size="4.7" text-anchor="middle" xml:space="preserve">CFM</text>
<text x="272.6" y="178.2" font-size="4.7" text-anchor="middle" xml:space="preserve">50</text>
<text x="272.6" y="182.9" font-size="4.7" text-anchor="middle" xml:space="preserve">CFM</text>
<text x="275.7" y="219.2" font-size="4.7" text-anchor="middle" xml:space="preserve">50</text>
<text x="275.7" y="223.9" font-size="4.7" text-anchor="middle" xml:space="preserve">CFM</text>
<text x="320.8" y="219.2" font-size="4.7" text-anchor="middle" xml:space="preserve">50</text>
<text x="320.8" y="223.9" font-size="4.7" text-anchor="middle" xml:space="preserve">CFM</text>
<text x="253.4" y="269.5" font-size="4.7" text-anchor="middle" xml:space="preserve">50</text>
<text x="253.4" y="274.2" font-size="4.7" text-anchor="middle" xml:space="preserve">CFM</text>
<text x="396" y="146.9" font-size="4.7" text-anchor="middle" xml:space="preserve">300</text>
<text x="396" y="151.6" font-size="4.7" text-anchor="middle" xml:space="preserve">CFM</text>
<text x="439" y="209.4" font-size="4.7" text-anchor="middle" xml:space="preserve">300</text>
<text x="439" y="214.1" font-size="4.7" text-anchor="middle" xml:space="preserve">CFM</text>
<text x="540" y="147.1" font-size="4.7" text-anchor="middle" xml:space="preserve">300</text>
<text x="540" y="151.8" font-size="4.7" text-anchor="middle" xml:space="preserve">CFM</text>
<text x="548" y="209.5" font-size="4.7" text-anchor="middle" xml:space="preserve">300</text>
<text x="548" y="214.2" font-size="4.7" text-anchor="middle" xml:space="preserve">CFM</text>
<text x="614" y="147" font-size="4.7" text-anchor="middle" xml:space="preserve">300</text>
<text x="614" y="151.7" font-size="4.7" text-anchor="middle" xml:space="preserve">CFM</text>
<text x="657.3" y="209.4" font-size="4.7" text-anchor="middle" xml:space="preserve">300</text>
<text x="657.3" y="214.1" font-size="4.7" text-anchor="middle" xml:space="preserve">CFM</text>
<text x="725.5" y="147" font-size="4.7" text-anchor="middle" xml:space="preserve">300</text>
<text x="725.5" y="151.7" font-size="4.7" text-anchor="middle" xml:space="preserve">CFM</text>
<text x="768.2" y="209.4" font-size="4.7" text-anchor="middle" xml:space="preserve">300</text>
<text x="768.2" y="214.1" font-size="4.7" text-anchor="middle" xml:space="preserve">CFM</text>
<text x="823.8" y="140.3" font-size="4.7" text-anchor="middle" xml:space="preserve">100</text>
<text x="823.8" y="145" font-size="4.7" text-anchor="middle" xml:space="preserve">CFM</text>
<text x="826" y="219.6" font-size="4.7" text-anchor="middle" xml:space="preserve">100</text>
<text x="826" y="224.3" font-size="4.7" text-anchor="middle" xml:space="preserve">CFM</text>
<text x="419.3" y="265.5" font-size="4.7" text-anchor="middle" xml:space="preserve">50</text>
<text x="419.3" y="270.2" font-size="4.7" text-anchor="middle" xml:space="preserve">CFM</text>
<text x="472.6" y="264.9" font-size="4.7" text-anchor="middle" xml:space="preserve">50</text>
<text x="472.6" y="269.6" font-size="4.7" text-anchor="middle" xml:space="preserve">CFM</text>
<text x="495" y="264.9" font-size="4.7" text-anchor="middle" xml:space="preserve">300</text>
<text x="495" y="269.6" font-size="4.7" text-anchor="middle" xml:space="preserve">CFM</text>
<text x="618.3" y="265.5" font-size="4.7" text-anchor="middle" xml:space="preserve">50</text>
<text x="618.3" y="270.2" font-size="4.7" text-anchor="middle" xml:space="preserve">CFM</text>
<text x="693" y="264.6" font-size="4.7" text-anchor="middle" xml:space="preserve">50</text>
<text x="693" y="269.3" font-size="4.7" text-anchor="middle" xml:space="preserve">CFM</text>
<text x="815.8" y="259.5" font-size="4.7" text-anchor="middle" xml:space="preserve">50</text>
<text x="815.8" y="264.2" font-size="4.7" text-anchor="middle" xml:space="preserve">CFM</text>
<text x="315.7" y="355.5" font-size="4.7" text-anchor="middle" xml:space="preserve">200</text>
<text x="315.7" y="360.2" font-size="4.7" text-anchor="middle" xml:space="preserve">CFM</text>
<text x="369.2" y="331.5" font-size="4.7" text-anchor="middle" xml:space="preserve">300</text>
<text x="369.2" y="336.2" font-size="4.7" text-anchor="middle" xml:space="preserve">CFM</text>
<text x="391.2" y="331.5" font-size="4.7" text-anchor="middle" xml:space="preserve">300</text>
<text x="391.2" y="336.2" font-size="4.7" text-anchor="middle" xml:space="preserve">CFM</text>
<text x="470" y="331.5" font-size="4.7" text-anchor="middle" xml:space="preserve">200</text>
<text x="470" y="336.2" font-size="4.7" text-anchor="middle" xml:space="preserve">CFM</text>
<text x="534" y="304.2" font-size="4.7" text-anchor="middle" xml:space="preserve">100</text>
<text x="534" y="308.9" font-size="4.7" text-anchor="middle" xml:space="preserve">CFM</text>
<text x="638.2" y="307.5" font-size="4.7" text-anchor="middle" xml:space="preserve">200</text>
<text x="638.2" y="312.2" font-size="4.7" text-anchor="middle" xml:space="preserve">CFM</text>
<text x="574.2" y="354" font-size="4.7" text-anchor="middle" xml:space="preserve">300</text>
<text x="574.2" y="358.7" font-size="4.7" text-anchor="middle" xml:space="preserve">CFM</text>
<text x="697.4" y="347.1" font-size="4.7" text-anchor="middle" xml:space="preserve">50</text>
<text x="697.4" y="351.8" font-size="4.7" text-anchor="middle" xml:space="preserve">CFM</text>
<text x="747.6" y="317" font-size="4.7" text-anchor="middle" xml:space="preserve">50</text>
<text x="747.6" y="321.7" font-size="4.7" text-anchor="middle" xml:space="preserve">CFM</text>
<text x="782" y="303.5" font-size="4.7" text-anchor="middle" xml:space="preserve">100</text>
<text x="782" y="308.2" font-size="4.7" text-anchor="middle" xml:space="preserve">CFM</text>
<text x="276.6" y="137.2" font-size="5.8" textLength="22" lengthAdjust="spacingAndGlyphs" xml:space="preserve">CONSULT</text>
<text x="276.6" y="144" font-size="5.8" textLength="14" lengthAdjust="spacingAndGlyphs" xml:space="preserve">ROOM</text>
<text x="392.4" y="213.6" font-size="5.8" textLength="21.3" lengthAdjust="spacingAndGlyphs" xml:space="preserve">HYGIENE</text>
<text x="491.9" y="213" font-size="5.8" textLength="37.3" lengthAdjust="spacingAndGlyphs" xml:space="preserve">TREATMENT # 1</text>
<text x="598" y="213" font-size="5.8" textLength="37.9" lengthAdjust="spacingAndGlyphs" xml:space="preserve">TREATMENT # 2</text>
<text x="712.3" y="218.5" font-size="5.8" textLength="38.5" lengthAdjust="spacingAndGlyphs" xml:space="preserve">TREATMENT # 3</text>
<text x="817.2" y="159.6" font-size="5.8" textLength="10.2" lengthAdjust="spacingAndGlyphs" xml:space="preserve">LAB</text>
<text x="273.3" y="308.6" font-size="5.8" textLength="27.6" lengthAdjust="spacingAndGlyphs" xml:space="preserve">RECEPTION</text>
<text x="528.5" y="267.3" font-size="5.8" textLength="27.1" lengthAdjust="spacingAndGlyphs" xml:space="preserve">CORRIDOR</text>
<text x="530.3" y="275.2" font-size="5.8" textLength="26.5" lengthAdjust="spacingAndGlyphs" xml:space="preserve">( 9' CEIL. )</text>
<text x="400.4" y="355.5" font-size="5.8" textLength="37.3" lengthAdjust="spacingAndGlyphs" xml:space="preserve">WAITING ROOM</text>
<text x="566" y="331.5" font-size="5.8" font-style="italic" textLength="18" lengthAdjust="spacingAndGlyphs" xml:space="preserve">OFFICE</text>
<text x="700.1" y="328.2" font-size="5.8" textLength="18.6" lengthAdjust="spacingAndGlyphs" xml:space="preserve">LOUNGE</text>
<text x="778.1" y="345.3" font-size="5.8" textLength="27.1" lengthAdjust="spacingAndGlyphs" xml:space="preserve">TOILET RM</text>
<text x="180.8" y="254.1" font-size="5.8" textLength="50.9" lengthAdjust="spacingAndGlyphs" xml:space="preserve">GYP BD FINISH FOR</text>
<text x="180.8" y="260.7" font-size="5.8" textLength="40.3" lengthAdjust="spacingAndGlyphs" xml:space="preserve">CURVED SOFFIT</text>
<text x="180.8" y="267.6" font-size="5.8" textLength="48.1" lengthAdjust="spacingAndGlyphs" xml:space="preserve">ABOVE RECEPTION</text>
<text x="180.8" y="274.6" font-size="5.8" textLength="22.8" lengthAdjust="spacingAndGlyphs" xml:space="preserve">COUNTER</text>
<text x="180.8" y="282.4" font-size="5.8" textLength="45.5" lengthAdjust="spacingAndGlyphs" xml:space="preserve">( SOFFIT 16" WIDE,</text>
<text x="180.8" y="289.2" font-size="5.8" textLength="42.2" lengthAdjust="spacingAndGlyphs" xml:space="preserve">AND BOTTOM OF</text>
<text x="180.8" y="296.2" font-size="5.8" textLength="52.4" lengthAdjust="spacingAndGlyphs" xml:space="preserve">SOFFIT 8'-0" ABOVE</text>
<text x="180.8" y="303.3" font-size="5.8" textLength="46.4" lengthAdjust="spacingAndGlyphs" xml:space="preserve">FLOOR, TYPICAL )</text>
<path d="M227.6 280.1 L293.3 295.3 L331.2 274" fill="none" stroke="#000" stroke-width="0.8"/>
<line x1="325" y1="277.5" x2="331.2" y2="274" stroke="#000" stroke-width="0.8"/>
<path d="M331.2 274 L328.26 276.92 L327.18 275.01 Z" fill="#000" stroke="#000" stroke-width="0.3"/>
<line x1="233.2" y1="281.4" x2="291.4" y2="325.8" stroke="#000" stroke-width="0.8"/>
<path d="M291.4 325.8 L286.76 323.64 L288.09 321.89 Z" fill="#000" stroke="#000" stroke-width="0.3"/>
<text x="206.9" y="423.3" font-size="5.8" textLength="105.8" lengthAdjust="spacingAndGlyphs" xml:space="preserve">SOFFIT WITH GYP BD FINISH ALONG EAST</text>
<text x="206.9" y="430.3" font-size="5.8" textLength="98.8" lengthAdjust="spacingAndGlyphs" xml:space="preserve">WALL OF WAITING ROOM AS REQUIRED</text>
<text x="206.9" y="437.2" font-size="5.8" textLength="108.6" lengthAdjust="spacingAndGlyphs" xml:space="preserve">TO CONCEAL EXISTING / NEW HVAC DUCTS</text>
<text x="206.9" y="444.2" font-size="5.8" textLength="99.3" lengthAdjust="spacingAndGlyphs" xml:space="preserve">( BOTTOM OF SOFFIT MIN. 8'-0" A.F.F. )</text>
<line x1="311.8" y1="428.5" x2="321" y2="428.5" stroke="#000" stroke-width="0.8"/>
<line x1="321" y1="428.5" x2="307.1" y2="387.8" stroke="#000" stroke-width="0.8"/>
<path d="M307.1 387.8 L310.08 393.12 L308 393.83 Z" fill="#000" stroke="#000" stroke-width="0.3"/>
<text x="380.9" y="415.5" font-size="5.8" textLength="74.9" lengthAdjust="spacingAndGlyphs" xml:space="preserve">EXISTING HVAC DUCT ABOVE,</text>
<text x="380.9" y="422.4" font-size="5.8" textLength="62.9" lengthAdjust="spacingAndGlyphs" xml:space="preserve">THROUGH EXISTING WALL</text>
<text x="380.9" y="429.4" font-size="5.8" textLength="72.1" lengthAdjust="spacingAndGlyphs" xml:space="preserve">( BOT / DUCT ± 8'-2" A.F.F. )</text>
<text x="380.9" y="436.2" font-size="5.8" textLength="42" lengthAdjust="spacingAndGlyphs" xml:space="preserve">DUCT 22" X 10"H</text>
<text x="519.3" y="415.5" font-size="5.8" textLength="75.2" lengthAdjust="spacingAndGlyphs" xml:space="preserve">EXISTING HVAC DUCT ABOVE,</text>
<text x="519.3" y="422.4" font-size="5.8" textLength="62.9" lengthAdjust="spacingAndGlyphs" xml:space="preserve">THROUGH EXISTING WALL</text>
<text x="519.3" y="429.4" font-size="5.8" textLength="72.1" lengthAdjust="spacingAndGlyphs" xml:space="preserve">( BOT / DUCT ± 8'-2" A.F.F. )</text>
<text x="519.3" y="436.2" font-size="5.8" textLength="42.9" lengthAdjust="spacingAndGlyphs" xml:space="preserve">DUCT 30" X 10"H</text>
<line x1="378.3" y1="419.8" x2="364.5" y2="419.8" stroke="#000" stroke-width="0.8"/>
<line x1="364.5" y1="419.8" x2="345.6" y2="392.4" stroke="#000" stroke-width="0.8"/>
<path d="M345.6 392.4 L349.91 396.71 L348.1 397.96 Z" fill="#000" stroke="#000" stroke-width="0.3"/>
<line x1="584.4" y1="419.8" x2="596.4" y2="419.8" stroke="#000" stroke-width="0.8"/>
<line x1="596.4" y1="419.8" x2="619.9" y2="392.8" stroke="#000" stroke-width="0.8"/>
<path d="M619.9 392.8 L616.79 398.05 L615.13 396.6 Z" fill="#000" stroke="#000" stroke-width="0.3"/>
<text x="685.5" y="421.1" font-size="5.8" textLength="58.7" lengthAdjust="spacingAndGlyphs" xml:space="preserve">INSTALL TRANSFER AIR</text>
<text x="685.5" y="427.5" font-size="5.8" textLength="56.8" lengthAdjust="spacingAndGlyphs" xml:space="preserve">GRILLE IN WALL AREA</text>
<text x="685.5" y="434.4" font-size="5.8" textLength="48.1" lengthAdjust="spacingAndGlyphs" xml:space="preserve">ABOVE THIS DOOR</text>
<path d="M731.2 415.5 Q735 402 750 395 L762 388" fill="none" stroke="#000" stroke-width="0.8"/>
<line x1="756" y1="391.5" x2="764" y2="386.5" stroke="#000" stroke-width="0.8"/>
<path d="M764 386.5 L760.34 390.08 L759.18 388.22 Z" fill="#000" stroke="#000" stroke-width="0.3"/>
<line x1="748" y1="383" x2="764" y2="380.5" stroke="#000" stroke-width="0.8"/>
<path d="M764 380.5 L759.23 382.36 L758.89 380.19 Z" fill="#000" stroke="#000" stroke-width="0.3"/>
<text x="685.1" y="446.4" font-size="5.8" textLength="75.2" lengthAdjust="spacingAndGlyphs" xml:space="preserve">EXISTING HVAC DUCT ABOVE,</text>
<text x="685.1" y="453.3" font-size="5.8" textLength="63" lengthAdjust="spacingAndGlyphs" xml:space="preserve">THROUGH EXISTING WALL</text>
<text x="685.1" y="460.4" font-size="5.8" textLength="71.5" lengthAdjust="spacingAndGlyphs" xml:space="preserve">( BOT / DUCT ± 8'-2" A.F.F. )</text>
<text x="685.1" y="467.1" font-size="5.8" textLength="41.6" lengthAdjust="spacingAndGlyphs" xml:space="preserve">DUCT 30" X 10"H</text>
<line x1="743.5" y1="441.5" x2="777.4" y2="392.4" stroke="#000" stroke-width="0.8"/>
<path d="M777.4 392.4 L774.9 397.96 L773.09 396.71 Z" fill="#000" stroke="#000" stroke-width="0.3"/>
<text x="791.7" y="422.9" font-size="5.8" textLength="24.6" lengthAdjust="spacingAndGlyphs" xml:space="preserve">NEW 100A</text>
<text x="791.7" y="429.8" font-size="5.8" textLength="23.7" lengthAdjust="spacingAndGlyphs" xml:space="preserve">ELECTRIC</text>
<text x="791.7" y="436.4" font-size="5.8" textLength="19" lengthAdjust="spacingAndGlyphs" xml:space="preserve">PANELS</text>
<line x1="801.5" y1="415.5" x2="792.8" y2="399.8" stroke="#000" stroke-width="0.8"/>
<path d="M792.8 399.8 L796.67 404.51 L794.75 405.58 Z" fill="#000" stroke="#000" stroke-width="0.3"/>
<line x1="808" y1="415.5" x2="813.5" y2="399.8" stroke="#000" stroke-width="0.8"/>
<path d="M813.5 399.8 L812.55 405.83 L810.48 405.1 Z" fill="#000" stroke="#000" stroke-width="0.3"/>
<text x="881.3" y="356.1" font-size="5.8" textLength="36.9" lengthAdjust="spacingAndGlyphs" xml:space="preserve">EXHAUST FANS</text>
<text x="881.3" y="363" font-size="5.8" textLength="47.2" lengthAdjust="spacingAndGlyphs" xml:space="preserve">( VENT THRU ROOF</text>
<text x="881.3" y="369.6" font-size="5.8" textLength="38.1" lengthAdjust="spacingAndGlyphs" xml:space="preserve">TO EXTERIOR )</text>
<line x1="880.3" y1="359.2" x2="830.4" y2="381.2" stroke="#000" stroke-width="0.8"/>
<path d="M830.4 381.2 L834.53 378.18 L835.42 380.19 Z" fill="#000" stroke="#000" stroke-width="0.3"/>
<line x1="853.9" y1="368.2" x2="822.6" y2="349.6" stroke="#000" stroke-width="0.8"/>
<path d="M822.6 349.6 L827.46 351.21 L826.34 353.1 Z" fill="#000" stroke="#000" stroke-width="0.3"/>
<line x1="447.4" y1="457.7" x2="358.3" y2="457.7" stroke="#000" stroke-width="0.8"/>
<path d="M358.3 457.7 L364.3 456.6 L364.3 458.8 Z" fill="#000" stroke="#000" stroke-width="0.3"/>
<text x="456.9" y="459.7" font-size="5.4" textLength="38.7" lengthAdjust="spacingAndGlyphs" xml:space="preserve">E X I S T I N G</text>
<text x="513.2" y="459.7" font-size="5.4" textLength="44" lengthAdjust="spacingAndGlyphs" xml:space="preserve">C O R R I D O R</text>
<line x1="564.7" y1="457.7" x2="646" y2="457.7" stroke="#000" stroke-width="0.8"/>
<path d="M646 457.7 L640 458.8 L640 456.6 Z" fill="#000" stroke="#000" stroke-width="0.3"/>
<text class="n" x="637.3" y="492.5" font-size="11.4" textLength="236.5" lengthAdjust="spacingAndGlyphs" xml:space="preserve">REFLECTED CEILING AND LIGHTING PLAN</text>
<line x1="632.2" y1="498" x2="897.6" y2="498" stroke="#000" stroke-width="1.3"/>
<text x="850.8" y="506.8" font-size="5" textLength="27" lengthAdjust="spacingAndGlyphs" xml:space="preserve">1/4" = 1'-0"</text>
<circle cx="920.9" cy="497.6" r="16.7" fill="none" stroke="#000" stroke-width="0.9"/>
<line x1="900.2" y1="497.6" x2="943.6" y2="497.6" stroke="#000" stroke-width="0.7"/>
<line x1="920.9" y1="476.9" x2="920.9" y2="518.3" stroke="#000" stroke-width="0.7"/>
<rect x="918.1" y="481.4" width="2.8" height="10.2" fill="#888" stroke="#000" stroke-width="0.5"/>
<rect x="918.1" y="503.6" width="2.8" height="10.2" fill="#888" stroke="#000" stroke-width="0.5"/>
<path d="M920.9 480.9 L937.6 497.6 L920.9 514.3" fill="none" stroke="#000" stroke-width="0.9"/>
<line x1="906.7" y1="487.6" x2="918.1" y2="487.6" stroke="#000" stroke-width="0.8"/>
<line x1="906.7" y1="507.6" x2="918.1" y2="507.6" stroke="#000" stroke-width="0.8"/>
<text class="n" x="916.3" y="492.6" font-size="14" transform="rotate(90 916.3 492.6)" xml:space="preserve">N</text>
<path d="M246.6 840.6 H303.6 A51 54.2 0 0 0 354.6 786.4 C354.6 760 343 731 327.5 730.5 H307 Q301.6 730.5 301.6 737 V744.4 C301.6 753 324.9 758 324.9 786.4 A21.3 24.2 0 0 1 303.6 810.6 H246.6" fill="none" stroke="#000" stroke-width="0.85"/>
<path d="M246.6 827.2 H303.6 A43 40.8 0 0 0 346.6 786.4" fill="none" stroke="#000" stroke-width="0.85"/>
<path d="M246.6 820.2 H303.6 A36 33.8 0 0 0 339.6 786.4 C339.6 765 333 748 322 738" fill="none" stroke="#000" stroke-width="0.8" stroke-dasharray="6.5 2.5"/>
<path d="M246.6 833.2 H303.6 A47.5 46.8 0 0 0 351 786.4 C351 765 345 748 337 738" fill="none" stroke="#000" stroke-width="0.8" stroke-dasharray="6.5 2.5"/>
<path d="M336 760.5 L350.5 755.5" fill="none" stroke="#000" stroke-width="0.8"/>
<path d="M339.8 786.4 L339.8 762.5 L344.5 758" fill="none" stroke="#000" stroke-width="0.85"/>
<path d="M320 742 L326 735.5 L333 740.5" fill="none" stroke="#000" stroke-width="0.8" stroke-dasharray="5 2"/>
<path d="M358.9 632.8 H376 V678.5 Q376 686.5 367.6 686.5 H358.9" fill="none" stroke="#000" stroke-width="0.85" stroke-dasharray="3.2 1.8"/>
<circle cx="367.2" cy="641.3" r="6.3" fill="none" stroke="#000" stroke-width="0.85" stroke-dasharray="3 1.8"/>
<path d="M470.9 637.7 H487.8 V682.8 Q487.8 691.2 479.4 691.2 H470.9" fill="none" stroke="#000" stroke-width="0.85"/>
<circle cx="479.5" cy="645.9" r="6.5" fill="none" stroke="#000" stroke-width="0.9"/>
<circle cx="479.5" cy="645.9" r="5.3" fill="none" stroke="#000" stroke-width="0.7"/>
<circle cx="479.4" cy="658.7" r="2.3" fill="none" stroke="#000" stroke-width="0.8"/>
<circle cx="475.5" cy="658.7" r="0.6" fill="#000" stroke="#000" stroke-width="0.5"/>
<path d="M577.4 637.7 H594.3 V682.8 Q594.3 691.2 585.9 691.2 H577.4" fill="none" stroke="#000" stroke-width="0.85"/>
<circle cx="586" cy="645.9" r="6.5" fill="none" stroke="#000" stroke-width="0.9"/>
<circle cx="586" cy="645.9" r="5.3" fill="none" stroke="#000" stroke-width="0.7"/>
<circle cx="585.9" cy="658.7" r="2.3" fill="none" stroke="#000" stroke-width="0.8"/>
<circle cx="582" cy="658.7" r="0.6" fill="#000" stroke="#000" stroke-width="0.5"/>
<path d="M689.5 637.7 H706.4 V682.8 Q706.4 691.2 698 691.2 H689.5" fill="none" stroke="#000" stroke-width="0.85"/>
<circle cx="698.1" cy="645.9" r="6.5" fill="none" stroke="#000" stroke-width="0.9"/>
<circle cx="698.1" cy="645.9" r="5.3" fill="none" stroke="#000" stroke-width="0.7"/>
<circle cx="698" cy="658.7" r="2.3" fill="none" stroke="#000" stroke-width="0.8"/>
<circle cx="694.1" cy="658.7" r="0.6" fill="#000" stroke="#000" stroke-width="0.5"/>
<rect x="840.6" y="650.9" width="18.7" height="21.3" fill="#fff" stroke="#000" stroke-width="0.85"/>
<rect x="842.8" y="653.3" width="13.5" height="16.6" fill="none" stroke="#000" stroke-width="0.8"/>
<rect x="840.6" y="678.6" width="18.7" height="21.3" fill="#fff" stroke="#000" stroke-width="0.85"/>
<rect x="842.8" y="681" width="13.5" height="16.6" fill="none" stroke="#000" stroke-width="0.8"/>
<rect x="847.6" y="609.1" width="12.9" height="10.6" fill="#fff" stroke="#000" stroke-width="0.85"/>
<circle cx="854.2" cy="614.8" r="1.6" fill="none" stroke="#000" stroke-width="0.7"/>
<rect x="476.2" y="814.5" width="4.8" height="49.6" fill="#fff" stroke="#000" stroke-width="0.85"/>
<rect x="499.1" y="856.6" width="9" height="10.8" fill="#fff" stroke="#000" stroke-width="0.8"/>
<rect x="500.4" y="857.9" width="6.4" height="8.2" fill="none" stroke="#000" stroke-width="0.6"/>
<line x1="503.6" y1="859.3" x2="503.6" y2="864.8" stroke="#000" stroke-width="0.7"/>
<line x1="502" y1="859.3" x2="505.2" y2="859.3" stroke="#000" stroke-width="0.7"/>
<line x1="502" y1="864.8" x2="505.2" y2="864.8" stroke="#000" stroke-width="0.7"/>
<path d="M508.2 842.4 L508.2 872 L546.6 872" fill="none" stroke="#000" stroke-width="0.85"/>
<rect x="746.2" y="794" width="18.7" height="19.8" fill="#fff" stroke="#000" stroke-width="0.85"/>
<rect x="748.2" y="796" width="14.8" height="16" fill="none" stroke="#000" stroke-width="0.7"/>
<rect x="750" y="798.2" width="11.4" height="12" fill="none" stroke="#000" stroke-width="0.8" rx="2"/>
<rect x="742.6" y="819.8" width="22.3" height="18.1" fill="none" stroke="#000" stroke-width="0.85"/>
<ellipse cx="831" cy="836.5" rx="7.2" ry="5.4" fill="#fff" stroke="#000" stroke-width="0.85"/>
<rect x="841.2" y="826.5" width="9.1" height="19.8" fill="none" stroke="#000" stroke-width="0.85"/>
<rect x="834" y="793.4" width="16.9" height="16.3" fill="#fff" stroke="#000" stroke-width="0.9" rx="3"/>
<rect x="836" y="795.4" width="12.4" height="12.4" fill="none" stroke="#000" stroke-width="0.7" rx="3"/>
<rect x="799.2" y="849.7" width="40.8" height="2.1" fill="#999" stroke="#000" stroke-width="0.8"/>
<rect x="848.5" y="814.5" width="1.8" height="31.8" fill="#999" stroke="#000" stroke-width="0.7"/>
<rect x="766.2" y="864.1" width="3.3" height="19.8" fill="none" stroke="#000" stroke-width="0.8"/>
<line x1="767.8" y1="865.3" x2="767.8" y2="883.3" stroke="#000" stroke-width="0.7" stroke-dasharray="3 1.5"/>
<path d="M777.5 900.5 L777.5 875.4 L805.2 875.4 L805.2 900.5" fill="none" stroke="#000" stroke-width="0.85" stroke-dasharray="4 2.2"/>
<rect x="787.5" y="889.4" width="12.9" height="3.8" fill="#fff" stroke="#000" stroke-width="0.9"/>
<rect x="807" y="889.4" width="12.6" height="3.8" fill="#fff" stroke="#000" stroke-width="0.9"/>
<line x1="789" y1="886" x2="800.4" y2="889" stroke="#000" stroke-width="0.8"/>
<line x1="808.5" y1="886" x2="819.6" y2="889" stroke="#000" stroke-width="0.8"/>
<rect x="830.4" y="857.2" width="9" height="9.6" fill="none" stroke="#000" stroke-width="0.8"/>
<rect x="832" y="857.2" width="5.8" height="8" fill="none" stroke="#000" stroke-width="0.6"/>
<rect x="846.8" y="867.4" width="9.6" height="17.5" fill="none" stroke="#000" stroke-width="0.85"/>
<path d="M325.6 900.5 L325.6 875.2 L346.1 875.2 L346.1 900.5" fill="none" stroke="#000" stroke-width="0.85" stroke-dasharray="4 2.2"/>
<path d="M619.5 900.5 L619.5 875.4 L647.2 875.4 L647.2 900.5" fill="none" stroke="#000" stroke-width="0.85" stroke-dasharray="4 2.2"/>
<line x1="247" y1="872.4" x2="480.8" y2="872.4" stroke="#000" stroke-width="0.8" stroke-dasharray="6.5 2.5"/>
<path d="M415.1 641.2 c4 0 5 -3.5 3.6 -7 c-1.2 -3.5 -6 -3.5 -7.2 0 c-1.4 3.5 -0.4 7 3.6 7 z" fill="#fff" stroke="#000" stroke-width="0.8"/>
<rect x="412.9" y="634" width="4.4" height="3.5" fill="none" stroke="#000" stroke-width="0.6" rx="1"/>
<path d="M415.1 656.2 c7 0 13 -3 11.5 -8.5 c-1 -5 -5 -7.5 -6.5 -9.5 c-2 -3 -8 -3 -10 0 c-1.5 2 -5.5 4.5 -6.5 9.5 c-1.5 5.5 4.5 8.5 11.5 8.5 z" fill="#fff" stroke="#000" stroke-width="0.85"/>
<rect x="407.3" y="656" width="15.6" height="40.6" fill="#fff" stroke="#000" stroke-width="0.9" rx="5"/>
<ellipse cx="415.1" cy="655.8" rx="1.8" ry="0.9" fill="#000" stroke="#000" stroke-width="0.5"/>
<rect x="403.3" y="657" width="3" height="13" fill="#999" stroke="#000" stroke-width="0.7"/>
<rect x="423.9" y="657" width="3" height="13" fill="#999" stroke="#000" stroke-width="0.7"/>
<rect x="518.7" y="634.3" width="16.6" height="43" fill="#fff" stroke="#000" stroke-width="0.9" rx="5"/>
<rect x="514.6" y="661.1" width="3.2" height="12.1" fill="#999" stroke="#000" stroke-width="0.7"/>
<rect x="536.2" y="661.1" width="3.2" height="12.1" fill="#999" stroke="#000" stroke-width="0.7"/>
<path d="M527 675.9 c-7 0 -13 3 -11.5 8.5 c1 5 5 7.5 6.5 9.5 c2 3 8 3 10 0 c1.5 -2 5.5 -4.5 6.5 -9.5 c1.5 -5.5 -4.5 -8.5 -11.5 -8.5 z" fill="#fff" stroke="#000" stroke-width="0.85"/>
<ellipse cx="527" cy="676.5" rx="1.8" ry="0.9" fill="#000" stroke="#000" stroke-width="0.5"/>
<path d="M527 690.9 c-4 0 -5 3.5 -3.6 7 c1.2 3.5 6 3.5 7.2 0 c1.4 -3.5 0.4 -7 -3.6 -7 z" fill="#fff" stroke="#000" stroke-width="0.8"/>
<rect x="524.8" y="693.3" width="4.4" height="3.5" fill="none" stroke="#000" stroke-width="0.6" rx="1"/>
<rect x="626.6" y="634.3" width="16.6" height="43" fill="#fff" stroke="#000" stroke-width="0.9" rx="5"/>
<rect x="622.5" y="661.1" width="3.2" height="12.1" fill="#999" stroke="#000" stroke-width="0.7"/>
<rect x="644.1" y="661.1" width="3.2" height="12.1" fill="#999" stroke="#000" stroke-width="0.7"/>
<path d="M634.9 675.9 c-7 0 -13 3 -11.5 8.5 c1 5 5 7.5 6.5 9.5 c2 3 8 3 10 0 c1.5 -2 5.5 -4.5 6.5 -9.5 c1.5 -5.5 -4.5 -8.5 -11.5 -8.5 z" fill="#fff" stroke="#000" stroke-width="0.85"/>
<ellipse cx="634.9" cy="676.5" rx="1.8" ry="0.9" fill="#000" stroke="#000" stroke-width="0.5"/>
<path d="M634.9 690.9 c-4 0 -5 3.5 -3.6 7 c1.2 3.5 6 3.5 7.2 0 c1.4 -3.5 0.4 -7 -3.6 -7 z" fill="#fff" stroke="#000" stroke-width="0.8"/>
<rect x="632.7" y="693.3" width="4.4" height="3.5" fill="none" stroke="#000" stroke-width="0.6" rx="1"/>
<rect x="738.6" y="634.3" width="16.6" height="43" fill="#fff" stroke="#000" stroke-width="0.9" rx="5"/>
<rect x="734.5" y="661.1" width="3.2" height="12.1" fill="#999" stroke="#000" stroke-width="0.7"/>
<rect x="756.1" y="661.1" width="3.2" height="12.1" fill="#999" stroke="#000" stroke-width="0.7"/>
<path d="M746.9 675.9 c-7 0 -13 3 -11.5 8.5 c1 5 5 7.5 6.5 9.5 c2 3 8 3 10 0 c1.5 -2 5.5 -4.5 6.5 -9.5 c1.5 -5.5 -4.5 -8.5 -11.5 -8.5 z" fill="#fff" stroke="#000" stroke-width="0.85"/>
<ellipse cx="746.9" cy="676.5" rx="1.8" ry="0.9" fill="#000" stroke="#000" stroke-width="0.5"/>
<path d="M746.9 690.9 c-4 0 -5 3.5 -3.6 7 c1.2 3.5 6 3.5 7.2 0 c1.4 -3.5 0.4 -7 -3.6 -7 z" fill="#fff" stroke="#000" stroke-width="0.8"/>
<rect x="744.7" y="693.3" width="4.4" height="3.5" fill="none" stroke="#000" stroke-width="0.6" rx="1"/>
<path d="M461.1 665.3 Q424.3 676.3 421.1 740.3" fill="none" stroke="#000" stroke-width="0.8" stroke-dasharray="7 1.8 1.4 1.8"/>
<path d="M567.6 665.3 Q532 676.3 528.8 740.3" fill="none" stroke="#000" stroke-width="0.8" stroke-dasharray="7 1.8 1.4 1.8"/>
<path d="M678.8 665.8 Q641.6 676.8 638.4 740.3" fill="none" stroke="#000" stroke-width="0.8" stroke-dasharray="7 1.8 1.4 1.8"/>
<path d="M789.7 665.8 Q714.3 676.8 711.1 740.3" fill="none" stroke="#000" stroke-width="0.8" stroke-dasharray="7 1.8 1.4 1.8"/>
<circle cx="249.8" cy="649.7" r="2.6" fill="#888" stroke="#000" stroke-width="0.8"/>
<line x1="245.3" y1="648.8" x2="254.3" y2="648.8" stroke="#000" stroke-width="0.8"/>
<line x1="245.3" y1="650.6" x2="254.3" y2="650.6" stroke="#000" stroke-width="0.8"/>
<circle cx="351" cy="647.8" r="2.6" fill="#888" stroke="#000" stroke-width="0.8"/>
<line x1="346.5" y1="646.9" x2="355.5" y2="646.9" stroke="#000" stroke-width="0.8"/>
<line x1="346.5" y1="648.7" x2="355.5" y2="648.7" stroke="#000" stroke-width="0.8"/>
<path d="M272 688.1 L268.55 680.71 L275.45 680.71 Z" fill="#fff" stroke="#000" stroke-width="0.8"/>
<circle cx="282.2" cy="682.8" r="2.5" fill="none" stroke="#000" stroke-width="0.8"/>
<line x1="283.1" y1="678.5" x2="283.1" y2="687.1" stroke="#000" stroke-width="0.7"/>
<line x1="281.3" y1="678.5" x2="281.3" y2="687.1" stroke="#000" stroke-width="0.7"/>
<circle cx="285.9" cy="695.9" r="2.5" fill="none" stroke="#000" stroke-width="0.8"/>
<line x1="286.8" y1="691.6" x2="286.8" y2="700.2" stroke="#000" stroke-width="0.7"/>
<line x1="285" y1="691.6" x2="285" y2="700.2" stroke="#000" stroke-width="0.7"/>
<circle cx="377.4" cy="702.4" r="2.5" fill="none" stroke="#000" stroke-width="0.8"/>
<line x1="375" y1="698.72" x2="381.08" y2="704.8" stroke="#000" stroke-width="0.7"/>
<line x1="373.72" y1="700" x2="379.8" y2="706.08" stroke="#000" stroke-width="0.7"/>
<circle cx="388.5" cy="712.9" r="2.5" fill="none" stroke="#000" stroke-width="0.8"/>
<line x1="386.1" y1="709.22" x2="392.18" y2="715.3" stroke="#000" stroke-width="0.7"/>
<line x1="384.82" y1="710.5" x2="390.9" y2="716.58" stroke="#000" stroke-width="0.7"/>
<path d="M386.61 704.59 L383.97 711.83 L379.37 707.23 Z" fill="#000" stroke="#000" stroke-width="0.8"/>
<circle cx="374.1" cy="717.5" r="2.5" fill="none" stroke="#000" stroke-width="0.8"/>
<line x1="371.7" y1="713.82" x2="377.78" y2="719.9" stroke="#000" stroke-width="0.7"/>
<line x1="370.42" y1="715.1" x2="376.5" y2="721.18" stroke="#000" stroke-width="0.7"/>
<circle cx="337.7" cy="770.3" r="2.5" fill="none" stroke="#000" stroke-width="0.8"/>
<line x1="333.4" y1="769.4" x2="342" y2="769.4" stroke="#000" stroke-width="0.7"/>
<line x1="333.4" y1="771.2" x2="342" y2="771.2" stroke="#000" stroke-width="0.7"/>
<circle cx="327.5" cy="812.3" r="2.6" fill="#888" stroke="#000" stroke-width="0.8"/>
<line x1="324.95" y1="808.48" x2="331.32" y2="814.85" stroke="#000" stroke-width="0.8"/>
<line x1="323.68" y1="809.75" x2="330.05" y2="816.12" stroke="#000" stroke-width="0.8"/>
<circle cx="281.2" cy="824.3" r="2.5" fill="none" stroke="#000" stroke-width="0.8"/>
<line x1="282.1" y1="820" x2="282.1" y2="828.6" stroke="#000" stroke-width="0.7"/>
<line x1="280.3" y1="820" x2="280.3" y2="828.6" stroke="#000" stroke-width="0.7"/>
<path d="M267.4 828.3 L263.95 820.91 L270.85 820.91 Z" fill="#fff" stroke="#000" stroke-width="0.8"/>
<path d="M339.13 802.34 L331 803.05 L333.36 796.57 Z" fill="#fff" stroke="#000" stroke-width="0.8"/>
<circle cx="249.8" cy="865.2" r="2.5" fill="none" stroke="#000" stroke-width="0.8"/>
<line x1="245.5" y1="864.3" x2="254.1" y2="864.3" stroke="#000" stroke-width="0.7"/>
<line x1="245.5" y1="866.1" x2="254.1" y2="866.1" stroke="#000" stroke-width="0.7"/>
<path d="M523.3 611.73 L527.03 619.73 L519.57 619.73 Z" fill="#000" stroke="#000" stroke-width="0.8"/>
<circle cx="515" cy="618.6" r="2.5" fill="none" stroke="#000" stroke-width="0.8"/>
<line x1="515.9" y1="614.3" x2="515.9" y2="622.9" stroke="#000" stroke-width="0.7"/>
<line x1="514.1" y1="614.3" x2="514.1" y2="622.9" stroke="#000" stroke-width="0.7"/>
<path d="M639.8 611.73 L643.53 619.73 L636.07 619.73 Z" fill="#000" stroke="#000" stroke-width="0.8"/>
<circle cx="631.2" cy="618.6" r="2.5" fill="none" stroke="#000" stroke-width="0.8"/>
<line x1="632.1" y1="614.3" x2="632.1" y2="622.9" stroke="#000" stroke-width="0.7"/>
<line x1="630.3" y1="614.3" x2="630.3" y2="622.9" stroke="#000" stroke-width="0.7"/>
<path d="M758 611.73 L761.73 619.73 L754.27 619.73 Z" fill="#000" stroke="#000" stroke-width="0.8"/>
<circle cx="749.1" cy="618.6" r="2.5" fill="none" stroke="#000" stroke-width="0.8"/>
<line x1="750" y1="614.3" x2="750" y2="622.9" stroke="#000" stroke-width="0.7"/>
<line x1="748.2" y1="614.3" x2="748.2" y2="622.9" stroke="#000" stroke-width="0.7"/>
<circle cx="480.8" cy="623.8" r="2.5" fill="none" stroke="#000" stroke-width="0.8"/>
<line x1="476.5" y1="622.9" x2="485.1" y2="622.9" stroke="#000" stroke-width="0.7"/>
<line x1="476.5" y1="624.7" x2="485.1" y2="624.7" stroke="#000" stroke-width="0.7"/>
<circle cx="413.8" cy="695.9" r="2.6" fill="#888" stroke="#000" stroke-width="0.8"/>
<line x1="414.7" y1="691.4" x2="414.7" y2="700.4" stroke="#000" stroke-width="0.8"/>
<line x1="412.9" y1="691.4" x2="412.9" y2="700.4" stroke="#000" stroke-width="0.8"/>
<circle cx="527" cy="636.2" r="2.6" fill="#888" stroke="#000" stroke-width="0.8"/>
<line x1="527.9" y1="631.7" x2="527.9" y2="640.7" stroke="#000" stroke-width="0.8"/>
<line x1="526.1" y1="631.7" x2="526.1" y2="640.7" stroke="#000" stroke-width="0.8"/>
<circle cx="634.9" cy="636.2" r="2.6" fill="#888" stroke="#000" stroke-width="0.8"/>
<line x1="635.8" y1="631.7" x2="635.8" y2="640.7" stroke="#000" stroke-width="0.8"/>
<line x1="634" y1="631.7" x2="634" y2="640.7" stroke="#000" stroke-width="0.8"/>
<circle cx="747.8" cy="636.2" r="2.6" fill="#888" stroke="#000" stroke-width="0.8"/>
<line x1="748.7" y1="631.7" x2="748.7" y2="640.7" stroke="#000" stroke-width="0.8"/>
<line x1="746.9" y1="631.7" x2="746.9" y2="640.7" stroke="#000" stroke-width="0.8"/>
<circle cx="808.9" cy="620.5" r="2.6" fill="#888" stroke="#000" stroke-width="0.8"/>
<line x1="804.4" y1="619.6" x2="813.4" y2="619.6" stroke="#000" stroke-width="0.8"/>
<line x1="804.4" y1="621.4" x2="813.4" y2="621.4" stroke="#000" stroke-width="0.8"/>
<text x="448.8" y="658.9" font-size="5.2" font-style="italic" textLength="14.6" lengthAdjust="spacingAndGlyphs" xml:space="preserve">X-RAY</text>
<circle cx="463.6" cy="664.5" r="2.6" fill="#fff" stroke="#000" stroke-width="0.8"/>
<text class="n" x="463.6" y="666.2" font-size="4.2" text-anchor="middle" xml:space="preserve">J</text>
<circle cx="463" cy="674.3" r="2.5" fill="none" stroke="#000" stroke-width="0.8"/>
<line x1="458.7" y1="673.4" x2="467.3" y2="673.4" stroke="#000" stroke-width="0.7"/>
<line x1="458.7" y1="675.2" x2="467.3" y2="675.2" stroke="#000" stroke-width="0.7"/>
<path d="M468.1 688 L460.71 691.45 L460.71 684.55 Z" fill="#fff" stroke="#000" stroke-width="0.8"/>
<text x="555.7" y="658.9" font-size="5.2" font-style="italic" textLength="14.6" lengthAdjust="spacingAndGlyphs" xml:space="preserve">X-RAY</text>
<circle cx="570.1" cy="664.5" r="2.6" fill="#fff" stroke="#000" stroke-width="0.8"/>
<text class="n" x="570.1" y="666.2" font-size="4.2" text-anchor="middle" xml:space="preserve">J</text>
<circle cx="569.5" cy="674.3" r="2.5" fill="none" stroke="#000" stroke-width="0.8"/>
<line x1="565.2" y1="673.4" x2="573.8" y2="673.4" stroke="#000" stroke-width="0.7"/>
<line x1="565.2" y1="675.2" x2="573.8" y2="675.2" stroke="#000" stroke-width="0.7"/>
<path d="M574.6 688 L567.21 691.45 L567.21 684.55 Z" fill="#fff" stroke="#000" stroke-width="0.8"/>
<text x="668.3" y="658.9" font-size="5.2" font-style="italic" textLength="14.6" lengthAdjust="spacingAndGlyphs" xml:space="preserve">X-RAY</text>
<circle cx="681.3" cy="664.5" r="2.6" fill="#fff" stroke="#000" stroke-width="0.8"/>
<text class="n" x="681.3" y="666.2" font-size="4.2" text-anchor="middle" xml:space="preserve">J</text>
<circle cx="680.7" cy="674.3" r="2.5" fill="none" stroke="#000" stroke-width="0.8"/>
<line x1="676.4" y1="673.4" x2="685" y2="673.4" stroke="#000" stroke-width="0.7"/>
<line x1="676.4" y1="675.2" x2="685" y2="675.2" stroke="#000" stroke-width="0.7"/>
<path d="M685.8 688 L678.41 691.45 L678.41 684.55 Z" fill="#fff" stroke="#000" stroke-width="0.8"/>
<text x="779.3" y="658.9" font-size="5.2" font-style="italic" textLength="14.6" lengthAdjust="spacingAndGlyphs" xml:space="preserve">X-RAY</text>
<circle cx="792.2" cy="664.5" r="2.6" fill="#fff" stroke="#000" stroke-width="0.8"/>
<text class="n" x="792.2" y="666.2" font-size="4.2" text-anchor="middle" xml:space="preserve">J</text>
<circle cx="791.6" cy="674.3" r="2.5" fill="none" stroke="#000" stroke-width="0.8"/>
<line x1="787.3" y1="673.4" x2="795.9" y2="673.4" stroke="#000" stroke-width="0.7"/>
<line x1="787.3" y1="675.2" x2="795.9" y2="675.2" stroke="#000" stroke-width="0.7"/>
<path d="M796.7 688 L789.31 691.45 L789.31 684.55 Z" fill="#fff" stroke="#000" stroke-width="0.8"/>
<circle cx="803.9" cy="672.8" r="2.5" fill="none" stroke="#000" stroke-width="0.8"/>
<line x1="799.6" y1="671.9" x2="808.2" y2="671.9" stroke="#000" stroke-width="0.7"/>
<line x1="799.6" y1="673.7" x2="808.2" y2="673.7" stroke="#000" stroke-width="0.7"/>
<path d="M799.3 711.1 L806.69 707.65 L806.69 714.55 Z" fill="#fff" stroke="#000" stroke-width="0.8"/>
<circle cx="474.7" cy="698.1" r="2.5" fill="none" stroke="#000" stroke-width="0.8"/>
<line x1="470.4" y1="697.2" x2="479" y2="697.2" stroke="#000" stroke-width="0.7"/>
<line x1="470.4" y1="699" x2="479" y2="699" stroke="#000" stroke-width="0.7"/>
<circle cx="581.6" cy="698.7" r="2.5" fill="none" stroke="#000" stroke-width="0.8"/>
<line x1="577.3" y1="697.8" x2="585.9" y2="697.8" stroke="#000" stroke-width="0.7"/>
<line x1="577.3" y1="699.6" x2="585.9" y2="699.6" stroke="#000" stroke-width="0.7"/>
<circle cx="694.2" cy="697.6" r="2.5" fill="none" stroke="#000" stroke-width="0.8"/>
<line x1="689.9" y1="696.7" x2="698.5" y2="696.7" stroke="#000" stroke-width="0.7"/>
<line x1="689.9" y1="698.5" x2="698.5" y2="698.5" stroke="#000" stroke-width="0.7"/>
<circle cx="416.6" cy="730.5" r="2.6" fill="#888" stroke="#000" stroke-width="0.8"/>
<line x1="417.5" y1="726" x2="417.5" y2="735" stroke="#000" stroke-width="0.8"/>
<line x1="415.7" y1="726" x2="415.7" y2="735" stroke="#000" stroke-width="0.8"/>
<circle cx="520.9" cy="730.5" r="2.6" fill="#888" stroke="#000" stroke-width="0.8"/>
<line x1="521.8" y1="726" x2="521.8" y2="735" stroke="#000" stroke-width="0.8"/>
<line x1="520" y1="726" x2="520" y2="735" stroke="#000" stroke-width="0.8"/>
<circle cx="630.6" cy="730.5" r="2.6" fill="#888" stroke="#000" stroke-width="0.8"/>
<line x1="631.5" y1="726" x2="631.5" y2="735" stroke="#000" stroke-width="0.8"/>
<line x1="629.7" y1="726" x2="629.7" y2="735" stroke="#000" stroke-width="0.8"/>
<circle cx="704.4" cy="730.5" r="2.6" fill="#888" stroke="#000" stroke-width="0.8"/>
<line x1="705.3" y1="726" x2="705.3" y2="735" stroke="#000" stroke-width="0.8"/>
<line x1="703.5" y1="726" x2="703.5" y2="735" stroke="#000" stroke-width="0.8"/>
<circle cx="420.3" cy="742.9" r="2.6" fill="#fff" stroke="#000" stroke-width="0.8"/>
<text class="n" x="420.3" y="744.6" font-size="4.2" text-anchor="middle" xml:space="preserve">J</text>
<text x="405" y="751.4" font-size="5.2" font-style="italic" textLength="14.8" lengthAdjust="spacingAndGlyphs" xml:space="preserve">X-RAY</text>
<text x="405" y="757.7" font-size="5.2" font-style="italic" textLength="20.3" lengthAdjust="spacingAndGlyphs" xml:space="preserve">CONTROL</text>
<circle cx="528" cy="742.9" r="2.6" fill="#fff" stroke="#000" stroke-width="0.8"/>
<text class="n" x="528" y="744.6" font-size="4.2" text-anchor="middle" xml:space="preserve">J</text>
<text x="514.6" y="751.4" font-size="5.2" font-style="italic" textLength="14.8" lengthAdjust="spacingAndGlyphs" xml:space="preserve">X-RAY</text>
<text x="514.6" y="757.7" font-size="5.2" font-style="italic" textLength="20.3" lengthAdjust="spacingAndGlyphs" xml:space="preserve">CONTROL</text>
<circle cx="637.6" cy="742.9" r="2.6" fill="#fff" stroke="#000" stroke-width="0.8"/>
<text class="n" x="637.6" y="744.6" font-size="4.2" text-anchor="middle" xml:space="preserve">J</text>
<text x="622.8" y="751.4" font-size="5.2" font-style="italic" textLength="14.8" lengthAdjust="spacingAndGlyphs" xml:space="preserve">X-RAY</text>
<text x="622.8" y="757.7" font-size="5.2" font-style="italic" textLength="20.3" lengthAdjust="spacingAndGlyphs" xml:space="preserve">CONTROL</text>
<circle cx="710.3" cy="742.9" r="2.6" fill="#fff" stroke="#000" stroke-width="0.8"/>
<text class="n" x="710.3" y="744.6" font-size="4.2" text-anchor="middle" xml:space="preserve">J</text>
<text x="696" y="751.4" font-size="5.2" font-style="italic" textLength="14.8" lengthAdjust="spacingAndGlyphs" xml:space="preserve">X-RAY</text>
<text x="696" y="757.7" font-size="5.2" font-style="italic" textLength="20.3" lengthAdjust="spacingAndGlyphs" xml:space="preserve">CONTROL</text>
<circle cx="443.8" cy="780.5" r="2.6" fill="#888" stroke="#000" stroke-width="0.8"/>
<line x1="444.7" y1="776" x2="444.7" y2="785" stroke="#000" stroke-width="0.8"/>
<line x1="442.9" y1="776" x2="442.9" y2="785" stroke="#000" stroke-width="0.8"/>
<circle cx="593.1" cy="779.9" r="2.6" fill="#888" stroke="#000" stroke-width="0.8"/>
<line x1="594" y1="775.4" x2="594" y2="784.4" stroke="#000" stroke-width="0.8"/>
<line x1="592.2" y1="775.4" x2="592.2" y2="784.4" stroke="#000" stroke-width="0.8"/>
<circle cx="599.2" cy="792.5" r="2.6" fill="#888" stroke="#000" stroke-width="0.8"/>
<line x1="600.1" y1="788" x2="600.1" y2="797" stroke="#000" stroke-width="0.8"/>
<line x1="598.3" y1="788" x2="598.3" y2="797" stroke="#000" stroke-width="0.8"/>
<circle cx="490" cy="813.7" r="2.6" fill="#888" stroke="#000" stroke-width="0.8"/>
<line x1="490.9" y1="809.2" x2="490.9" y2="818.2" stroke="#000" stroke-width="0.8"/>
<line x1="489.1" y1="809.2" x2="489.1" y2="818.2" stroke="#000" stroke-width="0.8"/>
<circle cx="542.8" cy="813.7" r="2.6" fill="#888" stroke="#000" stroke-width="0.8"/>
<line x1="543.7" y1="809.2" x2="543.7" y2="818.2" stroke="#000" stroke-width="0.8"/>
<line x1="541.9" y1="809.2" x2="541.9" y2="818.2" stroke="#000" stroke-width="0.8"/>
<circle cx="753.4" cy="780.5" r="2.6" fill="#888" stroke="#000" stroke-width="0.8"/>
<line x1="754.3" y1="776" x2="754.3" y2="785" stroke="#000" stroke-width="0.8"/>
<line x1="752.5" y1="776" x2="752.5" y2="785" stroke="#000" stroke-width="0.8"/>
<circle cx="477.5" cy="796.2" r="2.5" fill="none" stroke="#000" stroke-width="0.8"/>
<line x1="473.2" y1="795.3" x2="481.8" y2="795.3" stroke="#000" stroke-width="0.7"/>
<line x1="473.2" y1="797.1" x2="481.8" y2="797.1" stroke="#000" stroke-width="0.7"/>
<circle cx="477.5" cy="828.5" r="2.6" fill="#888" stroke="#000" stroke-width="0.8"/>
<line x1="473" y1="827.6" x2="482" y2="827.6" stroke="#000" stroke-width="0.8"/>
<line x1="473" y1="829.4" x2="482" y2="829.4" stroke="#000" stroke-width="0.8"/>
<path d="M482.5 837.8 L475.11 841.25 L475.11 834.35 Z" fill="#000" stroke="#000" stroke-width="0.8"/>
<circle cx="477.5" cy="856.3" r="2.5" fill="none" stroke="#000" stroke-width="0.8"/>
<line x1="473.2" y1="855.4" x2="481.8" y2="855.4" stroke="#000" stroke-width="0.7"/>
<line x1="473.2" y1="857.2" x2="481.8" y2="857.2" stroke="#000" stroke-width="0.7"/>
<circle cx="490.4" cy="853.1" r="2.5" fill="none" stroke="#000" stroke-width="0.8"/>
<line x1="486.1" y1="852.2" x2="494.7" y2="852.2" stroke="#000" stroke-width="0.7"/>
<line x1="486.1" y1="854" x2="494.7" y2="854" stroke="#000" stroke-width="0.7"/>
<circle cx="555.3" cy="840.2" r="2.5" fill="none" stroke="#000" stroke-width="0.8"/>
<line x1="551" y1="839.3" x2="559.6" y2="839.3" stroke="#000" stroke-width="0.7"/>
<line x1="551" y1="841.1" x2="559.6" y2="841.1" stroke="#000" stroke-width="0.7"/>
<circle cx="477.1" cy="883.6" r="2.5" fill="none" stroke="#000" stroke-width="0.8"/>
<line x1="472.8" y1="882.7" x2="481.4" y2="882.7" stroke="#000" stroke-width="0.7"/>
<line x1="472.8" y1="884.5" x2="481.4" y2="884.5" stroke="#000" stroke-width="0.7"/>
<circle cx="512.8" cy="885.9" r="2.5" fill="none" stroke="#000" stroke-width="0.8"/>
<line x1="513.7" y1="881.6" x2="513.7" y2="890.2" stroke="#000" stroke-width="0.7"/>
<line x1="511.9" y1="881.6" x2="511.9" y2="890.2" stroke="#000" stroke-width="0.7"/>
<circle cx="537.2" cy="885.9" r="2.5" fill="none" stroke="#000" stroke-width="0.8"/>
<line x1="538.1" y1="881.6" x2="538.1" y2="890.2" stroke="#000" stroke-width="0.7"/>
<line x1="536.3" y1="881.6" x2="536.3" y2="890.2" stroke="#000" stroke-width="0.7"/>
<circle cx="583.4" cy="885.9" r="2.6" fill="#888" stroke="#000" stroke-width="0.8"/>
<line x1="584.3" y1="881.4" x2="584.3" y2="890.4" stroke="#000" stroke-width="0.8"/>
<line x1="582.5" y1="881.4" x2="582.5" y2="890.4" stroke="#000" stroke-width="0.8"/>
<circle cx="707.7" cy="885.9" r="2.5" fill="none" stroke="#000" stroke-width="0.8"/>
<line x1="708.6" y1="881.6" x2="708.6" y2="890.2" stroke="#000" stroke-width="0.7"/>
<line x1="706.8" y1="881.6" x2="706.8" y2="890.2" stroke="#000" stroke-width="0.7"/>
<circle cx="668.9" cy="829.8" r="2.6" fill="#888" stroke="#000" stroke-width="0.8"/>
<line x1="664.4" y1="828.9" x2="673.4" y2="828.9" stroke="#000" stroke-width="0.8"/>
<line x1="664.4" y1="830.7" x2="673.4" y2="830.7" stroke="#000" stroke-width="0.8"/>
<circle cx="668.9" cy="838.7" r="2.6" fill="#888" stroke="#000" stroke-width="0.8"/>
<line x1="664.4" y1="837.8" x2="673.4" y2="837.8" stroke="#000" stroke-width="0.8"/>
<line x1="664.4" y1="839.6" x2="673.4" y2="839.6" stroke="#000" stroke-width="0.8"/>
<path d="M674.1 847 L666.71 850.45 L666.71 843.55 Z" fill="#000" stroke="#000" stroke-width="0.8"/>
<circle cx="682.2" cy="838.7" r="2.6" fill="#888" stroke="#000" stroke-width="0.8"/>
<line x1="677.7" y1="837.8" x2="686.7" y2="837.8" stroke="#000" stroke-width="0.8"/>
<line x1="677.7" y1="839.6" x2="686.7" y2="839.6" stroke="#000" stroke-width="0.8"/>
<path d="M676.1 849.8 L683.49 846.35 L683.49 853.25 Z" fill="#fff" stroke="#000" stroke-width="0.8"/>
<path d="M549.1 879 L556.49 875.55 L556.49 882.45 Z" fill="#fff" stroke="#000" stroke-width="0.8"/>
<circle cx="761.7" cy="830.9" r="2.6" fill="#888" stroke="#000" stroke-width="0.8"/>
<line x1="757.2" y1="830" x2="766.2" y2="830" stroke="#000" stroke-width="0.8"/>
<line x1="757.2" y1="831.8" x2="766.2" y2="831.8" stroke="#000" stroke-width="0.8"/>
<circle cx="857" cy="631" r="2.5" fill="none" stroke="#000" stroke-width="0.8"/>
<line x1="852.7" y1="630.1" x2="861.3" y2="630.1" stroke="#000" stroke-width="0.7"/>
<line x1="852.7" y1="631.9" x2="861.3" y2="631.9" stroke="#000" stroke-width="0.7"/>
<circle cx="857.5" cy="643.9" r="2.6" fill="#888" stroke="#000" stroke-width="0.8"/>
<line x1="853" y1="643" x2="862" y2="643" stroke="#000" stroke-width="0.8"/>
<line x1="853" y1="644.8" x2="862" y2="644.8" stroke="#000" stroke-width="0.8"/>
<circle cx="857" cy="716.1" r="2.5" fill="none" stroke="#000" stroke-width="0.8"/>
<line x1="852.7" y1="715.2" x2="861.3" y2="715.2" stroke="#000" stroke-width="0.7"/>
<line x1="852.7" y1="717" x2="861.3" y2="717" stroke="#000" stroke-width="0.7"/>
<circle cx="845.5" cy="732" r="2.6" fill="#fff" stroke="#000" stroke-width="0.8"/>
<text class="n" x="845.5" y="733.7" font-size="4.2" text-anchor="middle" xml:space="preserve">J</text>
<circle cx="827.9" cy="791.9" r="2.5" fill="none" stroke="#000" stroke-width="0.8"/>
<line x1="828.8" y1="787.6" x2="828.8" y2="796.2" stroke="#000" stroke-width="0.7"/>
<line x1="827" y1="787.6" x2="827" y2="796.2" stroke="#000" stroke-width="0.7"/>
<circle cx="778.7" cy="848.5" r="2.5" fill="none" stroke="#000" stroke-width="0.8"/>
<line x1="779.6" y1="844.2" x2="779.6" y2="852.8" stroke="#000" stroke-width="0.7"/>
<line x1="777.8" y1="844.2" x2="777.8" y2="852.8" stroke="#000" stroke-width="0.7"/>
<circle cx="791.3" cy="860.5" r="2.5" fill="none" stroke="#000" stroke-width="0.8"/>
<line x1="792.2" y1="856.2" x2="792.2" y2="864.8" stroke="#000" stroke-width="0.7"/>
<line x1="790.4" y1="856.2" x2="790.4" y2="864.8" stroke="#000" stroke-width="0.7"/>
<text x="282.2" y="634.3" font-size="5.8" font-style="italic" textLength="22.2" lengthAdjust="spacingAndGlyphs" xml:space="preserve">CONSULT</text>
<text x="282.2" y="641.2" font-size="5.8" textLength="15" lengthAdjust="spacingAndGlyphs" xml:space="preserve">ROOM</text>
<text x="407.4" y="711.1" font-size="5.8" textLength="20.3" lengthAdjust="spacingAndGlyphs" xml:space="preserve">HYGIENE</text>
<text x="507.2" y="710.5" font-size="5.8" textLength="37" lengthAdjust="spacingAndGlyphs" xml:space="preserve">TREATMENT # 1</text>
<text x="610.3" y="710.5" font-size="5.8" textLength="38.2" lengthAdjust="spacingAndGlyphs" xml:space="preserve">TREATMENT # 2</text>
<text x="723.8" y="711.1" font-size="5.8" textLength="38.8" lengthAdjust="spacingAndGlyphs" xml:space="preserve">TREATMENT # 3</text>
<text x="817.6" y="655.6" font-size="5.8" textLength="10.3" lengthAdjust="spacingAndGlyphs" xml:space="preserve">LAB</text>
<text x="272.9" y="763.8" font-size="5.8" textLength="28.7" lengthAdjust="spacingAndGlyphs" xml:space="preserve">RECEPTION</text>
<text x="362.6" y="833.5" font-size="5.8" textLength="38.1" lengthAdjust="spacingAndGlyphs" xml:space="preserve">WAITING ROOM</text>
<text x="597.9" y="828.5" font-size="5.8" font-style="italic" textLength="17.9" lengthAdjust="spacingAndGlyphs" xml:space="preserve">OFFICE</text>
<text x="706.2" y="838.7" font-size="5.8" textLength="19.5" lengthAdjust="spacingAndGlyphs" xml:space="preserve">LOUNGE</text>
<text x="783" y="829.1" font-size="5.8" textLength="26.4" lengthAdjust="spacingAndGlyphs" xml:space="preserve">TOILET RM</text>
<text x="841.2" y="641.7" font-size="5.2" textLength="8.5" lengthAdjust="spacingAndGlyphs" xml:space="preserve">GFI</text>
<text x="841.2" y="646.9" font-size="5.2" textLength="10.2" lengthAdjust="spacingAndGlyphs" xml:space="preserve">+44"</text>
<text x="841.2" y="716.6" font-size="5.2" textLength="8.5" lengthAdjust="spacingAndGlyphs" xml:space="preserve">GFI</text>
<text x="841.2" y="722.2" font-size="5.2" textLength="10.2" lengthAdjust="spacingAndGlyphs" xml:space="preserve">+44"</text>
<text x="818.7" y="800.8" font-size="5.2" textLength="8.1" lengthAdjust="spacingAndGlyphs" xml:space="preserve">GFI</text>
<text x="775.6" y="842.8" font-size="5.2" textLength="7.4" lengthAdjust="spacingAndGlyphs" xml:space="preserve">GFI</text>
<text x="381.5" y="623.2" font-size="5.8" textLength="42" lengthAdjust="spacingAndGlyphs" xml:space="preserve">INSTALL HIGH ON</text>
<text x="381.5" y="630.1" font-size="5.8" textLength="40.1" lengthAdjust="spacingAndGlyphs" xml:space="preserve">WALL FOR FLAT</text>
<text x="381.5" y="637.1" font-size="5.8" textLength="28.1" lengthAdjust="spacingAndGlyphs" xml:space="preserve">SCREEN TV</text>
<line x1="394.8" y1="639.9" x2="386.5" y2="704.6" stroke="#000" stroke-width="0.8"/>
<path d="M386.5 704.6 L386.17 698.51 L388.35 698.79 Z" fill="#000" stroke="#000" stroke-width="0.3"/>
<line x1="396.6" y1="639.9" x2="393.3" y2="706.5" stroke="#000" stroke-width="0.8"/>
<path d="M393.3 706.5 L392.5 700.45 L394.7 700.56 Z" fill="#000" stroke="#000" stroke-width="0.3"/>
<text x="267.9" y="778" font-size="5.8" textLength="47.6" lengthAdjust="spacingAndGlyphs" xml:space="preserve">OUTLETS IN FRAME</text>
<text x="267.9" y="785.1" font-size="5.8" textLength="32.8" lengthAdjust="spacingAndGlyphs" xml:space="preserve">WALL BELOW</text>
<text x="267.9" y="791.9" font-size="5.8" textLength="22.2" lengthAdjust="spacingAndGlyphs" xml:space="preserve">COUNTER</text>
<line x1="315.5" y1="775.8" x2="332.7" y2="772.1" stroke="#000" stroke-width="0.8"/>
<path d="M332.7 772.1 L328.04 774.23 L327.58 772.08 Z" fill="#000" stroke="#000" stroke-width="0.3"/>
<line x1="300.7" y1="786.9" x2="324.2" y2="809.5" stroke="#000" stroke-width="0.8"/>
<path d="M324.2 809.5 L319.83 806.83 L321.36 805.24 Z" fill="#000" stroke="#000" stroke-width="0.3"/>
<line x1="285.9" y1="794.3" x2="281.2" y2="818.4" stroke="#000" stroke-width="0.8"/>
<path d="M281.2 818.4 L281.08 813.28 L283.24 813.7 Z" fill="#000" stroke="#000" stroke-width="0.3"/>
<text x="531.3" y="561.3" font-size="5.8" font-style="italic" textLength="114.7" lengthAdjust="spacingAndGlyphs" xml:space="preserve">INSTALL OUTLET AND TV / CABLE JACK HIGH</text>
<text x="531.3" y="568.7" font-size="5.8" font-style="italic" textLength="109.8" lengthAdjust="spacingAndGlyphs" xml:space="preserve">ON WALL FOR TV ON SWING-ARM BRACKET</text>
<path d="M529.8 564 L512.8 568.7" fill="none" stroke="#000" stroke-width="0.8"/>
<line x1="512.8" y1="568.7" x2="518.7" y2="612.1" stroke="#000" stroke-width="0.8"/>
<path d="M518.7 612.1 L516.8 606.3 L518.98 606.01 Z" fill="#000" stroke="#000" stroke-width="0.3"/>
<line x1="616.7" y1="572.4" x2="636.2" y2="614" stroke="#000" stroke-width="0.8"/>
<path d="M636.2 614 L632.66 609.03 L634.65 608.1 Z" fill="#000" stroke="#000" stroke-width="0.3"/>
<path d="M647.2 565 L725.1 575.1" fill="none" stroke="#000" stroke-width="0.8"/>
<line x1="725.1" y1="575.1" x2="753.4" y2="613.1" stroke="#000" stroke-width="0.8"/>
<path d="M753.4 613.1 L748.93 608.94 L750.7 607.63 Z" fill="#000" stroke="#000" stroke-width="0.3"/>
<text x="873.2" y="569.6" font-size="5.8" font-style="italic" textLength="63.7" lengthAdjust="spacingAndGlyphs" xml:space="preserve">OUTLET FOR AUTOCLAVE</text>
<text x="873.2" y="576.1" font-size="5.8" font-style="italic" textLength="73.1" lengthAdjust="spacingAndGlyphs" xml:space="preserve">ON DEDICATED 20A CIRCUIT</text>
<text x="873.2" y="582.5" font-size="5.8" font-style="italic" textLength="54" lengthAdjust="spacingAndGlyphs" xml:space="preserve">( VERIFY LOCATION )</text>
<path d="M891.7 584.4 L887.5 615.5" fill="none" stroke="#000" stroke-width="0.8"/>
<line x1="887.5" y1="615.5" x2="859.7" y2="630.6" stroke="#000" stroke-width="0.8"/>
<path d="M859.7 630.6 L863.57 627.25 L864.62 629.18 Z" fill="#000" stroke="#000" stroke-width="0.3"/>
<text x="805.2" y="691.3" font-size="5.8" textLength="40.7" lengthAdjust="spacingAndGlyphs" xml:space="preserve">BOX IN WALL FOR</text>
<text x="805.2" y="698.1" font-size="5.8" textLength="37" lengthAdjust="spacingAndGlyphs" xml:space="preserve">CONTROL PANEL</text>
<path d="M820 700 L822.7 712.9" fill="none" stroke="#000" stroke-width="0.8"/>
<line x1="822.7" y1="712.9" x2="843.1" y2="729.6" stroke="#000" stroke-width="0.8"/>
<path d="M843.1 729.6 L838.53 727.28 L839.93 725.58 Z" fill="#000" stroke="#000" stroke-width="0.3"/>
<text x="457.3" y="763.8" font-size="5.8" font-style="italic" textLength="58.6" lengthAdjust="spacingAndGlyphs" xml:space="preserve">OUTLET ON DEDICATED</text>
<text x="457.3" y="770.6" font-size="5.8" font-style="italic" textLength="58.6" lengthAdjust="spacingAndGlyphs" xml:space="preserve">CIRCUIT FOR PANOREX</text>
<text x="457.3" y="777.7" font-size="5.8" font-style="italic" textLength="59.9" lengthAdjust="spacingAndGlyphs" xml:space="preserve">( VERIFY POWER REQ. )</text>
<path d="M492.8 779.5 L499.3 795.2" fill="none" stroke="#000" stroke-width="0.8"/>
<line x1="499.3" y1="795.2" x2="491" y2="811" stroke="#000" stroke-width="0.8"/>
<path d="M491 811 L492.35 806.06 L494.3 807.09 Z" fill="#000" stroke="#000" stroke-width="0.3"/>
<text x="417" y="814.3" font-size="5.8" textLength="42.9" lengthAdjust="spacingAndGlyphs" xml:space="preserve">INSTALL HIGH ON</text>
<text x="417" y="821.1" font-size="5.8" textLength="40.3" lengthAdjust="spacingAndGlyphs" xml:space="preserve">WALL FOR FLAT</text>
<text x="417" y="828" font-size="5.8" textLength="27.7" lengthAdjust="spacingAndGlyphs" xml:space="preserve">SCREEN TV</text>
<line x1="449.4" y1="826.7" x2="474.3" y2="828.5" stroke="#000" stroke-width="0.8"/>
<path d="M474.3 828.5 L469.23 829.24 L469.39 827.04 Z" fill="#000" stroke="#000" stroke-width="0.3"/>
<line x1="449.4" y1="826.7" x2="475.2" y2="837.2" stroke="#000" stroke-width="0.8"/>
<path d="M475.2 837.2 L470.15 836.33 L470.98 834.3 Z" fill="#000" stroke="#000" stroke-width="0.3"/>
<text x="410.5" y="851.3" font-size="5.8" textLength="49" lengthAdjust="spacingAndGlyphs" xml:space="preserve">OUTLET FOR FALSE</text>
<text x="410.5" y="858.5" font-size="5.8" textLength="47.2" lengthAdjust="spacingAndGlyphs" xml:space="preserve">FIREPLACE BELOW</text>
<line x1="459.5" y1="854.4" x2="474.3" y2="855.7" stroke="#000" stroke-width="0.8"/>
<path d="M474.3 855.7 L469.22 856.36 L469.42 854.17 Z" fill="#000" stroke="#000" stroke-width="0.3"/>
<text x="597.3" y="849.4" font-size="5.8" textLength="42.5" lengthAdjust="spacingAndGlyphs" xml:space="preserve">INSTALL HIGH ON</text>
<text x="597.3" y="856.3" font-size="5.8" textLength="40.7" lengthAdjust="spacingAndGlyphs" xml:space="preserve">WALL FOR FLAT</text>
<text x="597.3" y="863.1" font-size="5.8" textLength="27.8" lengthAdjust="spacingAndGlyphs" xml:space="preserve">SCREEN TV</text>
<line x1="640.8" y1="847.6" x2="665.7" y2="840.6" stroke="#000" stroke-width="0.8"/>
<path d="M665.7 840.6 L661.18 843.01 L660.59 840.89 Z" fill="#000" stroke="#000" stroke-width="0.3"/>
<line x1="640.8" y1="847.6" x2="665.7" y2="847" stroke="#000" stroke-width="0.8"/>
<path d="M665.7 847 L660.73 848.22 L660.67 846.02 Z" fill="#000" stroke="#000" stroke-width="0.3"/>
<text x="887.6" y="911.2" font-size="5.8" font-style="italic" textLength="89.4" lengthAdjust="spacingAndGlyphs" xml:space="preserve">COMPRESSOR AND VACUUM PUMP -</text>
<text x="887.6" y="918.1" font-size="5.8" font-style="italic" textLength="80.8" lengthAdjust="spacingAndGlyphs" xml:space="preserve">SEE EQUIPMENT DRAWINGS AND</text>
<text x="887.6" y="925.2" font-size="5.8" font-style="italic" textLength="79.7" lengthAdjust="spacingAndGlyphs" xml:space="preserve">ELECTRICAL REQUIREMENTS BY</text>
<text x="887.6" y="932.1" font-size="5.8" font-style="italic" textLength="101.2" lengthAdjust="spacingAndGlyphs" xml:space="preserve">BENCO. PROVIDE BOXES, DISCONNECTS,</text>
<text x="887.6" y="938.6" font-size="5.8" font-style="italic" textLength="104.5" lengthAdjust="spacingAndGlyphs" xml:space="preserve">AND SPECIAL OUTLET FOR COMPRESSOR</text>
<text x="887.6" y="945.7" font-size="5.8" font-style="italic" textLength="34.1" lengthAdjust="spacingAndGlyphs" xml:space="preserve">AS REQUIRED</text>
<path d="M885.5 919.2 L862.9 919.2" fill="none" stroke="#000" stroke-width="0.8"/>
<line x1="862.9" y1="919.2" x2="852.1" y2="882.2" stroke="#000" stroke-width="0.8"/>
<path d="M852.1 882.2 L854.56 886.69 L852.45 887.31 Z" fill="#000" stroke="#000" stroke-width="0.3"/>
<text x="791.8" y="916.2" font-size="5.8" textLength="25.8" lengthAdjust="spacingAndGlyphs" xml:space="preserve">NEW 100A</text>
<text x="791.8" y="923.1" font-size="5.8" textLength="24.8" lengthAdjust="spacingAndGlyphs" xml:space="preserve">ELECTRIC</text>
<text x="791.8" y="930" font-size="5.8" textLength="20" lengthAdjust="spacingAndGlyphs" xml:space="preserve">PANELS</text>
<line x1="801.5" y1="909.1" x2="794.6" y2="894" stroke="#000" stroke-width="0.8"/>
<path d="M794.6 894 L798.09 899 L796.09 899.91 Z" fill="#000" stroke="#000" stroke-width="0.3"/>
<line x1="806.9" y1="909.1" x2="812.3" y2="894" stroke="#000" stroke-width="0.8"/>
<path d="M812.3 894 L811.32 900.02 L809.24 899.28 Z" fill="#000" stroke="#000" stroke-width="0.3"/>
<text x="536.6" y="911.5" font-size="5.8" font-style="italic" textLength="65.1" lengthAdjust="spacingAndGlyphs" xml:space="preserve">OUTLET FOR PROCESSOR</text>
<text x="536.6" y="918.2" font-size="5.8" font-style="italic" textLength="70.8" lengthAdjust="spacingAndGlyphs" xml:space="preserve">ON DEDICATED 15A CIRCUIT</text>
<text x="536.6" y="925.1" font-size="5.8" font-style="italic" textLength="54.1" lengthAdjust="spacingAndGlyphs" xml:space="preserve">( VERIFY LOCATION )</text>
<line x1="546" y1="905.4" x2="537.9" y2="887.1" stroke="#000" stroke-width="0.8"/>
<path d="M537.9 887.1 L540.93 891.23 L538.92 892.12 Z" fill="#000" stroke="#000" stroke-width="0.3"/>
<line x1="447.2" y1="941.6" x2="358.3" y2="941.6" stroke="#000" stroke-width="0.8"/>
<path d="M358.3 941.6 L364.3 940.5 L364.3 942.7 Z" fill="#000" stroke="#000" stroke-width="0.3"/>
<text x="456.9" y="943.6" font-size="5.4" textLength="38.3" lengthAdjust="spacingAndGlyphs" xml:space="preserve">E X I S T I N G</text>
<text x="513.9" y="943.6" font-size="5.4" textLength="43.1" lengthAdjust="spacingAndGlyphs" xml:space="preserve">C O R R I D O R</text>
<line x1="565.1" y1="941.6" x2="655" y2="941.6" stroke="#000" stroke-width="0.8"/>
<path d="M655 941.6 L649 942.7 L649 940.5 Z" fill="#000" stroke="#000" stroke-width="0.3"/>
<text class="n" x="662.6" y="987.7" font-size="11.4" textLength="150.7" lengthAdjust="spacingAndGlyphs" xml:space="preserve">ELECTRICAL POWER PLAN</text>
<line x1="657.2" y1="993" x2="842.4" y2="993" stroke="#000" stroke-width="1.3"/>
<text x="787.5" y="1002.7" font-size="5" textLength="27.4" lengthAdjust="spacingAndGlyphs" xml:space="preserve">1/4" = 1'-0"</text>
<circle cx="858.6" cy="993" r="16.8" fill="none" stroke="#000" stroke-width="0.9"/>
<line x1="837.8" y1="993" x2="881.4" y2="993" stroke="#000" stroke-width="0.7"/>
<line x1="858.6" y1="972.2" x2="858.6" y2="1013.8" stroke="#000" stroke-width="0.7"/>
<rect x="855.8" y="976.7" width="2.8" height="10.3" fill="#888" stroke="#000" stroke-width="0.5"/>
<rect x="855.8" y="999" width="2.8" height="10.3" fill="#888" stroke="#000" stroke-width="0.5"/>
<path d="M858.6 976.2 L875.4 993 L858.6 1009.8" fill="none" stroke="#000" stroke-width="0.9"/>
<line x1="844.3" y1="983" x2="855.8" y2="983" stroke="#000" stroke-width="0.8"/>
<line x1="844.3" y1="1003" x2="855.8" y2="1003" stroke="#000" stroke-width="0.8"/>
<text class="n" x="854" y="988" font-size="14" transform="rotate(90 854 988)" xml:space="preserve">N</text>
<rect x="1290.4" y="96.7" width="220.1" height="193.9" fill="none" stroke="#000" stroke-width="1"/>
<text class="n" x="1301.5" y="114.4" font-size="7.4" textLength="65.8" lengthAdjust="spacingAndGlyphs" xml:space="preserve">H. V. A. C.  NOTES :</text>
<line x1="1298" y1="117.4" x2="1370.6" y2="117.4" stroke="#000" stroke-width="0.9"/>
<text x="1297.8" y="129.2" font-size="6.1" textLength="180.8" lengthAdjust="spacingAndGlyphs" xml:space="preserve">HVAC CONTRACTOR TO VERIFY LOCATION OF EXISTING ROOFTOP UNIT</text>
<text x="1297.8" y="136.2" font-size="6.1" textLength="144.2" lengthAdjust="spacingAndGlyphs" xml:space="preserve">ABOVE PROPOSED BUILD-OUT FOR NEW DENTAL OFFICE.</text>
<text x="1297.8" y="146.4" font-size="6.1" textLength="167.5" lengthAdjust="spacingAndGlyphs" xml:space="preserve">VERIFY CAPACITY OF EXISTING ROOFTOP HEATING COOLING UNIT</text>
<text x="1297.8" y="156.9" font-size="6.1" textLength="183.7" lengthAdjust="spacingAndGlyphs" xml:space="preserve">FIELD VERIFY LOCATIONS OF EXISTING SUPPLY AND RETURN AIR DUCTS</text>
<text x="1297.8" y="163.7" font-size="6.1" textLength="202.7" lengthAdjust="spacingAndGlyphs" xml:space="preserve">IN EXISTING EAST WALL OF TENANT SPACE ( BOT / EXIST DUCTS ± 8'-2" A.F.F. )</text>
<text x="1297.8" y="173.6" font-size="6.1" textLength="202.7" lengthAdjust="spacingAndGlyphs" xml:space="preserve">MODIFY OR RELOCATE EXISTING DUCTWORK, THERMOSTATS, ETC. AS REQUIRED</text>
<text x="1297.8" y="180.4" font-size="6.1" textLength="194.1" lengthAdjust="spacingAndGlyphs" xml:space="preserve">INSTALL ALL NEW DUCTWORK, GRILLES, REGISTERS, ETC. AS NECESSARY TO</text>
<text x="1297.8" y="187.4" font-size="6.1" textLength="180.2" lengthAdjust="spacingAndGlyphs" xml:space="preserve">SUPPLY AND RETURN AIR LOCATIONS AS INDICATED ON CEILING PLAN.</text>
<text x="1297.8" y="198.3" font-size="6.1" textLength="195.6" lengthAdjust="spacingAndGlyphs" xml:space="preserve">SEE PLAN FOR SOFFIT ALONG EAST WALL OF WAITING ROOM IF NECESSARY</text>
<text x="1297.8" y="209.8" font-size="6.1" textLength="191.2" lengthAdjust="spacingAndGlyphs" xml:space="preserve">INSTALL ALL NEW DUCTWORK AS HIGH AS POSSIBLE IN AND / OR THROUGH</text>
<text x="1297.8" y="216.9" font-size="6.1" textLength="184.2" lengthAdjust="spacingAndGlyphs" xml:space="preserve">EXISTING STEEL ROOF JOISTS TO MAXIMIZE FINISHED CEILING HEIGHT IN</text>
<text x="1297.8" y="223.6" font-size="6.1" textLength="51" lengthAdjust="spacingAndGlyphs" xml:space="preserve">NEW OFFICE AREAS.</text>
<text x="1297.8" y="235.5" font-size="6.1" textLength="74.7" lengthAdjust="spacingAndGlyphs" xml:space="preserve">ALL DUCTWORK TO BE SOLID</text>
<text x="1297.8" y="247.3" font-size="6.1" textLength="121.6" lengthAdjust="spacingAndGlyphs" xml:space="preserve">NO DUCTS TO BE LOCATED IN EXTERIOR WALLS</text>
<text x="1297.8" y="260.4" font-size="6.1" textLength="188.6" lengthAdjust="spacingAndGlyphs" xml:space="preserve">EXHAUST FANS IN NEW TOILET ROOM AND STORAGE / ELECTRIC ROOM TO</text>
<text x="1297.8" y="267.3" font-size="6.1" textLength="107.2" lengthAdjust="spacingAndGlyphs" xml:space="preserve">BE VENTED THROUGH ROOF TO EXTERIOR.</text>
<text x="1297.8" y="279.9" font-size="6.1" textLength="204.2" lengthAdjust="spacingAndGlyphs" xml:space="preserve">ALL WORK SHALL COMPLY WITH ELK GROVE VILLAGE AND ALL OTHER APPLICABLE CODES</text>
<rect x="1184" y="147" width="20" height="19.4" fill="none" stroke="#000" stroke-width="0.9"/>
<line x1="1184" y1="147" x2="1204" y2="166.4" stroke="#000" stroke-width="0.8"/>
<line x1="1204" y1="147" x2="1184" y2="166.4" stroke="#000" stroke-width="0.8"/>
<text x="1215.9" y="153.4" font-size="5.8" textLength="56.8" lengthAdjust="spacingAndGlyphs" xml:space="preserve">24" X 24" SUPPLY AIR</text>
<text x="1215.9" y="160.3" font-size="5.8" textLength="67" lengthAdjust="spacingAndGlyphs" xml:space="preserve">DIFFUSER IN CEILING GRID</text>
<rect x="1184" y="178.4" width="20" height="19.4" fill="none" stroke="#000" stroke-width="0.9"/>
<line x1="1184" y1="178.4" x2="1204" y2="197.8" stroke="#000" stroke-width="0.8"/>
<text x="1215.9" y="186.2" font-size="5.8" textLength="29.6" lengthAdjust="spacingAndGlyphs" xml:space="preserve">RETURN AIR</text>
<text x="1215.9" y="193.2" font-size="5.8" textLength="61.4" lengthAdjust="spacingAndGlyphs" xml:space="preserve">GRILLE IN CEILING GRID</text>
<rect x="1325.3" y="337.4" width="175.3" height="256.6" fill="none" stroke="#000" stroke-width="1"/>
<text class="n" x="1340.4" y="350.5" font-size="8" textLength="93.2" lengthAdjust="spacingAndGlyphs" xml:space="preserve">ELECTRIC SYMBOL LEGEND</text>
<line x1="1335.9" y1="353.6" x2="1486.7" y2="353.6" stroke="#000" stroke-width="0.9"/>
<circle cx="1354.7" cy="364.7" r="2.8" fill="none" stroke="#000" stroke-width="0.8"/>
<line x1="1350.1" y1="364.7" x2="1359.3" y2="364.7" stroke="#000" stroke-width="0.7"/>
<line x1="1354.7" y1="360.1" x2="1354.7" y2="369.3" stroke="#000" stroke-width="0.7"/>
<text x="1384" y="363.7" font-size="5.8" textLength="62.8" lengthAdjust="spacingAndGlyphs" xml:space="preserve">WALL OR CEIL. MOUNTED</text>
<text x="1384" y="370.5" font-size="5.8" textLength="36.7" lengthAdjust="spacingAndGlyphs" xml:space="preserve">LIGHT FIXTURE</text>
<line x1="1350.2" y1="379.8" x2="1359.2" y2="379.8" stroke="#000" stroke-width="0.8"/>
<text x="1354.7" y="381.8" font-size="6" text-anchor="middle" xml:space="preserve">$</text>
<text x="1384" y="381.5" font-size="5.8" textLength="90.4" lengthAdjust="spacingAndGlyphs" xml:space="preserve">SWITCH ( 3-WAY WHERE REQUIRED )</text>
<circle cx="1354.7" cy="390.8" r="3.2" fill="none" stroke="#000" stroke-width="0.8"/>
<text x="1354.7" y="392.8" font-size="5.2" text-anchor="middle" xml:space="preserve">J</text>
<text x="1372.8" y="393.4" font-size="5.8" textLength="109.8" lengthAdjust="spacingAndGlyphs" xml:space="preserve">JUNCTION BOX ABOVE CEILING OR IN WALL</text>
<circle cx="1354.7" cy="403.3" r="2.6" fill="none" stroke="#000" stroke-width="0.8"/>
<line x1="1350.4" y1="402.4" x2="1359" y2="402.4" stroke="#000" stroke-width="0.7"/>
<line x1="1350.4" y1="404.2" x2="1359" y2="404.2" stroke="#000" stroke-width="0.7"/>
<text x="1365.7" y="405.5" font-size="5.8" textLength="54.3" lengthAdjust="spacingAndGlyphs" xml:space="preserve">DUPLEX RECEPTACLE</text>
<circle cx="1431.3" cy="402.9" r="2.6" fill="#888" stroke="#000" stroke-width="0.8"/>
<line x1="1432.2" y1="398.4" x2="1432.2" y2="407.4" stroke="#000" stroke-width="0.8"/>
<line x1="1430.4" y1="398.4" x2="1430.4" y2="407.4" stroke="#000" stroke-width="0.8"/>
<text x="1439.5" y="405.5" font-size="5.8" textLength="49.5" lengthAdjust="spacingAndGlyphs" xml:space="preserve">QUAD RECEPTACLE</text>
<circle cx="1354.7" cy="415.4" r="3.9" fill="none" stroke="#000" stroke-width="0.9"/>
<text x="1354.7" y="417.5" font-size="5.6" text-anchor="middle" xml:space="preserve">D</text>
<text x="1384" y="417.8" font-size="5.8" textLength="41.9" lengthAdjust="spacingAndGlyphs" xml:space="preserve">HEAT DETECTOR</text>
<circle cx="1354.7" cy="427.7" r="3.6" fill="none" stroke="#000" stroke-width="0.9"/>
<text x="1384" y="430.1" font-size="5.8" textLength="55.9" lengthAdjust="spacingAndGlyphs" xml:space="preserve">RECESSED CAN LIGHT</text>
<path d="M1352.1 436.8 L1352.1 445.2 L1358.9 441.1 Z" fill="#000" stroke="#000" stroke-width="0.5"/>
<text x="1384" y="445" font-size="5.8" textLength="45.8" lengthAdjust="spacingAndGlyphs" xml:space="preserve">TV / CABLE JACK</text>
<path d="M1352.5 451.4 L1352.5 459.5 L1358.5 455.6 Z" fill="none" stroke="#000" stroke-width="0.8"/>
<text x="1384" y="457.5" font-size="5.8" textLength="44" lengthAdjust="spacingAndGlyphs" xml:space="preserve">TELEPHONE JACK</text>
<rect x="1344.3" y="467.4" width="41.4" height="18.2" fill="none" stroke="#000" stroke-width="1"/>
<text x="1399" y="475.8" font-size="5.8" textLength="84.5" lengthAdjust="spacingAndGlyphs" xml:space="preserve">2' X 4'  RECESSED FLUORESCENT</text>
<text x="1399" y="482.9" font-size="5.8" textLength="73.9" lengthAdjust="spacingAndGlyphs" xml:space="preserve">FLUORESCENT LIGHT FIXTURE</text>
<rect x="1357" y="494.7" width="18.6" height="18.6" fill="none" stroke="#000" stroke-width="1"/>
<text x="1399" y="502.7" font-size="5.8" textLength="84.5" lengthAdjust="spacingAndGlyphs" xml:space="preserve">2' X 2'  RECESSED FLUORESCENT</text>
<text x="1399" y="510.1" font-size="5.8" textLength="73.9" lengthAdjust="spacingAndGlyphs" xml:space="preserve">FLUORESCENT LIGHT FIXTURE</text>
<rect x="1361.8" y="527.3" width="8.4" height="5.8" fill="none" stroke="#000" stroke-width="0.8"/>
<path d="M1361.8 526.6 L1356 529.6 L1361.8 529.6 Z" fill="#fff" stroke="#000" stroke-width="0.8"/>
<path d="M1356 529.6 L1358.5 524.6 L1361.8 529.6 Z" fill="#fff" stroke="#000" stroke-width="0.8"/>
<path d="M1376 529.6 L1373.5 524.6 L1370.2 529.6 Z" fill="#fff" stroke="#000" stroke-width="0.8"/>
<text x="1365.4" y="523.9" font-size="5" text-anchor="middle" xml:space="preserve">EM</text>
<text x="1387.4" y="531.6" font-size="5.8" textLength="79" lengthAdjust="spacingAndGlyphs" xml:space="preserve">DUAL HEAD EMERGENCY LIGHT</text>
<line x1="1467.5" y1="525.8" x2="1473.5" y2="525.8" stroke="#000" stroke-width="0.6"/>
<line x1="1468.38" y1="523.68" x2="1472.62" y2="527.92" stroke="#000" stroke-width="0.6"/>
<line x1="1470.5" y1="522.8" x2="1470.5" y2="528.8" stroke="#000" stroke-width="0.6"/>
<line x1="1472.62" y1="523.68" x2="1468.38" y2="527.92" stroke="#000" stroke-width="0.6"/>
<text x="1366" y="545.2" font-size="5.6" text-anchor="middle" xml:space="preserve">EXIT</text>
<circle cx="1366" cy="551.9" r="5.2" fill="none" stroke="#000" stroke-width="0.9"/>
<line x1="1362.32" y1="548.22" x2="1369.68" y2="555.58" stroke="#000" stroke-width="0.7"/>
<line x1="1369.68" y1="548.22" x2="1362.32" y2="555.58" stroke="#000" stroke-width="0.7"/>
<path d="M1366 551.9 L1362.32 548.22 A5.2 5.2 0 0 1 1369.68 548.22 Z" fill="#000" stroke="#000" stroke-width="0.3"/>
<text x="1388" y="552.6" font-size="5.8" textLength="62.5" lengthAdjust="spacingAndGlyphs" xml:space="preserve">ILLUMINATED "EXIT" SIGN</text>
<line x1="1453" y1="547.8" x2="1459" y2="547.8" stroke="#000" stroke-width="0.6"/>
<line x1="1453.88" y1="545.68" x2="1458.12" y2="549.92" stroke="#000" stroke-width="0.6"/>
<line x1="1456" y1="544.8" x2="1456" y2="550.8" stroke="#000" stroke-width="0.6"/>
<line x1="1458.12" y1="545.68" x2="1453.88" y2="549.92" stroke="#000" stroke-width="0.6"/>
<line x1="1348.2" y1="566.4" x2="1354.2" y2="566.4" stroke="#000" stroke-width="0.6"/>
<line x1="1349.08" y1="564.28" x2="1353.32" y2="568.52" stroke="#000" stroke-width="0.6"/>
<line x1="1351.2" y1="563.4" x2="1351.2" y2="569.4" stroke="#000" stroke-width="0.6"/>
<line x1="1353.32" y1="564.28" x2="1349.08" y2="568.52" stroke="#000" stroke-width="0.6"/>
<text x="1346.3" y="576.5" font-size="5.8" textLength="117.5" lengthAdjust="spacingAndGlyphs" xml:space="preserve">ACTUAL EXIT SIGNS AND EMERGENCY LIGHT UNITS</text>
<text x="1346.3" y="583.4" font-size="5.8" textLength="90.6" lengthAdjust="spacingAndGlyphs" xml:space="preserve">AS REQUIRED BY LOCAL ORDINANCES.</text>
<rect x="1243.5" y="624" width="264.5" height="216.4" fill="none" stroke="#000" stroke-width="1"/>
<text class="n" x="1252.8" y="636.7" font-size="7.6" textLength="71.2" lengthAdjust="spacingAndGlyphs" xml:space="preserve">ELECTRICAL NOTES :</text>
<line x1="1250.2" y1="640.4" x2="1336.7" y2="640.4" stroke="#000" stroke-width="0.9"/>
<text x="1253.7" y="653.1" font-size="6.1" textLength="242.6" lengthAdjust="spacingAndGlyphs" xml:space="preserve">ELECTRICIAN TO PROVIDE AND INSTALL TWO NEW  100 AMP PANELS, WITH BREAKERS, WIRING ,</text>
<text x="1253.7" y="659.7" font-size="6.1" textLength="229.4" lengthAdjust="spacingAndGlyphs" xml:space="preserve">ETC. AS REQUIRED FOR NEW OUTLETS, LIGHTING, AND EQUIPMENT FOR NEW OFFICE SPACE.</text>
<text x="1253.7" y="672" font-size="6.1" textLength="222" lengthAdjust="spacingAndGlyphs" xml:space="preserve">PROVIDE AND INSTALL ALL NEW CONDUITS AND WIRING, LIGHT FIXTURES, OUTLETS, ETC.</text>
<text x="1253.7" y="678.9" font-size="6.1" textLength="77.3" lengthAdjust="spacingAndGlyphs" xml:space="preserve">REQUIRED FOR THIS PROJECT.</text>
<text x="1253.7" y="690.8" font-size="6.1" textLength="80" lengthAdjust="spacingAndGlyphs" xml:space="preserve">ALL WIRING SHALL BE COPPER</text>
<text x="1253.7" y="702.8" font-size="6.1" textLength="145" lengthAdjust="spacingAndGlyphs" xml:space="preserve">FIELD VERIFY LOCATIONS OF ALL OUTLETS WITH OWNER.</text>
<text x="1253.7" y="715.1" font-size="6.1" textLength="243.8" lengthAdjust="spacingAndGlyphs" xml:space="preserve">SEE OWNER OR OWNER'S EQUIPMENT REP FOR POWER REQUIREMENTS FOR DENTAL CHAIRS AND</text>
<text x="1253.7" y="722.1" font-size="6.1" textLength="71.2" lengthAdjust="spacingAndGlyphs" xml:space="preserve">OTHER SPECIAL EQUIPMENT.</text>
<text x="1253.7" y="729.9" font-size="6.1" textLength="219.2" lengthAdjust="spacingAndGlyphs" xml:space="preserve">PROVIDE CIRCUITS AND POWER FOR COMPRESSOR, VACUUM PUMP, X-RAY EQUIPMENT,</text>
<text x="1253.7" y="736.5" font-size="6.1" textLength="48" lengthAdjust="spacingAndGlyphs" xml:space="preserve">ETC. AS REQUIRED</text>
<text x="1253.7" y="749.7" font-size="6.1" textLength="199.9" lengthAdjust="spacingAndGlyphs" xml:space="preserve">VERIFY LOCATIONS OF CABLE , DSL, TELEPHONE OR OTHER SPECIAL OUTLETS</text>
<text x="1253.7" y="756.7" font-size="6.1" textLength="109.3" lengthAdjust="spacingAndGlyphs" xml:space="preserve">REQUIRED FOR THIS PROJECT WITH OWNER</text>
<text x="1253.7" y="770.8" font-size="6.1" textLength="209.2" lengthAdjust="spacingAndGlyphs" xml:space="preserve">OUTLET IN TOILET ROOM AND OUTLETS ABOVE STERILIZATION COUNTER TO BE ON</text>
<text x="1253.7" y="777.8" font-size="6.1" textLength="93.7" lengthAdjust="spacingAndGlyphs" xml:space="preserve">GROUND FAULT PROTECTED CIRCUIT.</text>
<text x="1253.7" y="791.4" font-size="6.1" textLength="199.1" lengthAdjust="spacingAndGlyphs" xml:space="preserve">INCLUDE CIRCUITS, WIRING / CONNECTIONS FOR NEW ELECTRIC WATER HEATER</text>
<text x="1253.7" y="804.7" font-size="6.1" textLength="209.7" lengthAdjust="spacingAndGlyphs" xml:space="preserve">LOCATIONS OF EXIT, EM LIGHTS, AND FIRE ALARM EQUIPMENT SHALL BE VERIFIED</text>
<text x="1253.7" y="812.3" font-size="6.1" textLength="102" lengthAdjust="spacingAndGlyphs" xml:space="preserve">WITH BUILDING DEPARTMENT OFFICIALS.</text>
<text x="1253.7" y="824" font-size="6.1" textLength="196" lengthAdjust="spacingAndGlyphs" xml:space="preserve">ALL WORK SHALL COMPLY WITH NEC ( CURRENT NATIONAL ELECTRIC CODE )</text>
<text x="1253.7" y="830.7" font-size="6.1" textLength="87.9" lengthAdjust="spacingAndGlyphs" xml:space="preserve">AND ELK GROVE VILLAGE CODES.</text>
<rect x="974.4" y="448.3" width="154.6" height="39.1" fill="none" stroke="#000" stroke-width="1.1"/>
<text x="987.3" y="461.3" font-size="6.1" textLength="130.8" lengthAdjust="spacingAndGlyphs" xml:space="preserve">REFER TO DRAWINGS BY SPRINKLER CONTRACTOR</text>
<text x="987.3" y="468.3" font-size="6.1" textLength="121.6" lengthAdjust="spacingAndGlyphs" xml:space="preserve">FOR LOCATIONS OF NEW AND / OR RELOCATED</text>
<text x="987.3" y="475.2" font-size="6.1" textLength="61.2" lengthAdjust="spacingAndGlyphs" xml:space="preserve">SPRINKLER HEADS, ETC.</text>
<rect x="603.2" y="51.6" width="120.6" height="25.6" fill="none" stroke="#000" stroke-width="1"/>
<text x="610.3" y="61.7" font-size="6.1" textLength="98.4" lengthAdjust="spacingAndGlyphs" xml:space="preserve">TYPICAL NEW 2' X 2' SUSPENDED GRID</text>
<text x="610.3" y="68.6" font-size="6.1" textLength="102.3" lengthAdjust="spacingAndGlyphs" xml:space="preserve">CEILING WITH LAY-IN ACOUSTICAL TILES</text>
<line x1="653" y1="77.2" x2="672.8" y2="158.2" stroke="#000" stroke-width="0.8"/>
<path d="M672.8 158.2 L670.21 152.66 L672.54 152.09 Z" fill="#000" stroke="#000" stroke-width="0.3"/>
</svg>
</body></html>
